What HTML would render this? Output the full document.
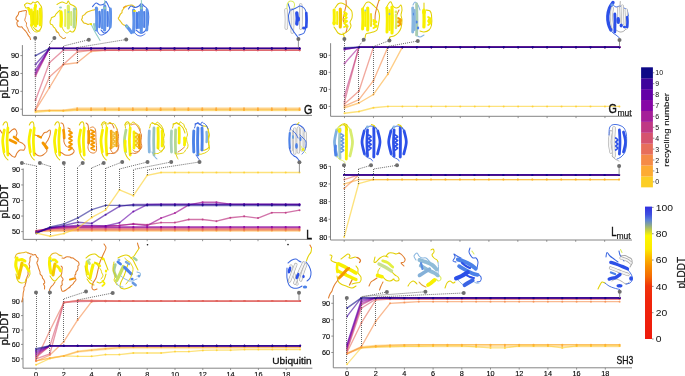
<!DOCTYPE html><html><head><meta charset="utf-8"><style>html,body{margin:0;padding:0;background:#fff;overflow:hidden}svg{display:block;will-change:transform}text{font-family:"Liberation Sans",sans-serif}</style></head><body><svg width="685" height="376" viewBox="0 0 685 376" font-family="Liberation Sans, sans-serif">
<rect width="685" height="376" fill="#fff"/>
<path d="M22.4,45.1V115.4H312" fill="none" stroke="#777" stroke-width="0.9"/>
<path d="M20.4,109.2H22.4" stroke="#777" stroke-width="0.8"/>
<text x="19.2" y="109.5" font-size="7.3" text-anchor="end" dominant-baseline="central" fill="#000" stroke="#000" stroke-width="0.12" transform="translate(0,0) scale(1.0,1)">60</text>
<path d="M20.4,91.33H22.4" stroke="#777" stroke-width="0.8"/>
<text x="19.2" y="91.63" font-size="7.3" text-anchor="end" dominant-baseline="central" fill="#000" stroke="#000" stroke-width="0.12" transform="translate(0,0) scale(1.0,1)">70</text>
<path d="M20.4,73.46H22.4" stroke="#777" stroke-width="0.8"/>
<text x="19.2" y="73.76" font-size="7.3" text-anchor="end" dominant-baseline="central" fill="#000" stroke="#000" stroke-width="0.12" transform="translate(0,0) scale(1.0,1)">80</text>
<path d="M20.4,55.59H22.4" stroke="#777" stroke-width="0.8"/>
<text x="19.2" y="55.89" font-size="7.3" text-anchor="end" dominant-baseline="central" fill="#000" stroke="#000" stroke-width="0.12" transform="translate(0,0) scale(1.0,1)">90</text>
<path d="M35.5,115.4V117.2" stroke="#777" stroke-width="0.8"/>
<path d="M63.3,115.4V117.2" stroke="#777" stroke-width="0.8"/>
<path d="M91.1,115.4V117.2" stroke="#777" stroke-width="0.8"/>
<path d="M118.9,115.4V117.2" stroke="#777" stroke-width="0.8"/>
<path d="M146.7,115.4V117.2" stroke="#777" stroke-width="0.8"/>
<path d="M174.5,115.4V117.2" stroke="#777" stroke-width="0.8"/>
<path d="M202.3,115.4V117.2" stroke="#777" stroke-width="0.8"/>
<path d="M230.1,115.4V117.2" stroke="#777" stroke-width="0.8"/>
<path d="M257.9,115.4V117.2" stroke="#777" stroke-width="0.8"/>
<path d="M285.7,115.4V117.2" stroke="#777" stroke-width="0.8"/>
<path d="M35.5,109.91 L49.4,109.56 L63.3,109.38 L77.2,107.14 L91.1,107.14 L105,107.14 L118.9,107.14 L132.8,107.14 L146.7,107.14 L160.6,107.14 L174.5,107.14 L188.4,107.14 L202.3,107.14 L216.2,107.14 L230.1,107.14 L244,107.14 L257.9,107.14 L271.8,107.14 L285.7,107.14 L299.6,107.14 L299.6,111.26 L285.7,111.26 L271.8,111.26 L257.9,111.26 L244,111.26 L230.1,111.26 L216.2,111.26 L202.3,111.26 L188.4,111.26 L174.5,111.26 L160.6,111.26 L146.7,111.26 L132.8,111.26 L118.9,111.26 L105,111.26 L91.1,111.26 L77.2,111.26 L63.3,111.52 L49.4,111.34 L35.5,111.7Z" fill="#fdc860" fill-opacity="0.5"/>
<path d="M35.5,112.24 L49.4,110.99 L63.3,110.99 L77.2,110.09 L91.1,110.09 L105,110.09 L118.9,110.09 L132.8,110.09 L146.7,110.09 L160.6,110.09 L174.5,110.09 L188.4,110.09 L202.3,110.09 L216.2,110.09 L230.1,110.09 L244,110.09 L257.9,110.09 L271.8,110.09 L285.7,110.09 L299.6,110.09" fill="none" stroke="#fcce25" stroke-width="1.3" stroke-opacity="0.5" stroke-linejoin="round"/>
<circle cx="35.5" cy="112.24" r="1.0" fill="#fcce25" fill-opacity="0.65"/>
<circle cx="49.4" cy="110.99" r="1.0" fill="#fcce25" fill-opacity="0.65"/>
<circle cx="63.3" cy="110.99" r="1.0" fill="#fcce25" fill-opacity="0.65"/>
<circle cx="77.2" cy="110.09" r="1.0" fill="#fcce25" fill-opacity="0.65"/>
<circle cx="91.1" cy="110.09" r="1.0" fill="#fcce25" fill-opacity="0.65"/>
<circle cx="105" cy="110.09" r="1.0" fill="#fcce25" fill-opacity="0.65"/>
<circle cx="118.9" cy="110.09" r="1.0" fill="#fcce25" fill-opacity="0.65"/>
<circle cx="132.8" cy="110.09" r="1.0" fill="#fcce25" fill-opacity="0.65"/>
<circle cx="146.7" cy="110.09" r="1.0" fill="#fcce25" fill-opacity="0.65"/>
<circle cx="160.6" cy="110.09" r="1.0" fill="#fcce25" fill-opacity="0.65"/>
<circle cx="174.5" cy="110.09" r="1.0" fill="#fcce25" fill-opacity="0.65"/>
<circle cx="188.4" cy="110.09" r="1.0" fill="#fcce25" fill-opacity="0.65"/>
<circle cx="202.3" cy="110.09" r="1.0" fill="#fcce25" fill-opacity="0.65"/>
<circle cx="216.2" cy="110.09" r="1.0" fill="#fcce25" fill-opacity="0.65"/>
<circle cx="230.1" cy="110.09" r="1.0" fill="#fcce25" fill-opacity="0.65"/>
<circle cx="244" cy="110.09" r="1.0" fill="#fcce25" fill-opacity="0.65"/>
<circle cx="257.9" cy="110.09" r="1.0" fill="#fcce25" fill-opacity="0.65"/>
<circle cx="271.8" cy="110.09" r="1.0" fill="#fcce25" fill-opacity="0.65"/>
<circle cx="285.7" cy="110.09" r="1.0" fill="#fcce25" fill-opacity="0.65"/>
<circle cx="299.6" cy="110.09" r="1.0" fill="#fcce25" fill-opacity="0.65"/>
<path d="M35.5,110.99 L49.4,110.45 L63.3,110.45 L77.2,109.2 L91.1,109.2 L105,109.2 L118.9,109.2 L132.8,109.2 L146.7,109.2 L160.6,109.2 L174.5,109.2 L188.4,109.2 L202.3,109.2 L216.2,109.2 L230.1,109.2 L244,109.2 L257.9,109.2 L271.8,109.2 L285.7,109.2 L299.6,109.2" fill="none" stroke="#fdab33" stroke-width="1.2" stroke-opacity="0.6" stroke-linejoin="round"/>
<circle cx="35.5" cy="110.99" r="1.0" fill="#fdab33" fill-opacity="0.75"/>
<circle cx="49.4" cy="110.45" r="1.0" fill="#fdab33" fill-opacity="0.75"/>
<circle cx="63.3" cy="110.45" r="1.0" fill="#fdab33" fill-opacity="0.75"/>
<circle cx="77.2" cy="109.2" r="1.0" fill="#fdab33" fill-opacity="0.75"/>
<circle cx="91.1" cy="109.2" r="1.0" fill="#fdab33" fill-opacity="0.75"/>
<circle cx="105" cy="109.2" r="1.0" fill="#fdab33" fill-opacity="0.75"/>
<circle cx="118.9" cy="109.2" r="1.0" fill="#fdab33" fill-opacity="0.75"/>
<circle cx="132.8" cy="109.2" r="1.0" fill="#fdab33" fill-opacity="0.75"/>
<circle cx="146.7" cy="109.2" r="1.0" fill="#fdab33" fill-opacity="0.75"/>
<circle cx="160.6" cy="109.2" r="1.0" fill="#fdab33" fill-opacity="0.75"/>
<circle cx="174.5" cy="109.2" r="1.0" fill="#fdab33" fill-opacity="0.75"/>
<circle cx="188.4" cy="109.2" r="1.0" fill="#fdab33" fill-opacity="0.75"/>
<circle cx="202.3" cy="109.2" r="1.0" fill="#fdab33" fill-opacity="0.75"/>
<circle cx="216.2" cy="109.2" r="1.0" fill="#fdab33" fill-opacity="0.75"/>
<circle cx="230.1" cy="109.2" r="1.0" fill="#fdab33" fill-opacity="0.75"/>
<circle cx="244" cy="109.2" r="1.0" fill="#fdab33" fill-opacity="0.75"/>
<circle cx="257.9" cy="109.2" r="1.0" fill="#fdab33" fill-opacity="0.75"/>
<circle cx="271.8" cy="109.2" r="1.0" fill="#fdab33" fill-opacity="0.75"/>
<circle cx="285.7" cy="109.2" r="1.0" fill="#fdab33" fill-opacity="0.75"/>
<circle cx="299.6" cy="109.2" r="1.0" fill="#fdab33" fill-opacity="0.75"/>
<rect x="76.4" y="107.41" width="1.6" height="3.57" fill="#fca636" fill-opacity="0.8"/>
<rect x="90.3" y="107.41" width="1.6" height="3.57" fill="#fca636" fill-opacity="0.8"/>
<rect x="104.2" y="107.41" width="1.6" height="3.57" fill="#fca636" fill-opacity="0.8"/>
<rect x="118.1" y="107.41" width="1.6" height="3.57" fill="#fca636" fill-opacity="0.8"/>
<rect x="132" y="107.41" width="1.6" height="3.57" fill="#fca636" fill-opacity="0.8"/>
<rect x="145.9" y="107.41" width="1.6" height="3.57" fill="#fca636" fill-opacity="0.8"/>
<rect x="159.8" y="107.41" width="1.6" height="3.57" fill="#fca636" fill-opacity="0.8"/>
<rect x="173.7" y="107.41" width="1.6" height="3.57" fill="#fca636" fill-opacity="0.8"/>
<rect x="187.6" y="107.41" width="1.6" height="3.57" fill="#fca636" fill-opacity="0.8"/>
<rect x="201.5" y="107.41" width="1.6" height="3.57" fill="#fca636" fill-opacity="0.8"/>
<rect x="215.4" y="107.41" width="1.6" height="3.57" fill="#fca636" fill-opacity="0.8"/>
<rect x="229.3" y="107.41" width="1.6" height="3.57" fill="#fca636" fill-opacity="0.8"/>
<rect x="243.2" y="107.41" width="1.6" height="3.57" fill="#fca636" fill-opacity="0.8"/>
<rect x="257.1" y="107.41" width="1.6" height="3.57" fill="#fca636" fill-opacity="0.8"/>
<rect x="271" y="107.41" width="1.6" height="3.57" fill="#fca636" fill-opacity="0.8"/>
<rect x="284.9" y="107.41" width="1.6" height="3.57" fill="#fca636" fill-opacity="0.8"/>
<rect x="298.8" y="107.41" width="1.6" height="3.57" fill="#fca636" fill-opacity="0.8"/>
<path d="M35.5,110.09 L49.4,87.76 L63.3,64.53 L77.2,62.74 L91.1,51.48 L105,50.23 L118.9,50.23 L132.8,50.23 L146.7,50.23 L160.6,50.23 L174.5,50.23 L188.4,50.23 L202.3,50.23 L216.2,50.23 L230.1,50.23 L244,50.23 L257.9,50.23 L271.8,50.23 L285.7,50.23 L299.6,50.23" fill="none" stroke="#f58b47" stroke-width="1.35" stroke-opacity="0.6" stroke-linejoin="round"/>
<circle cx="35.5" cy="110.09" r="1.0" fill="#f58b47" fill-opacity="0.75"/>
<circle cx="49.4" cy="87.76" r="1.0" fill="#f58b47" fill-opacity="0.75"/>
<circle cx="63.3" cy="64.53" r="1.0" fill="#f58b47" fill-opacity="0.75"/>
<circle cx="77.2" cy="62.74" r="1.0" fill="#f58b47" fill-opacity="0.75"/>
<circle cx="91.1" cy="51.48" r="1.0" fill="#f58b47" fill-opacity="0.75"/>
<circle cx="105" cy="50.23" r="1.0" fill="#f58b47" fill-opacity="0.75"/>
<circle cx="118.9" cy="50.23" r="1.0" fill="#f58b47" fill-opacity="0.75"/>
<circle cx="132.8" cy="50.23" r="1.0" fill="#f58b47" fill-opacity="0.75"/>
<circle cx="146.7" cy="50.23" r="1.0" fill="#f58b47" fill-opacity="0.75"/>
<circle cx="160.6" cy="50.23" r="1.0" fill="#f58b47" fill-opacity="0.75"/>
<circle cx="174.5" cy="50.23" r="1.0" fill="#f58b47" fill-opacity="0.75"/>
<circle cx="188.4" cy="50.23" r="1.0" fill="#f58b47" fill-opacity="0.75"/>
<circle cx="202.3" cy="50.23" r="1.0" fill="#f58b47" fill-opacity="0.75"/>
<circle cx="216.2" cy="50.23" r="1.0" fill="#f58b47" fill-opacity="0.75"/>
<circle cx="230.1" cy="50.23" r="1.0" fill="#f58b47" fill-opacity="0.75"/>
<circle cx="244" cy="50.23" r="1.0" fill="#f58b47" fill-opacity="0.75"/>
<circle cx="257.9" cy="50.23" r="1.0" fill="#f58b47" fill-opacity="0.75"/>
<circle cx="271.8" cy="50.23" r="1.0" fill="#f58b47" fill-opacity="0.75"/>
<circle cx="285.7" cy="50.23" r="1.0" fill="#f58b47" fill-opacity="0.75"/>
<circle cx="299.6" cy="50.23" r="1.0" fill="#f58b47" fill-opacity="0.75"/>
<path d="M35.5,109.2 L49.4,77.03 L63.3,64.53 L77.2,52.02 L91.1,50.23 L105,50.23 L118.9,50.23 L132.8,50.23 L146.7,50.23 L160.6,50.23 L174.5,50.23 L188.4,50.23 L202.3,50.23 L216.2,50.23 L230.1,50.23 L244,50.23 L257.9,50.23 L271.8,50.23 L285.7,50.23 L299.6,50.23" fill="none" stroke="#e76e5b" stroke-width="1.35" stroke-opacity="0.6" stroke-linejoin="round"/>
<circle cx="35.5" cy="109.2" r="1.0" fill="#e76e5b" fill-opacity="0.75"/>
<circle cx="49.4" cy="77.03" r="1.0" fill="#e76e5b" fill-opacity="0.75"/>
<circle cx="63.3" cy="64.53" r="1.0" fill="#e76e5b" fill-opacity="0.75"/>
<circle cx="77.2" cy="52.02" r="1.0" fill="#e76e5b" fill-opacity="0.75"/>
<circle cx="91.1" cy="50.23" r="1.0" fill="#e76e5b" fill-opacity="0.75"/>
<circle cx="105" cy="50.23" r="1.0" fill="#e76e5b" fill-opacity="0.75"/>
<circle cx="118.9" cy="50.23" r="1.0" fill="#e76e5b" fill-opacity="0.75"/>
<circle cx="132.8" cy="50.23" r="1.0" fill="#e76e5b" fill-opacity="0.75"/>
<circle cx="146.7" cy="50.23" r="1.0" fill="#e76e5b" fill-opacity="0.75"/>
<circle cx="160.6" cy="50.23" r="1.0" fill="#e76e5b" fill-opacity="0.75"/>
<circle cx="174.5" cy="50.23" r="1.0" fill="#e76e5b" fill-opacity="0.75"/>
<circle cx="188.4" cy="50.23" r="1.0" fill="#e76e5b" fill-opacity="0.75"/>
<circle cx="202.3" cy="50.23" r="1.0" fill="#e76e5b" fill-opacity="0.75"/>
<circle cx="216.2" cy="50.23" r="1.0" fill="#e76e5b" fill-opacity="0.75"/>
<circle cx="230.1" cy="50.23" r="1.0" fill="#e76e5b" fill-opacity="0.75"/>
<circle cx="244" cy="50.23" r="1.0" fill="#e76e5b" fill-opacity="0.75"/>
<circle cx="257.9" cy="50.23" r="1.0" fill="#e76e5b" fill-opacity="0.75"/>
<circle cx="271.8" cy="50.23" r="1.0" fill="#e76e5b" fill-opacity="0.75"/>
<circle cx="285.7" cy="50.23" r="1.0" fill="#e76e5b" fill-opacity="0.75"/>
<circle cx="299.6" cy="50.23" r="1.0" fill="#e76e5b" fill-opacity="0.75"/>
<path d="M35.5,100.27 L49.4,62.74 L63.3,50.23 L77.2,50.23 L91.1,50.23 L105,50.23 L118.9,50.23 L132.8,50.23 L146.7,50.23 L160.6,50.23 L174.5,50.23 L188.4,50.23 L202.3,50.23 L216.2,50.23 L230.1,50.23 L244,50.23 L257.9,50.23 L271.8,50.23 L285.7,50.23 L299.6,50.23" fill="none" stroke="#d5536f" stroke-width="1.35" stroke-opacity="0.6" stroke-linejoin="round"/>
<circle cx="35.5" cy="100.27" r="1.0" fill="#d5536f" fill-opacity="0.75"/>
<circle cx="49.4" cy="62.74" r="1.0" fill="#d5536f" fill-opacity="0.75"/>
<circle cx="63.3" cy="50.23" r="1.0" fill="#d5536f" fill-opacity="0.75"/>
<circle cx="77.2" cy="50.23" r="1.0" fill="#d5536f" fill-opacity="0.75"/>
<circle cx="91.1" cy="50.23" r="1.0" fill="#d5536f" fill-opacity="0.75"/>
<circle cx="105" cy="50.23" r="1.0" fill="#d5536f" fill-opacity="0.75"/>
<circle cx="118.9" cy="50.23" r="1.0" fill="#d5536f" fill-opacity="0.75"/>
<circle cx="132.8" cy="50.23" r="1.0" fill="#d5536f" fill-opacity="0.75"/>
<circle cx="146.7" cy="50.23" r="1.0" fill="#d5536f" fill-opacity="0.75"/>
<circle cx="160.6" cy="50.23" r="1.0" fill="#d5536f" fill-opacity="0.75"/>
<circle cx="174.5" cy="50.23" r="1.0" fill="#d5536f" fill-opacity="0.75"/>
<circle cx="188.4" cy="50.23" r="1.0" fill="#d5536f" fill-opacity="0.75"/>
<circle cx="202.3" cy="50.23" r="1.0" fill="#d5536f" fill-opacity="0.75"/>
<circle cx="216.2" cy="50.23" r="1.0" fill="#d5536f" fill-opacity="0.75"/>
<circle cx="230.1" cy="50.23" r="1.0" fill="#d5536f" fill-opacity="0.75"/>
<circle cx="244" cy="50.23" r="1.0" fill="#d5536f" fill-opacity="0.75"/>
<circle cx="257.9" cy="50.23" r="1.0" fill="#d5536f" fill-opacity="0.75"/>
<circle cx="271.8" cy="50.23" r="1.0" fill="#d5536f" fill-opacity="0.75"/>
<circle cx="285.7" cy="50.23" r="1.0" fill="#d5536f" fill-opacity="0.75"/>
<circle cx="299.6" cy="50.23" r="1.0" fill="#d5536f" fill-opacity="0.75"/>
<path d="M35.5,76.14 L49.4,48.44 L63.3,48.44 L77.2,48.44 L91.1,48.44 L105,48.44 L118.9,48.44 L132.8,48.44 L146.7,48.44 L160.6,48.44 L174.5,48.44 L188.4,48.44 L202.3,48.44 L216.2,48.44 L230.1,48.44 L244,48.44 L257.9,48.44 L271.8,48.44 L285.7,48.44 L299.6,48.44" fill="none" stroke="#bf3984" stroke-width="1.35" stroke-opacity="0.6" stroke-linejoin="round"/>
<circle cx="35.5" cy="76.14" r="1.0" fill="#bf3984" fill-opacity="0.75"/>
<circle cx="49.4" cy="48.44" r="1.0" fill="#bf3984" fill-opacity="0.75"/>
<circle cx="63.3" cy="48.44" r="1.0" fill="#bf3984" fill-opacity="0.75"/>
<circle cx="77.2" cy="48.44" r="1.0" fill="#bf3984" fill-opacity="0.75"/>
<circle cx="91.1" cy="48.44" r="1.0" fill="#bf3984" fill-opacity="0.75"/>
<circle cx="105" cy="48.44" r="1.0" fill="#bf3984" fill-opacity="0.75"/>
<circle cx="118.9" cy="48.44" r="1.0" fill="#bf3984" fill-opacity="0.75"/>
<circle cx="132.8" cy="48.44" r="1.0" fill="#bf3984" fill-opacity="0.75"/>
<circle cx="146.7" cy="48.44" r="1.0" fill="#bf3984" fill-opacity="0.75"/>
<circle cx="160.6" cy="48.44" r="1.0" fill="#bf3984" fill-opacity="0.75"/>
<circle cx="174.5" cy="48.44" r="1.0" fill="#bf3984" fill-opacity="0.75"/>
<circle cx="188.4" cy="48.44" r="1.0" fill="#bf3984" fill-opacity="0.75"/>
<circle cx="202.3" cy="48.44" r="1.0" fill="#bf3984" fill-opacity="0.75"/>
<circle cx="216.2" cy="48.44" r="1.0" fill="#bf3984" fill-opacity="0.75"/>
<circle cx="230.1" cy="48.44" r="1.0" fill="#bf3984" fill-opacity="0.75"/>
<circle cx="244" cy="48.44" r="1.0" fill="#bf3984" fill-opacity="0.75"/>
<circle cx="257.9" cy="48.44" r="1.0" fill="#bf3984" fill-opacity="0.75"/>
<circle cx="271.8" cy="48.44" r="1.0" fill="#bf3984" fill-opacity="0.75"/>
<circle cx="285.7" cy="48.44" r="1.0" fill="#bf3984" fill-opacity="0.75"/>
<circle cx="299.6" cy="48.44" r="1.0" fill="#bf3984" fill-opacity="0.75"/>
<path d="M35.5,74.35 L49.4,48.44 L63.3,48.44 L77.2,48.44 L91.1,48.44 L105,48.44 L118.9,48.44 L132.8,48.44 L146.7,48.44 L160.6,48.44 L174.5,48.44 L188.4,48.44 L202.3,48.44 L216.2,48.44 L230.1,48.44 L244,48.44 L257.9,48.44 L271.8,48.44 L285.7,48.44 L299.6,48.44" fill="none" stroke="#a51f99" stroke-width="1.35" stroke-opacity="0.6" stroke-linejoin="round"/>
<circle cx="35.5" cy="74.35" r="1.0" fill="#a51f99" fill-opacity="0.75"/>
<circle cx="49.4" cy="48.44" r="1.0" fill="#a51f99" fill-opacity="0.75"/>
<circle cx="63.3" cy="48.44" r="1.0" fill="#a51f99" fill-opacity="0.75"/>
<circle cx="77.2" cy="48.44" r="1.0" fill="#a51f99" fill-opacity="0.75"/>
<circle cx="91.1" cy="48.44" r="1.0" fill="#a51f99" fill-opacity="0.75"/>
<circle cx="105" cy="48.44" r="1.0" fill="#a51f99" fill-opacity="0.75"/>
<circle cx="118.9" cy="48.44" r="1.0" fill="#a51f99" fill-opacity="0.75"/>
<circle cx="132.8" cy="48.44" r="1.0" fill="#a51f99" fill-opacity="0.75"/>
<circle cx="146.7" cy="48.44" r="1.0" fill="#a51f99" fill-opacity="0.75"/>
<circle cx="160.6" cy="48.44" r="1.0" fill="#a51f99" fill-opacity="0.75"/>
<circle cx="174.5" cy="48.44" r="1.0" fill="#a51f99" fill-opacity="0.75"/>
<circle cx="188.4" cy="48.44" r="1.0" fill="#a51f99" fill-opacity="0.75"/>
<circle cx="202.3" cy="48.44" r="1.0" fill="#a51f99" fill-opacity="0.75"/>
<circle cx="216.2" cy="48.44" r="1.0" fill="#a51f99" fill-opacity="0.75"/>
<circle cx="230.1" cy="48.44" r="1.0" fill="#a51f99" fill-opacity="0.75"/>
<circle cx="244" cy="48.44" r="1.0" fill="#a51f99" fill-opacity="0.75"/>
<circle cx="257.9" cy="48.44" r="1.0" fill="#a51f99" fill-opacity="0.75"/>
<circle cx="271.8" cy="48.44" r="1.0" fill="#a51f99" fill-opacity="0.75"/>
<circle cx="285.7" cy="48.44" r="1.0" fill="#a51f99" fill-opacity="0.75"/>
<circle cx="299.6" cy="48.44" r="1.0" fill="#a51f99" fill-opacity="0.75"/>
<path d="M35.5,72.57 L49.4,48.44 L63.3,48.44 L77.2,48.44 L91.1,48.44 L105,48.44 L118.9,48.44 L132.8,48.44 L146.7,48.44 L160.6,48.44 L174.5,48.44 L188.4,48.44 L202.3,48.44 L216.2,48.44 L230.1,48.44 L244,48.44 L257.9,48.44 L271.8,48.44 L285.7,48.44 L299.6,48.44" fill="none" stroke="#8606a6" stroke-width="1.35" stroke-opacity="0.6" stroke-linejoin="round"/>
<circle cx="35.5" cy="72.57" r="1.0" fill="#8606a6" fill-opacity="0.75"/>
<circle cx="49.4" cy="48.44" r="1.0" fill="#8606a6" fill-opacity="0.75"/>
<circle cx="63.3" cy="48.44" r="1.0" fill="#8606a6" fill-opacity="0.75"/>
<circle cx="77.2" cy="48.44" r="1.0" fill="#8606a6" fill-opacity="0.75"/>
<circle cx="91.1" cy="48.44" r="1.0" fill="#8606a6" fill-opacity="0.75"/>
<circle cx="105" cy="48.44" r="1.0" fill="#8606a6" fill-opacity="0.75"/>
<circle cx="118.9" cy="48.44" r="1.0" fill="#8606a6" fill-opacity="0.75"/>
<circle cx="132.8" cy="48.44" r="1.0" fill="#8606a6" fill-opacity="0.75"/>
<circle cx="146.7" cy="48.44" r="1.0" fill="#8606a6" fill-opacity="0.75"/>
<circle cx="160.6" cy="48.44" r="1.0" fill="#8606a6" fill-opacity="0.75"/>
<circle cx="174.5" cy="48.44" r="1.0" fill="#8606a6" fill-opacity="0.75"/>
<circle cx="188.4" cy="48.44" r="1.0" fill="#8606a6" fill-opacity="0.75"/>
<circle cx="202.3" cy="48.44" r="1.0" fill="#8606a6" fill-opacity="0.75"/>
<circle cx="216.2" cy="48.44" r="1.0" fill="#8606a6" fill-opacity="0.75"/>
<circle cx="230.1" cy="48.44" r="1.0" fill="#8606a6" fill-opacity="0.75"/>
<circle cx="244" cy="48.44" r="1.0" fill="#8606a6" fill-opacity="0.75"/>
<circle cx="257.9" cy="48.44" r="1.0" fill="#8606a6" fill-opacity="0.75"/>
<circle cx="271.8" cy="48.44" r="1.0" fill="#8606a6" fill-opacity="0.75"/>
<circle cx="285.7" cy="48.44" r="1.0" fill="#8606a6" fill-opacity="0.75"/>
<circle cx="299.6" cy="48.44" r="1.0" fill="#8606a6" fill-opacity="0.75"/>
<path d="M35.5,69.89 L49.4,48.44 L63.3,48.44 L77.2,48.44 L91.1,48.44 L105,48.44 L118.9,48.44 L132.8,48.44 L146.7,48.44 L160.6,48.44 L174.5,48.44 L188.4,48.44 L202.3,48.44 L216.2,48.44 L230.1,48.44 L244,48.44 L257.9,48.44 L271.8,48.44 L285.7,48.44 L299.6,48.44" fill="none" stroke="#6300a7" stroke-width="1.35" stroke-opacity="0.6" stroke-linejoin="round"/>
<circle cx="35.5" cy="69.89" r="1.0" fill="#6300a7" fill-opacity="0.75"/>
<circle cx="49.4" cy="48.44" r="1.0" fill="#6300a7" fill-opacity="0.75"/>
<circle cx="63.3" cy="48.44" r="1.0" fill="#6300a7" fill-opacity="0.75"/>
<circle cx="77.2" cy="48.44" r="1.0" fill="#6300a7" fill-opacity="0.75"/>
<circle cx="91.1" cy="48.44" r="1.0" fill="#6300a7" fill-opacity="0.75"/>
<circle cx="105" cy="48.44" r="1.0" fill="#6300a7" fill-opacity="0.75"/>
<circle cx="118.9" cy="48.44" r="1.0" fill="#6300a7" fill-opacity="0.75"/>
<circle cx="132.8" cy="48.44" r="1.0" fill="#6300a7" fill-opacity="0.75"/>
<circle cx="146.7" cy="48.44" r="1.0" fill="#6300a7" fill-opacity="0.75"/>
<circle cx="160.6" cy="48.44" r="1.0" fill="#6300a7" fill-opacity="0.75"/>
<circle cx="174.5" cy="48.44" r="1.0" fill="#6300a7" fill-opacity="0.75"/>
<circle cx="188.4" cy="48.44" r="1.0" fill="#6300a7" fill-opacity="0.75"/>
<circle cx="202.3" cy="48.44" r="1.0" fill="#6300a7" fill-opacity="0.75"/>
<circle cx="216.2" cy="48.44" r="1.0" fill="#6300a7" fill-opacity="0.75"/>
<circle cx="230.1" cy="48.44" r="1.0" fill="#6300a7" fill-opacity="0.75"/>
<circle cx="244" cy="48.44" r="1.0" fill="#6300a7" fill-opacity="0.75"/>
<circle cx="257.9" cy="48.44" r="1.0" fill="#6300a7" fill-opacity="0.75"/>
<circle cx="271.8" cy="48.44" r="1.0" fill="#6300a7" fill-opacity="0.75"/>
<circle cx="285.7" cy="48.44" r="1.0" fill="#6300a7" fill-opacity="0.75"/>
<circle cx="299.6" cy="48.44" r="1.0" fill="#6300a7" fill-opacity="0.75"/>
<path d="M35.5,64.53 L49.4,48.44 L63.3,48.44 L77.2,48.44 L91.1,48.44 L105,48.44 L118.9,48.44 L132.8,48.44 L146.7,48.44 L160.6,48.44 L174.5,48.44 L188.4,48.44 L202.3,48.44 L216.2,48.44 L230.1,48.44 L244,48.44 L257.9,48.44 L271.8,48.44 L285.7,48.44 L299.6,48.44" fill="none" stroke="#3e049c" stroke-width="1.35" stroke-opacity="0.6" stroke-linejoin="round"/>
<circle cx="35.5" cy="64.53" r="1.0" fill="#3e049c" fill-opacity="0.75"/>
<circle cx="49.4" cy="48.44" r="1.0" fill="#3e049c" fill-opacity="0.75"/>
<circle cx="63.3" cy="48.44" r="1.0" fill="#3e049c" fill-opacity="0.75"/>
<circle cx="77.2" cy="48.44" r="1.0" fill="#3e049c" fill-opacity="0.75"/>
<circle cx="91.1" cy="48.44" r="1.0" fill="#3e049c" fill-opacity="0.75"/>
<circle cx="105" cy="48.44" r="1.0" fill="#3e049c" fill-opacity="0.75"/>
<circle cx="118.9" cy="48.44" r="1.0" fill="#3e049c" fill-opacity="0.75"/>
<circle cx="132.8" cy="48.44" r="1.0" fill="#3e049c" fill-opacity="0.75"/>
<circle cx="146.7" cy="48.44" r="1.0" fill="#3e049c" fill-opacity="0.75"/>
<circle cx="160.6" cy="48.44" r="1.0" fill="#3e049c" fill-opacity="0.75"/>
<circle cx="174.5" cy="48.44" r="1.0" fill="#3e049c" fill-opacity="0.75"/>
<circle cx="188.4" cy="48.44" r="1.0" fill="#3e049c" fill-opacity="0.75"/>
<circle cx="202.3" cy="48.44" r="1.0" fill="#3e049c" fill-opacity="0.75"/>
<circle cx="216.2" cy="48.44" r="1.0" fill="#3e049c" fill-opacity="0.75"/>
<circle cx="230.1" cy="48.44" r="1.0" fill="#3e049c" fill-opacity="0.75"/>
<circle cx="244" cy="48.44" r="1.0" fill="#3e049c" fill-opacity="0.75"/>
<circle cx="257.9" cy="48.44" r="1.0" fill="#3e049c" fill-opacity="0.75"/>
<circle cx="271.8" cy="48.44" r="1.0" fill="#3e049c" fill-opacity="0.75"/>
<circle cx="285.7" cy="48.44" r="1.0" fill="#3e049c" fill-opacity="0.75"/>
<circle cx="299.6" cy="48.44" r="1.0" fill="#3e049c" fill-opacity="0.75"/>
<path d="M35.5,55.59 L49.4,48.44 L63.3,48.44 L77.2,48.44 L91.1,48.44 L105,48.44 L118.9,48.44 L132.8,48.44 L146.7,48.44 L160.6,48.44 L174.5,48.44 L188.4,48.44 L202.3,48.44 L216.2,48.44 L230.1,48.44 L244,48.44 L257.9,48.44 L271.8,48.44 L285.7,48.44 L299.6,48.44" fill="none" stroke="#0d0887" stroke-width="1.5" stroke-opacity="0.6" stroke-linejoin="round"/>
<circle cx="35.5" cy="55.59" r="1.0" fill="#0d0887" fill-opacity="0.75"/>
<circle cx="49.4" cy="48.44" r="1.0" fill="#0d0887" fill-opacity="0.75"/>
<circle cx="63.3" cy="48.44" r="1.0" fill="#0d0887" fill-opacity="0.75"/>
<circle cx="77.2" cy="48.44" r="1.0" fill="#0d0887" fill-opacity="0.75"/>
<circle cx="91.1" cy="48.44" r="1.0" fill="#0d0887" fill-opacity="0.75"/>
<circle cx="105" cy="48.44" r="1.0" fill="#0d0887" fill-opacity="0.75"/>
<circle cx="118.9" cy="48.44" r="1.0" fill="#0d0887" fill-opacity="0.75"/>
<circle cx="132.8" cy="48.44" r="1.0" fill="#0d0887" fill-opacity="0.75"/>
<circle cx="146.7" cy="48.44" r="1.0" fill="#0d0887" fill-opacity="0.75"/>
<circle cx="160.6" cy="48.44" r="1.0" fill="#0d0887" fill-opacity="0.75"/>
<circle cx="174.5" cy="48.44" r="1.0" fill="#0d0887" fill-opacity="0.75"/>
<circle cx="188.4" cy="48.44" r="1.0" fill="#0d0887" fill-opacity="0.75"/>
<circle cx="202.3" cy="48.44" r="1.0" fill="#0d0887" fill-opacity="0.75"/>
<circle cx="216.2" cy="48.44" r="1.0" fill="#0d0887" fill-opacity="0.75"/>
<circle cx="230.1" cy="48.44" r="1.0" fill="#0d0887" fill-opacity="0.75"/>
<circle cx="244" cy="48.44" r="1.0" fill="#0d0887" fill-opacity="0.75"/>
<circle cx="257.9" cy="48.44" r="1.0" fill="#0d0887" fill-opacity="0.75"/>
<circle cx="271.8" cy="48.44" r="1.0" fill="#0d0887" fill-opacity="0.75"/>
<circle cx="285.7" cy="48.44" r="1.0" fill="#0d0887" fill-opacity="0.75"/>
<circle cx="299.6" cy="48.44" r="1.0" fill="#0d0887" fill-opacity="0.75"/>
<path d="M330.6,43.2V116.3H632" fill="none" stroke="#777" stroke-width="0.9"/>
<path d="M328.6,106.4H330.6" stroke="#777" stroke-width="0.8"/>
<text x="327.4" y="106.7" font-size="7.3" text-anchor="end" dominant-baseline="central" fill="#000" stroke="#000" stroke-width="0.12" transform="translate(0,0) scale(1.0,1)">60</text>
<path d="M328.6,89.37H330.6" stroke="#777" stroke-width="0.8"/>
<text x="327.4" y="89.67" font-size="7.3" text-anchor="end" dominant-baseline="central" fill="#000" stroke="#000" stroke-width="0.12" transform="translate(0,0) scale(1.0,1)">70</text>
<path d="M328.6,72.34H330.6" stroke="#777" stroke-width="0.8"/>
<text x="327.4" y="72.64" font-size="7.3" text-anchor="end" dominant-baseline="central" fill="#000" stroke="#000" stroke-width="0.12" transform="translate(0,0) scale(1.0,1)">80</text>
<path d="M328.6,55.31H330.6" stroke="#777" stroke-width="0.8"/>
<text x="327.4" y="55.61" font-size="7.3" text-anchor="end" dominant-baseline="central" fill="#000" stroke="#000" stroke-width="0.12" transform="translate(0,0) scale(1.0,1)">90</text>
<path d="M344.5,116.3V118.1" stroke="#777" stroke-width="0.8"/>
<path d="M373.44,116.3V118.1" stroke="#777" stroke-width="0.8"/>
<path d="M402.38,116.3V118.1" stroke="#777" stroke-width="0.8"/>
<path d="M431.32,116.3V118.1" stroke="#777" stroke-width="0.8"/>
<path d="M460.26,116.3V118.1" stroke="#777" stroke-width="0.8"/>
<path d="M489.2,116.3V118.1" stroke="#777" stroke-width="0.8"/>
<path d="M518.14,116.3V118.1" stroke="#777" stroke-width="0.8"/>
<path d="M547.08,116.3V118.1" stroke="#777" stroke-width="0.8"/>
<path d="M576.02,116.3V118.1" stroke="#777" stroke-width="0.8"/>
<path d="M604.96,116.3V118.1" stroke="#777" stroke-width="0.8"/>
<path d="M344.5,113.21 L358.97,111.51 L373.44,107.76 L387.91,106.4 L402.38,106.4 L416.85,106.4 L431.32,106.4 L445.79,106.4 L460.26,106.4 L474.73,106.4 L489.2,106.4 L503.67,106.4 L518.14,106.4 L532.61,106.4 L547.08,106.4 L561.55,106.4 L576.02,106.4 L590.49,106.4 L604.96,106.4 L619.43,106.4" fill="none" stroke="#fcce25" stroke-width="1.35" stroke-opacity="0.6" stroke-linejoin="round"/>
<circle cx="344.5" cy="113.21" r="1.0" fill="#fcce25" fill-opacity="0.75"/>
<circle cx="358.97" cy="111.51" r="1.0" fill="#fcce25" fill-opacity="0.75"/>
<circle cx="373.44" cy="107.76" r="1.0" fill="#fcce25" fill-opacity="0.75"/>
<circle cx="387.91" cy="106.4" r="1.0" fill="#fcce25" fill-opacity="0.75"/>
<circle cx="402.38" cy="106.4" r="1.0" fill="#fcce25" fill-opacity="0.75"/>
<circle cx="416.85" cy="106.4" r="1.0" fill="#fcce25" fill-opacity="0.75"/>
<circle cx="431.32" cy="106.4" r="1.0" fill="#fcce25" fill-opacity="0.75"/>
<circle cx="445.79" cy="106.4" r="1.0" fill="#fcce25" fill-opacity="0.75"/>
<circle cx="460.26" cy="106.4" r="1.0" fill="#fcce25" fill-opacity="0.75"/>
<circle cx="474.73" cy="106.4" r="1.0" fill="#fcce25" fill-opacity="0.75"/>
<circle cx="489.2" cy="106.4" r="1.0" fill="#fcce25" fill-opacity="0.75"/>
<circle cx="503.67" cy="106.4" r="1.0" fill="#fcce25" fill-opacity="0.75"/>
<circle cx="518.14" cy="106.4" r="1.0" fill="#fcce25" fill-opacity="0.75"/>
<circle cx="532.61" cy="106.4" r="1.0" fill="#fcce25" fill-opacity="0.75"/>
<circle cx="547.08" cy="106.4" r="1.0" fill="#fcce25" fill-opacity="0.75"/>
<circle cx="561.55" cy="106.4" r="1.0" fill="#fcce25" fill-opacity="0.75"/>
<circle cx="576.02" cy="106.4" r="1.0" fill="#fcce25" fill-opacity="0.75"/>
<circle cx="590.49" cy="106.4" r="1.0" fill="#fcce25" fill-opacity="0.75"/>
<circle cx="604.96" cy="106.4" r="1.0" fill="#fcce25" fill-opacity="0.75"/>
<circle cx="619.43" cy="106.4" r="1.0" fill="#fcce25" fill-opacity="0.75"/>
<path d="M344.5,107.76 L358.97,102.99 L373.44,94.48 L387.91,74.21 L402.38,47.14 L416.85,47.14 L431.32,47.14 L445.79,47.14 L460.26,47.14 L474.73,47.14 L489.2,47.14 L503.67,47.14 L518.14,47.14 L532.61,47.14 L547.08,47.14 L561.55,47.14 L576.02,47.14 L590.49,47.14 L604.96,47.14 L619.43,47.14" fill="none" stroke="#fdab33" stroke-width="1.35" stroke-opacity="0.6" stroke-linejoin="round"/>
<circle cx="344.5" cy="107.76" r="1.0" fill="#fdab33" fill-opacity="0.75"/>
<circle cx="358.97" cy="102.99" r="1.0" fill="#fdab33" fill-opacity="0.75"/>
<circle cx="373.44" cy="94.48" r="1.0" fill="#fdab33" fill-opacity="0.75"/>
<circle cx="387.91" cy="74.21" r="1.0" fill="#fdab33" fill-opacity="0.75"/>
<circle cx="402.38" cy="47.14" r="1.0" fill="#fdab33" fill-opacity="0.75"/>
<circle cx="416.85" cy="47.14" r="1.0" fill="#fdab33" fill-opacity="0.75"/>
<circle cx="431.32" cy="47.14" r="1.0" fill="#fdab33" fill-opacity="0.75"/>
<circle cx="445.79" cy="47.14" r="1.0" fill="#fdab33" fill-opacity="0.75"/>
<circle cx="460.26" cy="47.14" r="1.0" fill="#fdab33" fill-opacity="0.75"/>
<circle cx="474.73" cy="47.14" r="1.0" fill="#fdab33" fill-opacity="0.75"/>
<circle cx="489.2" cy="47.14" r="1.0" fill="#fdab33" fill-opacity="0.75"/>
<circle cx="503.67" cy="47.14" r="1.0" fill="#fdab33" fill-opacity="0.75"/>
<circle cx="518.14" cy="47.14" r="1.0" fill="#fdab33" fill-opacity="0.75"/>
<circle cx="532.61" cy="47.14" r="1.0" fill="#fdab33" fill-opacity="0.75"/>
<circle cx="547.08" cy="47.14" r="1.0" fill="#fdab33" fill-opacity="0.75"/>
<circle cx="561.55" cy="47.14" r="1.0" fill="#fdab33" fill-opacity="0.75"/>
<circle cx="576.02" cy="47.14" r="1.0" fill="#fdab33" fill-opacity="0.75"/>
<circle cx="590.49" cy="47.14" r="1.0" fill="#fdab33" fill-opacity="0.75"/>
<circle cx="604.96" cy="47.14" r="1.0" fill="#fdab33" fill-opacity="0.75"/>
<circle cx="619.43" cy="47.14" r="1.0" fill="#fdab33" fill-opacity="0.75"/>
<path d="M344.5,106.06 L358.97,99.59 L373.44,80.68 L387.91,47.14 L402.38,47.14 L416.85,47.14 L431.32,47.14 L445.79,47.14 L460.26,47.14 L474.73,47.14 L489.2,47.14 L503.67,47.14 L518.14,47.14 L532.61,47.14 L547.08,47.14 L561.55,47.14 L576.02,47.14 L590.49,47.14 L604.96,47.14 L619.43,47.14" fill="none" stroke="#f58b47" stroke-width="1.35" stroke-opacity="0.6" stroke-linejoin="round"/>
<circle cx="344.5" cy="106.06" r="1.0" fill="#f58b47" fill-opacity="0.75"/>
<circle cx="358.97" cy="99.59" r="1.0" fill="#f58b47" fill-opacity="0.75"/>
<circle cx="373.44" cy="80.68" r="1.0" fill="#f58b47" fill-opacity="0.75"/>
<circle cx="387.91" cy="47.14" r="1.0" fill="#f58b47" fill-opacity="0.75"/>
<circle cx="402.38" cy="47.14" r="1.0" fill="#f58b47" fill-opacity="0.75"/>
<circle cx="416.85" cy="47.14" r="1.0" fill="#f58b47" fill-opacity="0.75"/>
<circle cx="431.32" cy="47.14" r="1.0" fill="#f58b47" fill-opacity="0.75"/>
<circle cx="445.79" cy="47.14" r="1.0" fill="#f58b47" fill-opacity="0.75"/>
<circle cx="460.26" cy="47.14" r="1.0" fill="#f58b47" fill-opacity="0.75"/>
<circle cx="474.73" cy="47.14" r="1.0" fill="#f58b47" fill-opacity="0.75"/>
<circle cx="489.2" cy="47.14" r="1.0" fill="#f58b47" fill-opacity="0.75"/>
<circle cx="503.67" cy="47.14" r="1.0" fill="#f58b47" fill-opacity="0.75"/>
<circle cx="518.14" cy="47.14" r="1.0" fill="#f58b47" fill-opacity="0.75"/>
<circle cx="532.61" cy="47.14" r="1.0" fill="#f58b47" fill-opacity="0.75"/>
<circle cx="547.08" cy="47.14" r="1.0" fill="#f58b47" fill-opacity="0.75"/>
<circle cx="561.55" cy="47.14" r="1.0" fill="#f58b47" fill-opacity="0.75"/>
<circle cx="576.02" cy="47.14" r="1.0" fill="#f58b47" fill-opacity="0.75"/>
<circle cx="590.49" cy="47.14" r="1.0" fill="#f58b47" fill-opacity="0.75"/>
<circle cx="604.96" cy="47.14" r="1.0" fill="#f58b47" fill-opacity="0.75"/>
<circle cx="619.43" cy="47.14" r="1.0" fill="#f58b47" fill-opacity="0.75"/>
<path d="M344.5,104.02 L358.97,91.07 L373.44,47.14 L387.91,47.14 L402.38,47.14 L416.85,47.14 L431.32,47.14 L445.79,47.14 L460.26,47.14 L474.73,47.14 L489.2,47.14 L503.67,47.14 L518.14,47.14 L532.61,47.14 L547.08,47.14 L561.55,47.14 L576.02,47.14 L590.49,47.14 L604.96,47.14 L619.43,47.14" fill="none" stroke="#e76e5b" stroke-width="1.35" stroke-opacity="0.6" stroke-linejoin="round"/>
<circle cx="344.5" cy="104.02" r="1.0" fill="#e76e5b" fill-opacity="0.75"/>
<circle cx="358.97" cy="91.07" r="1.0" fill="#e76e5b" fill-opacity="0.75"/>
<circle cx="373.44" cy="47.14" r="1.0" fill="#e76e5b" fill-opacity="0.75"/>
<circle cx="387.91" cy="47.14" r="1.0" fill="#e76e5b" fill-opacity="0.75"/>
<circle cx="402.38" cy="47.14" r="1.0" fill="#e76e5b" fill-opacity="0.75"/>
<circle cx="416.85" cy="47.14" r="1.0" fill="#e76e5b" fill-opacity="0.75"/>
<circle cx="431.32" cy="47.14" r="1.0" fill="#e76e5b" fill-opacity="0.75"/>
<circle cx="445.79" cy="47.14" r="1.0" fill="#e76e5b" fill-opacity="0.75"/>
<circle cx="460.26" cy="47.14" r="1.0" fill="#e76e5b" fill-opacity="0.75"/>
<circle cx="474.73" cy="47.14" r="1.0" fill="#e76e5b" fill-opacity="0.75"/>
<circle cx="489.2" cy="47.14" r="1.0" fill="#e76e5b" fill-opacity="0.75"/>
<circle cx="503.67" cy="47.14" r="1.0" fill="#e76e5b" fill-opacity="0.75"/>
<circle cx="518.14" cy="47.14" r="1.0" fill="#e76e5b" fill-opacity="0.75"/>
<circle cx="532.61" cy="47.14" r="1.0" fill="#e76e5b" fill-opacity="0.75"/>
<circle cx="547.08" cy="47.14" r="1.0" fill="#e76e5b" fill-opacity="0.75"/>
<circle cx="561.55" cy="47.14" r="1.0" fill="#e76e5b" fill-opacity="0.75"/>
<circle cx="576.02" cy="47.14" r="1.0" fill="#e76e5b" fill-opacity="0.75"/>
<circle cx="590.49" cy="47.14" r="1.0" fill="#e76e5b" fill-opacity="0.75"/>
<circle cx="604.96" cy="47.14" r="1.0" fill="#e76e5b" fill-opacity="0.75"/>
<circle cx="619.43" cy="47.14" r="1.0" fill="#e76e5b" fill-opacity="0.75"/>
<path d="M344.5,101.8 L358.97,47.14 L373.44,47.14 L387.91,47.14 L402.38,47.14 L416.85,47.14 L431.32,47.14 L445.79,47.14 L460.26,47.14 L474.73,47.14 L489.2,47.14 L503.67,47.14 L518.14,47.14 L532.61,47.14 L547.08,47.14 L561.55,47.14 L576.02,47.14 L590.49,47.14 L604.96,47.14 L619.43,47.14" fill="none" stroke="#d5536f" stroke-width="1.35" stroke-opacity="0.6" stroke-linejoin="round"/>
<circle cx="344.5" cy="101.8" r="1.0" fill="#d5536f" fill-opacity="0.75"/>
<circle cx="358.97" cy="47.14" r="1.0" fill="#d5536f" fill-opacity="0.75"/>
<circle cx="373.44" cy="47.14" r="1.0" fill="#d5536f" fill-opacity="0.75"/>
<circle cx="387.91" cy="47.14" r="1.0" fill="#d5536f" fill-opacity="0.75"/>
<circle cx="402.38" cy="47.14" r="1.0" fill="#d5536f" fill-opacity="0.75"/>
<circle cx="416.85" cy="47.14" r="1.0" fill="#d5536f" fill-opacity="0.75"/>
<circle cx="431.32" cy="47.14" r="1.0" fill="#d5536f" fill-opacity="0.75"/>
<circle cx="445.79" cy="47.14" r="1.0" fill="#d5536f" fill-opacity="0.75"/>
<circle cx="460.26" cy="47.14" r="1.0" fill="#d5536f" fill-opacity="0.75"/>
<circle cx="474.73" cy="47.14" r="1.0" fill="#d5536f" fill-opacity="0.75"/>
<circle cx="489.2" cy="47.14" r="1.0" fill="#d5536f" fill-opacity="0.75"/>
<circle cx="503.67" cy="47.14" r="1.0" fill="#d5536f" fill-opacity="0.75"/>
<circle cx="518.14" cy="47.14" r="1.0" fill="#d5536f" fill-opacity="0.75"/>
<circle cx="532.61" cy="47.14" r="1.0" fill="#d5536f" fill-opacity="0.75"/>
<circle cx="547.08" cy="47.14" r="1.0" fill="#d5536f" fill-opacity="0.75"/>
<circle cx="561.55" cy="47.14" r="1.0" fill="#d5536f" fill-opacity="0.75"/>
<circle cx="576.02" cy="47.14" r="1.0" fill="#d5536f" fill-opacity="0.75"/>
<circle cx="590.49" cy="47.14" r="1.0" fill="#d5536f" fill-opacity="0.75"/>
<circle cx="604.96" cy="47.14" r="1.0" fill="#d5536f" fill-opacity="0.75"/>
<circle cx="619.43" cy="47.14" r="1.0" fill="#d5536f" fill-opacity="0.75"/>
<path d="M344.5,95.84 L358.97,47.14 L373.44,47.14 L387.91,47.14 L402.38,47.14 L416.85,47.14 L431.32,47.14 L445.79,47.14 L460.26,47.14 L474.73,47.14 L489.2,47.14 L503.67,47.14 L518.14,47.14 L532.61,47.14 L547.08,47.14 L561.55,47.14 L576.02,47.14 L590.49,47.14 L604.96,47.14 L619.43,47.14" fill="none" stroke="#bf3984" stroke-width="1.35" stroke-opacity="0.6" stroke-linejoin="round"/>
<circle cx="344.5" cy="95.84" r="1.0" fill="#bf3984" fill-opacity="0.75"/>
<circle cx="358.97" cy="47.14" r="1.0" fill="#bf3984" fill-opacity="0.75"/>
<circle cx="373.44" cy="47.14" r="1.0" fill="#bf3984" fill-opacity="0.75"/>
<circle cx="387.91" cy="47.14" r="1.0" fill="#bf3984" fill-opacity="0.75"/>
<circle cx="402.38" cy="47.14" r="1.0" fill="#bf3984" fill-opacity="0.75"/>
<circle cx="416.85" cy="47.14" r="1.0" fill="#bf3984" fill-opacity="0.75"/>
<circle cx="431.32" cy="47.14" r="1.0" fill="#bf3984" fill-opacity="0.75"/>
<circle cx="445.79" cy="47.14" r="1.0" fill="#bf3984" fill-opacity="0.75"/>
<circle cx="460.26" cy="47.14" r="1.0" fill="#bf3984" fill-opacity="0.75"/>
<circle cx="474.73" cy="47.14" r="1.0" fill="#bf3984" fill-opacity="0.75"/>
<circle cx="489.2" cy="47.14" r="1.0" fill="#bf3984" fill-opacity="0.75"/>
<circle cx="503.67" cy="47.14" r="1.0" fill="#bf3984" fill-opacity="0.75"/>
<circle cx="518.14" cy="47.14" r="1.0" fill="#bf3984" fill-opacity="0.75"/>
<circle cx="532.61" cy="47.14" r="1.0" fill="#bf3984" fill-opacity="0.75"/>
<circle cx="547.08" cy="47.14" r="1.0" fill="#bf3984" fill-opacity="0.75"/>
<circle cx="561.55" cy="47.14" r="1.0" fill="#bf3984" fill-opacity="0.75"/>
<circle cx="576.02" cy="47.14" r="1.0" fill="#bf3984" fill-opacity="0.75"/>
<circle cx="590.49" cy="47.14" r="1.0" fill="#bf3984" fill-opacity="0.75"/>
<circle cx="604.96" cy="47.14" r="1.0" fill="#bf3984" fill-opacity="0.75"/>
<circle cx="619.43" cy="47.14" r="1.0" fill="#bf3984" fill-opacity="0.75"/>
<path d="M344.5,63.48 L358.97,47.14 L373.44,47.14 L387.91,47.14 L402.38,47.14 L416.85,47.14 L431.32,47.14 L445.79,47.14 L460.26,47.14 L474.73,47.14 L489.2,47.14 L503.67,47.14 L518.14,47.14 L532.61,47.14 L547.08,47.14 L561.55,47.14 L576.02,47.14 L590.49,47.14 L604.96,47.14 L619.43,47.14" fill="none" stroke="#a51f99" stroke-width="1.35" stroke-opacity="0.6" stroke-linejoin="round"/>
<circle cx="344.5" cy="63.48" r="1.0" fill="#a51f99" fill-opacity="0.75"/>
<circle cx="358.97" cy="47.14" r="1.0" fill="#a51f99" fill-opacity="0.75"/>
<circle cx="373.44" cy="47.14" r="1.0" fill="#a51f99" fill-opacity="0.75"/>
<circle cx="387.91" cy="47.14" r="1.0" fill="#a51f99" fill-opacity="0.75"/>
<circle cx="402.38" cy="47.14" r="1.0" fill="#a51f99" fill-opacity="0.75"/>
<circle cx="416.85" cy="47.14" r="1.0" fill="#a51f99" fill-opacity="0.75"/>
<circle cx="431.32" cy="47.14" r="1.0" fill="#a51f99" fill-opacity="0.75"/>
<circle cx="445.79" cy="47.14" r="1.0" fill="#a51f99" fill-opacity="0.75"/>
<circle cx="460.26" cy="47.14" r="1.0" fill="#a51f99" fill-opacity="0.75"/>
<circle cx="474.73" cy="47.14" r="1.0" fill="#a51f99" fill-opacity="0.75"/>
<circle cx="489.2" cy="47.14" r="1.0" fill="#a51f99" fill-opacity="0.75"/>
<circle cx="503.67" cy="47.14" r="1.0" fill="#a51f99" fill-opacity="0.75"/>
<circle cx="518.14" cy="47.14" r="1.0" fill="#a51f99" fill-opacity="0.75"/>
<circle cx="532.61" cy="47.14" r="1.0" fill="#a51f99" fill-opacity="0.75"/>
<circle cx="547.08" cy="47.14" r="1.0" fill="#a51f99" fill-opacity="0.75"/>
<circle cx="561.55" cy="47.14" r="1.0" fill="#a51f99" fill-opacity="0.75"/>
<circle cx="576.02" cy="47.14" r="1.0" fill="#a51f99" fill-opacity="0.75"/>
<circle cx="590.49" cy="47.14" r="1.0" fill="#a51f99" fill-opacity="0.75"/>
<circle cx="604.96" cy="47.14" r="1.0" fill="#a51f99" fill-opacity="0.75"/>
<circle cx="619.43" cy="47.14" r="1.0" fill="#a51f99" fill-opacity="0.75"/>
<path d="M344.5,49.69 L358.97,47.14 L373.44,47.14 L387.91,47.14 L402.38,47.14 L416.85,47.14 L431.32,47.14 L445.79,47.14 L460.26,47.14 L474.73,47.14 L489.2,47.14 L503.67,47.14 L518.14,47.14 L532.61,47.14 L547.08,47.14 L561.55,47.14 L576.02,47.14 L590.49,47.14 L604.96,47.14 L619.43,47.14" fill="none" stroke="#8606a6" stroke-width="1.35" stroke-opacity="0.6" stroke-linejoin="round"/>
<circle cx="344.5" cy="49.69" r="1.0" fill="#8606a6" fill-opacity="0.75"/>
<circle cx="358.97" cy="47.14" r="1.0" fill="#8606a6" fill-opacity="0.75"/>
<circle cx="373.44" cy="47.14" r="1.0" fill="#8606a6" fill-opacity="0.75"/>
<circle cx="387.91" cy="47.14" r="1.0" fill="#8606a6" fill-opacity="0.75"/>
<circle cx="402.38" cy="47.14" r="1.0" fill="#8606a6" fill-opacity="0.75"/>
<circle cx="416.85" cy="47.14" r="1.0" fill="#8606a6" fill-opacity="0.75"/>
<circle cx="431.32" cy="47.14" r="1.0" fill="#8606a6" fill-opacity="0.75"/>
<circle cx="445.79" cy="47.14" r="1.0" fill="#8606a6" fill-opacity="0.75"/>
<circle cx="460.26" cy="47.14" r="1.0" fill="#8606a6" fill-opacity="0.75"/>
<circle cx="474.73" cy="47.14" r="1.0" fill="#8606a6" fill-opacity="0.75"/>
<circle cx="489.2" cy="47.14" r="1.0" fill="#8606a6" fill-opacity="0.75"/>
<circle cx="503.67" cy="47.14" r="1.0" fill="#8606a6" fill-opacity="0.75"/>
<circle cx="518.14" cy="47.14" r="1.0" fill="#8606a6" fill-opacity="0.75"/>
<circle cx="532.61" cy="47.14" r="1.0" fill="#8606a6" fill-opacity="0.75"/>
<circle cx="547.08" cy="47.14" r="1.0" fill="#8606a6" fill-opacity="0.75"/>
<circle cx="561.55" cy="47.14" r="1.0" fill="#8606a6" fill-opacity="0.75"/>
<circle cx="576.02" cy="47.14" r="1.0" fill="#8606a6" fill-opacity="0.75"/>
<circle cx="590.49" cy="47.14" r="1.0" fill="#8606a6" fill-opacity="0.75"/>
<circle cx="604.96" cy="47.14" r="1.0" fill="#8606a6" fill-opacity="0.75"/>
<circle cx="619.43" cy="47.14" r="1.0" fill="#8606a6" fill-opacity="0.75"/>
<path d="M344.5,49.35 L358.97,47.14 L373.44,47.14 L387.91,47.14 L402.38,47.14 L416.85,47.14 L431.32,47.14 L445.79,47.14 L460.26,47.14 L474.73,47.14 L489.2,47.14 L503.67,47.14 L518.14,47.14 L532.61,47.14 L547.08,47.14 L561.55,47.14 L576.02,47.14 L590.49,47.14 L604.96,47.14 L619.43,47.14" fill="none" stroke="#6300a7" stroke-width="1.35" stroke-opacity="0.6" stroke-linejoin="round"/>
<circle cx="344.5" cy="49.35" r="1.0" fill="#6300a7" fill-opacity="0.75"/>
<circle cx="358.97" cy="47.14" r="1.0" fill="#6300a7" fill-opacity="0.75"/>
<circle cx="373.44" cy="47.14" r="1.0" fill="#6300a7" fill-opacity="0.75"/>
<circle cx="387.91" cy="47.14" r="1.0" fill="#6300a7" fill-opacity="0.75"/>
<circle cx="402.38" cy="47.14" r="1.0" fill="#6300a7" fill-opacity="0.75"/>
<circle cx="416.85" cy="47.14" r="1.0" fill="#6300a7" fill-opacity="0.75"/>
<circle cx="431.32" cy="47.14" r="1.0" fill="#6300a7" fill-opacity="0.75"/>
<circle cx="445.79" cy="47.14" r="1.0" fill="#6300a7" fill-opacity="0.75"/>
<circle cx="460.26" cy="47.14" r="1.0" fill="#6300a7" fill-opacity="0.75"/>
<circle cx="474.73" cy="47.14" r="1.0" fill="#6300a7" fill-opacity="0.75"/>
<circle cx="489.2" cy="47.14" r="1.0" fill="#6300a7" fill-opacity="0.75"/>
<circle cx="503.67" cy="47.14" r="1.0" fill="#6300a7" fill-opacity="0.75"/>
<circle cx="518.14" cy="47.14" r="1.0" fill="#6300a7" fill-opacity="0.75"/>
<circle cx="532.61" cy="47.14" r="1.0" fill="#6300a7" fill-opacity="0.75"/>
<circle cx="547.08" cy="47.14" r="1.0" fill="#6300a7" fill-opacity="0.75"/>
<circle cx="561.55" cy="47.14" r="1.0" fill="#6300a7" fill-opacity="0.75"/>
<circle cx="576.02" cy="47.14" r="1.0" fill="#6300a7" fill-opacity="0.75"/>
<circle cx="590.49" cy="47.14" r="1.0" fill="#6300a7" fill-opacity="0.75"/>
<circle cx="604.96" cy="47.14" r="1.0" fill="#6300a7" fill-opacity="0.75"/>
<circle cx="619.43" cy="47.14" r="1.0" fill="#6300a7" fill-opacity="0.75"/>
<path d="M344.5,48.5 L358.97,47.14 L373.44,47.14 L387.91,47.14 L402.38,47.14 L416.85,47.14 L431.32,47.14 L445.79,47.14 L460.26,47.14 L474.73,47.14 L489.2,47.14 L503.67,47.14 L518.14,47.14 L532.61,47.14 L547.08,47.14 L561.55,47.14 L576.02,47.14 L590.49,47.14 L604.96,47.14 L619.43,47.14" fill="none" stroke="#3e049c" stroke-width="1.35" stroke-opacity="0.6" stroke-linejoin="round"/>
<circle cx="344.5" cy="48.5" r="1.0" fill="#3e049c" fill-opacity="0.75"/>
<circle cx="358.97" cy="47.14" r="1.0" fill="#3e049c" fill-opacity="0.75"/>
<circle cx="373.44" cy="47.14" r="1.0" fill="#3e049c" fill-opacity="0.75"/>
<circle cx="387.91" cy="47.14" r="1.0" fill="#3e049c" fill-opacity="0.75"/>
<circle cx="402.38" cy="47.14" r="1.0" fill="#3e049c" fill-opacity="0.75"/>
<circle cx="416.85" cy="47.14" r="1.0" fill="#3e049c" fill-opacity="0.75"/>
<circle cx="431.32" cy="47.14" r="1.0" fill="#3e049c" fill-opacity="0.75"/>
<circle cx="445.79" cy="47.14" r="1.0" fill="#3e049c" fill-opacity="0.75"/>
<circle cx="460.26" cy="47.14" r="1.0" fill="#3e049c" fill-opacity="0.75"/>
<circle cx="474.73" cy="47.14" r="1.0" fill="#3e049c" fill-opacity="0.75"/>
<circle cx="489.2" cy="47.14" r="1.0" fill="#3e049c" fill-opacity="0.75"/>
<circle cx="503.67" cy="47.14" r="1.0" fill="#3e049c" fill-opacity="0.75"/>
<circle cx="518.14" cy="47.14" r="1.0" fill="#3e049c" fill-opacity="0.75"/>
<circle cx="532.61" cy="47.14" r="1.0" fill="#3e049c" fill-opacity="0.75"/>
<circle cx="547.08" cy="47.14" r="1.0" fill="#3e049c" fill-opacity="0.75"/>
<circle cx="561.55" cy="47.14" r="1.0" fill="#3e049c" fill-opacity="0.75"/>
<circle cx="576.02" cy="47.14" r="1.0" fill="#3e049c" fill-opacity="0.75"/>
<circle cx="590.49" cy="47.14" r="1.0" fill="#3e049c" fill-opacity="0.75"/>
<circle cx="604.96" cy="47.14" r="1.0" fill="#3e049c" fill-opacity="0.75"/>
<circle cx="619.43" cy="47.14" r="1.0" fill="#3e049c" fill-opacity="0.75"/>
<path d="M344.5,47.65 L358.97,47.14 L373.44,47.14 L387.91,47.14 L402.38,47.14 L416.85,47.14 L431.32,47.14 L445.79,47.14 L460.26,47.14 L474.73,47.14 L489.2,47.14 L503.67,47.14 L518.14,47.14 L532.61,47.14 L547.08,47.14 L561.55,47.14 L576.02,47.14 L590.49,47.14 L604.96,47.14 L619.43,47.14" fill="none" stroke="#0d0887" stroke-width="1.5" stroke-opacity="0.6" stroke-linejoin="round"/>
<circle cx="344.5" cy="47.65" r="1.0" fill="#0d0887" fill-opacity="0.75"/>
<circle cx="358.97" cy="47.14" r="1.0" fill="#0d0887" fill-opacity="0.75"/>
<circle cx="373.44" cy="47.14" r="1.0" fill="#0d0887" fill-opacity="0.75"/>
<circle cx="387.91" cy="47.14" r="1.0" fill="#0d0887" fill-opacity="0.75"/>
<circle cx="402.38" cy="47.14" r="1.0" fill="#0d0887" fill-opacity="0.75"/>
<circle cx="416.85" cy="47.14" r="1.0" fill="#0d0887" fill-opacity="0.75"/>
<circle cx="431.32" cy="47.14" r="1.0" fill="#0d0887" fill-opacity="0.75"/>
<circle cx="445.79" cy="47.14" r="1.0" fill="#0d0887" fill-opacity="0.75"/>
<circle cx="460.26" cy="47.14" r="1.0" fill="#0d0887" fill-opacity="0.75"/>
<circle cx="474.73" cy="47.14" r="1.0" fill="#0d0887" fill-opacity="0.75"/>
<circle cx="489.2" cy="47.14" r="1.0" fill="#0d0887" fill-opacity="0.75"/>
<circle cx="503.67" cy="47.14" r="1.0" fill="#0d0887" fill-opacity="0.75"/>
<circle cx="518.14" cy="47.14" r="1.0" fill="#0d0887" fill-opacity="0.75"/>
<circle cx="532.61" cy="47.14" r="1.0" fill="#0d0887" fill-opacity="0.75"/>
<circle cx="547.08" cy="47.14" r="1.0" fill="#0d0887" fill-opacity="0.75"/>
<circle cx="561.55" cy="47.14" r="1.0" fill="#0d0887" fill-opacity="0.75"/>
<circle cx="576.02" cy="47.14" r="1.0" fill="#0d0887" fill-opacity="0.75"/>
<circle cx="590.49" cy="47.14" r="1.0" fill="#0d0887" fill-opacity="0.75"/>
<circle cx="604.96" cy="47.14" r="1.0" fill="#0d0887" fill-opacity="0.75"/>
<circle cx="619.43" cy="47.14" r="1.0" fill="#0d0887" fill-opacity="0.75"/>
<path d="M23.2,168.5V239.4H312" fill="none" stroke="#777" stroke-width="0.9"/>
<path d="M21.2,231.6H23.2" stroke="#777" stroke-width="0.8"/>
<text x="20" y="231.9" font-size="7.3" text-anchor="end" dominant-baseline="central" fill="#000" stroke="#000" stroke-width="0.12" transform="translate(0,0) scale(1.0,1)">50</text>
<path d="M21.2,216.05H23.2" stroke="#777" stroke-width="0.8"/>
<text x="20" y="216.35" font-size="7.3" text-anchor="end" dominant-baseline="central" fill="#000" stroke="#000" stroke-width="0.12" transform="translate(0,0) scale(1.0,1)">60</text>
<path d="M21.2,200.5H23.2" stroke="#777" stroke-width="0.8"/>
<text x="20" y="200.8" font-size="7.3" text-anchor="end" dominant-baseline="central" fill="#000" stroke="#000" stroke-width="0.12" transform="translate(0,0) scale(1.0,1)">70</text>
<path d="M21.2,184.95H23.2" stroke="#777" stroke-width="0.8"/>
<text x="20" y="185.25" font-size="7.3" text-anchor="end" dominant-baseline="central" fill="#000" stroke="#000" stroke-width="0.12" transform="translate(0,0) scale(1.0,1)">80</text>
<path d="M21.2,169.4H23.2" stroke="#777" stroke-width="0.8"/>
<text x="20" y="169.7" font-size="7.3" text-anchor="end" dominant-baseline="central" fill="#000" stroke="#000" stroke-width="0.12" transform="translate(0,0) scale(1.0,1)">90</text>
<path d="M36.4,239.4V241.2" stroke="#777" stroke-width="0.8"/>
<path d="M64.1,239.4V241.2" stroke="#777" stroke-width="0.8"/>
<path d="M91.8,239.4V241.2" stroke="#777" stroke-width="0.8"/>
<path d="M119.5,239.4V241.2" stroke="#777" stroke-width="0.8"/>
<path d="M147.2,239.4V241.2" stroke="#777" stroke-width="0.8"/>
<path d="M174.9,239.4V241.2" stroke="#777" stroke-width="0.8"/>
<path d="M202.6,239.4V241.2" stroke="#777" stroke-width="0.8"/>
<path d="M230.3,239.4V241.2" stroke="#777" stroke-width="0.8"/>
<path d="M258,239.4V241.2" stroke="#777" stroke-width="0.8"/>
<path d="M285.7,239.4V241.2" stroke="#777" stroke-width="0.8"/>
<path d="M36.4,231.29 L50.25,230.98 L64.1,230.82 L77.95,230.67 L91.8,230.67 L105.65,230.67 L119.5,230.67 L133.35,230.67 L147.2,230.67 L161.05,230.67 L174.9,230.67 L188.75,230.67 L202.6,230.67 L216.45,230.67 L230.3,230.67 L244.15,230.67 L258,230.67 L271.85,230.67 L285.7,230.67 L299.55,230.67" fill="none" stroke="#fdab33" stroke-width="2.0" stroke-opacity="0.5" stroke-linejoin="round"/>
<circle cx="36.4" cy="231.29" r="1.0" fill="#fdab33" fill-opacity="0.65"/>
<circle cx="50.25" cy="230.98" r="1.0" fill="#fdab33" fill-opacity="0.65"/>
<circle cx="64.1" cy="230.82" r="1.0" fill="#fdab33" fill-opacity="0.65"/>
<circle cx="77.95" cy="230.67" r="1.0" fill="#fdab33" fill-opacity="0.65"/>
<circle cx="91.8" cy="230.67" r="1.0" fill="#fdab33" fill-opacity="0.65"/>
<circle cx="105.65" cy="230.67" r="1.0" fill="#fdab33" fill-opacity="0.65"/>
<circle cx="119.5" cy="230.67" r="1.0" fill="#fdab33" fill-opacity="0.65"/>
<circle cx="133.35" cy="230.67" r="1.0" fill="#fdab33" fill-opacity="0.65"/>
<circle cx="147.2" cy="230.67" r="1.0" fill="#fdab33" fill-opacity="0.65"/>
<circle cx="161.05" cy="230.67" r="1.0" fill="#fdab33" fill-opacity="0.65"/>
<circle cx="174.9" cy="230.67" r="1.0" fill="#fdab33" fill-opacity="0.65"/>
<circle cx="188.75" cy="230.67" r="1.0" fill="#fdab33" fill-opacity="0.65"/>
<circle cx="202.6" cy="230.67" r="1.0" fill="#fdab33" fill-opacity="0.65"/>
<circle cx="216.45" cy="230.67" r="1.0" fill="#fdab33" fill-opacity="0.65"/>
<circle cx="230.3" cy="230.67" r="1.0" fill="#fdab33" fill-opacity="0.65"/>
<circle cx="244.15" cy="230.67" r="1.0" fill="#fdab33" fill-opacity="0.65"/>
<circle cx="258" cy="230.67" r="1.0" fill="#fdab33" fill-opacity="0.65"/>
<circle cx="271.85" cy="230.67" r="1.0" fill="#fdab33" fill-opacity="0.65"/>
<circle cx="285.7" cy="230.67" r="1.0" fill="#fdab33" fill-opacity="0.65"/>
<circle cx="299.55" cy="230.67" r="1.0" fill="#fdab33" fill-opacity="0.65"/>
<path d="M36.4,230.98 L50.25,230.36 L64.1,230.2 L77.95,230.04 L91.8,230.04 L105.65,230.04 L119.5,230.04 L133.35,230.04 L147.2,230.04 L161.05,230.04 L174.9,230.04 L188.75,230.04 L202.6,230.04 L216.45,230.04 L230.3,230.04 L244.15,230.04 L258,230.04 L271.85,230.04 L285.7,230.04 L299.55,230.04" fill="none" stroke="#f58b47" stroke-width="2.0" stroke-opacity="0.5" stroke-linejoin="round"/>
<circle cx="36.4" cy="230.98" r="1.0" fill="#f58b47" fill-opacity="0.65"/>
<circle cx="50.25" cy="230.36" r="1.0" fill="#f58b47" fill-opacity="0.65"/>
<circle cx="64.1" cy="230.2" r="1.0" fill="#f58b47" fill-opacity="0.65"/>
<circle cx="77.95" cy="230.04" r="1.0" fill="#f58b47" fill-opacity="0.65"/>
<circle cx="91.8" cy="230.04" r="1.0" fill="#f58b47" fill-opacity="0.65"/>
<circle cx="105.65" cy="230.04" r="1.0" fill="#f58b47" fill-opacity="0.65"/>
<circle cx="119.5" cy="230.04" r="1.0" fill="#f58b47" fill-opacity="0.65"/>
<circle cx="133.35" cy="230.04" r="1.0" fill="#f58b47" fill-opacity="0.65"/>
<circle cx="147.2" cy="230.04" r="1.0" fill="#f58b47" fill-opacity="0.65"/>
<circle cx="161.05" cy="230.04" r="1.0" fill="#f58b47" fill-opacity="0.65"/>
<circle cx="174.9" cy="230.04" r="1.0" fill="#f58b47" fill-opacity="0.65"/>
<circle cx="188.75" cy="230.04" r="1.0" fill="#f58b47" fill-opacity="0.65"/>
<circle cx="202.6" cy="230.04" r="1.0" fill="#f58b47" fill-opacity="0.65"/>
<circle cx="216.45" cy="230.04" r="1.0" fill="#f58b47" fill-opacity="0.65"/>
<circle cx="230.3" cy="230.04" r="1.0" fill="#f58b47" fill-opacity="0.65"/>
<circle cx="244.15" cy="230.04" r="1.0" fill="#f58b47" fill-opacity="0.65"/>
<circle cx="258" cy="230.04" r="1.0" fill="#f58b47" fill-opacity="0.65"/>
<circle cx="271.85" cy="230.04" r="1.0" fill="#f58b47" fill-opacity="0.65"/>
<circle cx="285.7" cy="230.04" r="1.0" fill="#f58b47" fill-opacity="0.65"/>
<circle cx="299.55" cy="230.04" r="1.0" fill="#f58b47" fill-opacity="0.65"/>
<path d="M36.4,230.82 L50.25,229.73 L64.1,229.42 L77.95,229.42 L91.8,229.42 L105.65,229.42 L119.5,229.42 L133.35,229.42 L147.2,229.42 L161.05,229.42 L174.9,229.42 L188.75,229.42 L202.6,229.42 L216.45,229.42 L230.3,229.42 L244.15,229.42 L258,229.42 L271.85,229.42 L285.7,229.42 L299.55,229.42" fill="none" stroke="#e76e5b" stroke-width="1.8" stroke-opacity="0.5" stroke-linejoin="round"/>
<circle cx="36.4" cy="230.82" r="1.0" fill="#e76e5b" fill-opacity="0.65"/>
<circle cx="50.25" cy="229.73" r="1.0" fill="#e76e5b" fill-opacity="0.65"/>
<circle cx="64.1" cy="229.42" r="1.0" fill="#e76e5b" fill-opacity="0.65"/>
<circle cx="77.95" cy="229.42" r="1.0" fill="#e76e5b" fill-opacity="0.65"/>
<circle cx="91.8" cy="229.42" r="1.0" fill="#e76e5b" fill-opacity="0.65"/>
<circle cx="105.65" cy="229.42" r="1.0" fill="#e76e5b" fill-opacity="0.65"/>
<circle cx="119.5" cy="229.42" r="1.0" fill="#e76e5b" fill-opacity="0.65"/>
<circle cx="133.35" cy="229.42" r="1.0" fill="#e76e5b" fill-opacity="0.65"/>
<circle cx="147.2" cy="229.42" r="1.0" fill="#e76e5b" fill-opacity="0.65"/>
<circle cx="161.05" cy="229.42" r="1.0" fill="#e76e5b" fill-opacity="0.65"/>
<circle cx="174.9" cy="229.42" r="1.0" fill="#e76e5b" fill-opacity="0.65"/>
<circle cx="188.75" cy="229.42" r="1.0" fill="#e76e5b" fill-opacity="0.65"/>
<circle cx="202.6" cy="229.42" r="1.0" fill="#e76e5b" fill-opacity="0.65"/>
<circle cx="216.45" cy="229.42" r="1.0" fill="#e76e5b" fill-opacity="0.65"/>
<circle cx="230.3" cy="229.42" r="1.0" fill="#e76e5b" fill-opacity="0.65"/>
<circle cx="244.15" cy="229.42" r="1.0" fill="#e76e5b" fill-opacity="0.65"/>
<circle cx="258" cy="229.42" r="1.0" fill="#e76e5b" fill-opacity="0.65"/>
<circle cx="271.85" cy="229.42" r="1.0" fill="#e76e5b" fill-opacity="0.65"/>
<circle cx="285.7" cy="229.42" r="1.0" fill="#e76e5b" fill-opacity="0.65"/>
<circle cx="299.55" cy="229.42" r="1.0" fill="#e76e5b" fill-opacity="0.65"/>
<path d="M36.4,230.67 L50.25,228.8 L64.1,228.49 L77.95,228.49 L91.8,228.49 L105.65,228.49 L119.5,228.49 L133.35,228.49 L147.2,228.49 L161.05,228.49 L174.9,228.49 L188.75,228.49 L202.6,228.49 L216.45,228.49 L230.3,228.49 L244.15,228.49 L258,228.49 L271.85,228.49 L285.7,228.49 L299.55,228.49" fill="none" stroke="#d5536f" stroke-width="1.5" stroke-opacity="0.6" stroke-linejoin="round"/>
<circle cx="36.4" cy="230.67" r="1.0" fill="#d5536f" fill-opacity="0.75"/>
<circle cx="50.25" cy="228.8" r="1.0" fill="#d5536f" fill-opacity="0.75"/>
<circle cx="64.1" cy="228.49" r="1.0" fill="#d5536f" fill-opacity="0.75"/>
<circle cx="77.95" cy="228.49" r="1.0" fill="#d5536f" fill-opacity="0.75"/>
<circle cx="91.8" cy="228.49" r="1.0" fill="#d5536f" fill-opacity="0.75"/>
<circle cx="105.65" cy="228.49" r="1.0" fill="#d5536f" fill-opacity="0.75"/>
<circle cx="119.5" cy="228.49" r="1.0" fill="#d5536f" fill-opacity="0.75"/>
<circle cx="133.35" cy="228.49" r="1.0" fill="#d5536f" fill-opacity="0.75"/>
<circle cx="147.2" cy="228.49" r="1.0" fill="#d5536f" fill-opacity="0.75"/>
<circle cx="161.05" cy="228.49" r="1.0" fill="#d5536f" fill-opacity="0.75"/>
<circle cx="174.9" cy="228.49" r="1.0" fill="#d5536f" fill-opacity="0.75"/>
<circle cx="188.75" cy="228.49" r="1.0" fill="#d5536f" fill-opacity="0.75"/>
<circle cx="202.6" cy="228.49" r="1.0" fill="#d5536f" fill-opacity="0.75"/>
<circle cx="216.45" cy="228.49" r="1.0" fill="#d5536f" fill-opacity="0.75"/>
<circle cx="230.3" cy="228.49" r="1.0" fill="#d5536f" fill-opacity="0.75"/>
<circle cx="244.15" cy="228.49" r="1.0" fill="#d5536f" fill-opacity="0.75"/>
<circle cx="258" cy="228.49" r="1.0" fill="#d5536f" fill-opacity="0.75"/>
<circle cx="271.85" cy="228.49" r="1.0" fill="#d5536f" fill-opacity="0.75"/>
<circle cx="285.7" cy="228.49" r="1.0" fill="#d5536f" fill-opacity="0.75"/>
<circle cx="299.55" cy="228.49" r="1.0" fill="#d5536f" fill-opacity="0.75"/>
<path d="M36.4,230.98 L50.25,228.18 L64.1,227.71 L77.95,227.56 L91.8,227.56 L105.65,227.56 L119.5,227.56 L133.35,227.56 L147.2,227.56 L161.05,227.56 L174.9,227.56 L188.75,227.56 L202.6,227.56 L216.45,227.56 L230.3,227.56 L244.15,227.56 L258,227.56 L271.85,227.56 L285.7,227.56 L299.55,227.56" fill="none" stroke="#bf3984" stroke-width="1.5" stroke-opacity="0.6" stroke-linejoin="round"/>
<circle cx="36.4" cy="230.98" r="1.0" fill="#bf3984" fill-opacity="0.75"/>
<circle cx="50.25" cy="228.18" r="1.0" fill="#bf3984" fill-opacity="0.75"/>
<circle cx="64.1" cy="227.71" r="1.0" fill="#bf3984" fill-opacity="0.75"/>
<circle cx="77.95" cy="227.56" r="1.0" fill="#bf3984" fill-opacity="0.75"/>
<circle cx="91.8" cy="227.56" r="1.0" fill="#bf3984" fill-opacity="0.75"/>
<circle cx="105.65" cy="227.56" r="1.0" fill="#bf3984" fill-opacity="0.75"/>
<circle cx="119.5" cy="227.56" r="1.0" fill="#bf3984" fill-opacity="0.75"/>
<circle cx="133.35" cy="227.56" r="1.0" fill="#bf3984" fill-opacity="0.75"/>
<circle cx="147.2" cy="227.56" r="1.0" fill="#bf3984" fill-opacity="0.75"/>
<circle cx="161.05" cy="227.56" r="1.0" fill="#bf3984" fill-opacity="0.75"/>
<circle cx="174.9" cy="227.56" r="1.0" fill="#bf3984" fill-opacity="0.75"/>
<circle cx="188.75" cy="227.56" r="1.0" fill="#bf3984" fill-opacity="0.75"/>
<circle cx="202.6" cy="227.56" r="1.0" fill="#bf3984" fill-opacity="0.75"/>
<circle cx="216.45" cy="227.56" r="1.0" fill="#bf3984" fill-opacity="0.75"/>
<circle cx="230.3" cy="227.56" r="1.0" fill="#bf3984" fill-opacity="0.75"/>
<circle cx="244.15" cy="227.56" r="1.0" fill="#bf3984" fill-opacity="0.75"/>
<circle cx="258" cy="227.56" r="1.0" fill="#bf3984" fill-opacity="0.75"/>
<circle cx="271.85" cy="227.56" r="1.0" fill="#bf3984" fill-opacity="0.75"/>
<circle cx="285.7" cy="227.56" r="1.0" fill="#bf3984" fill-opacity="0.75"/>
<circle cx="299.55" cy="227.56" r="1.0" fill="#bf3984" fill-opacity="0.75"/>
<path d="M36.4,231.91 L50.25,227.71 L64.1,226.94 L77.95,226.94 L91.8,226.94 L105.65,226.94 L119.5,226.94 L133.35,226.94 L147.2,226.94 L161.05,226.94 L174.9,226.94 L188.75,226.94 L202.6,226.94 L216.45,226.94 L230.3,226.94 L244.15,226.94 L258,226.94 L271.85,226.94 L285.7,226.94 L299.55,226.94" fill="none" stroke="#8606a6" stroke-width="1.6" stroke-opacity="0.7" stroke-linejoin="round"/>
<circle cx="36.4" cy="231.91" r="1.0" fill="#8606a6" fill-opacity="0.85"/>
<circle cx="50.25" cy="227.71" r="1.0" fill="#8606a6" fill-opacity="0.85"/>
<circle cx="64.1" cy="226.94" r="1.0" fill="#8606a6" fill-opacity="0.85"/>
<circle cx="77.95" cy="226.94" r="1.0" fill="#8606a6" fill-opacity="0.85"/>
<circle cx="91.8" cy="226.94" r="1.0" fill="#8606a6" fill-opacity="0.85"/>
<circle cx="105.65" cy="226.94" r="1.0" fill="#8606a6" fill-opacity="0.85"/>
<circle cx="119.5" cy="226.94" r="1.0" fill="#8606a6" fill-opacity="0.85"/>
<circle cx="133.35" cy="226.94" r="1.0" fill="#8606a6" fill-opacity="0.85"/>
<circle cx="147.2" cy="226.94" r="1.0" fill="#8606a6" fill-opacity="0.85"/>
<circle cx="161.05" cy="226.94" r="1.0" fill="#8606a6" fill-opacity="0.85"/>
<circle cx="174.9" cy="226.94" r="1.0" fill="#8606a6" fill-opacity="0.85"/>
<circle cx="188.75" cy="226.94" r="1.0" fill="#8606a6" fill-opacity="0.85"/>
<circle cx="202.6" cy="226.94" r="1.0" fill="#8606a6" fill-opacity="0.85"/>
<circle cx="216.45" cy="226.94" r="1.0" fill="#8606a6" fill-opacity="0.85"/>
<circle cx="230.3" cy="226.94" r="1.0" fill="#8606a6" fill-opacity="0.85"/>
<circle cx="244.15" cy="226.94" r="1.0" fill="#8606a6" fill-opacity="0.85"/>
<circle cx="258" cy="226.94" r="1.0" fill="#8606a6" fill-opacity="0.85"/>
<circle cx="271.85" cy="226.94" r="1.0" fill="#8606a6" fill-opacity="0.85"/>
<circle cx="285.7" cy="226.94" r="1.0" fill="#8606a6" fill-opacity="0.85"/>
<circle cx="299.55" cy="226.94" r="1.0" fill="#8606a6" fill-opacity="0.85"/>
<path d="M36.4,231.6 L50.25,228.49 L64.1,227.71 L77.95,226.94 L91.8,226.94 L105.65,226.16 L119.5,225.38 L133.35,223.82 L147.2,224.76 L161.05,222.58 L174.9,222.58 L188.75,219.47 L202.6,219.47 L216.45,221.18 L230.3,217.76 L244.15,216.36 L258,218.07 L271.85,212.63 L285.7,212.63 L299.55,210.14" fill="none" stroke="#bf3984" stroke-width="1.35" stroke-opacity="0.7" stroke-linejoin="round"/>
<circle cx="36.4" cy="231.6" r="1.0" fill="#bf3984" fill-opacity="0.85"/>
<circle cx="50.25" cy="228.49" r="1.0" fill="#bf3984" fill-opacity="0.85"/>
<circle cx="64.1" cy="227.71" r="1.0" fill="#bf3984" fill-opacity="0.85"/>
<circle cx="77.95" cy="226.94" r="1.0" fill="#bf3984" fill-opacity="0.85"/>
<circle cx="91.8" cy="226.94" r="1.0" fill="#bf3984" fill-opacity="0.85"/>
<circle cx="105.65" cy="226.16" r="1.0" fill="#bf3984" fill-opacity="0.85"/>
<circle cx="119.5" cy="225.38" r="1.0" fill="#bf3984" fill-opacity="0.85"/>
<circle cx="133.35" cy="223.82" r="1.0" fill="#bf3984" fill-opacity="0.85"/>
<circle cx="147.2" cy="224.76" r="1.0" fill="#bf3984" fill-opacity="0.85"/>
<circle cx="161.05" cy="222.58" r="1.0" fill="#bf3984" fill-opacity="0.85"/>
<circle cx="174.9" cy="222.58" r="1.0" fill="#bf3984" fill-opacity="0.85"/>
<circle cx="188.75" cy="219.47" r="1.0" fill="#bf3984" fill-opacity="0.85"/>
<circle cx="202.6" cy="219.47" r="1.0" fill="#bf3984" fill-opacity="0.85"/>
<circle cx="216.45" cy="221.18" r="1.0" fill="#bf3984" fill-opacity="0.85"/>
<circle cx="230.3" cy="217.76" r="1.0" fill="#bf3984" fill-opacity="0.85"/>
<circle cx="244.15" cy="216.36" r="1.0" fill="#bf3984" fill-opacity="0.85"/>
<circle cx="258" cy="218.07" r="1.0" fill="#bf3984" fill-opacity="0.85"/>
<circle cx="271.85" cy="212.63" r="1.0" fill="#bf3984" fill-opacity="0.85"/>
<circle cx="285.7" cy="212.63" r="1.0" fill="#bf3984" fill-opacity="0.85"/>
<circle cx="299.55" cy="210.14" r="1.0" fill="#bf3984" fill-opacity="0.85"/>
<path d="M36.4,232.38 L50.25,228.49 L64.1,226.94 L77.95,226.16 L91.8,226.16 L105.65,226.16 L119.5,225.38 L133.35,224.14 L147.2,225.54 L161.05,218.07 L174.9,213.1 L188.75,204.85 L202.6,202.21 L216.45,202.21 L230.3,204.08 L244.15,204.39 L258,204.39 L271.85,204.54 L285.7,204.7 L299.55,204.7" fill="none" stroke="#a51f99" stroke-width="1.35" stroke-opacity="0.7" stroke-linejoin="round"/>
<circle cx="36.4" cy="232.38" r="1.0" fill="#a51f99" fill-opacity="0.85"/>
<circle cx="50.25" cy="228.49" r="1.0" fill="#a51f99" fill-opacity="0.85"/>
<circle cx="64.1" cy="226.94" r="1.0" fill="#a51f99" fill-opacity="0.85"/>
<circle cx="77.95" cy="226.16" r="1.0" fill="#a51f99" fill-opacity="0.85"/>
<circle cx="91.8" cy="226.16" r="1.0" fill="#a51f99" fill-opacity="0.85"/>
<circle cx="105.65" cy="226.16" r="1.0" fill="#a51f99" fill-opacity="0.85"/>
<circle cx="119.5" cy="225.38" r="1.0" fill="#a51f99" fill-opacity="0.85"/>
<circle cx="133.35" cy="224.14" r="1.0" fill="#a51f99" fill-opacity="0.85"/>
<circle cx="147.2" cy="225.54" r="1.0" fill="#a51f99" fill-opacity="0.85"/>
<circle cx="161.05" cy="218.07" r="1.0" fill="#a51f99" fill-opacity="0.85"/>
<circle cx="174.9" cy="213.1" r="1.0" fill="#a51f99" fill-opacity="0.85"/>
<circle cx="188.75" cy="204.85" r="1.0" fill="#a51f99" fill-opacity="0.85"/>
<circle cx="202.6" cy="202.21" r="1.0" fill="#a51f99" fill-opacity="0.85"/>
<circle cx="216.45" cy="202.21" r="1.0" fill="#a51f99" fill-opacity="0.85"/>
<circle cx="230.3" cy="204.08" r="1.0" fill="#a51f99" fill-opacity="0.85"/>
<circle cx="244.15" cy="204.39" r="1.0" fill="#a51f99" fill-opacity="0.85"/>
<circle cx="258" cy="204.39" r="1.0" fill="#a51f99" fill-opacity="0.85"/>
<circle cx="271.85" cy="204.54" r="1.0" fill="#a51f99" fill-opacity="0.85"/>
<circle cx="285.7" cy="204.7" r="1.0" fill="#a51f99" fill-opacity="0.85"/>
<circle cx="299.55" cy="204.7" r="1.0" fill="#a51f99" fill-opacity="0.85"/>
<path d="M36.4,232.38 L50.25,228.02 L64.1,226.16 L77.95,225.38 L91.8,225.38 L105.65,226 L119.5,222.74 L133.35,211.54 L147.2,204.54 L161.05,204.23 L174.9,204.23 L188.75,204.23 L202.6,204.23 L216.45,204.23 L230.3,204.23 L244.15,204.23 L258,204.23 L271.85,204.23 L285.7,204.23 L299.55,204.23" fill="none" stroke="#6300a7" stroke-width="1.35" stroke-opacity="0.6" stroke-linejoin="round"/>
<circle cx="36.4" cy="232.38" r="1.0" fill="#6300a7" fill-opacity="0.75"/>
<circle cx="50.25" cy="228.02" r="1.0" fill="#6300a7" fill-opacity="0.75"/>
<circle cx="64.1" cy="226.16" r="1.0" fill="#6300a7" fill-opacity="0.75"/>
<circle cx="77.95" cy="225.38" r="1.0" fill="#6300a7" fill-opacity="0.75"/>
<circle cx="91.8" cy="225.38" r="1.0" fill="#6300a7" fill-opacity="0.75"/>
<circle cx="105.65" cy="226" r="1.0" fill="#6300a7" fill-opacity="0.75"/>
<circle cx="119.5" cy="222.74" r="1.0" fill="#6300a7" fill-opacity="0.75"/>
<circle cx="133.35" cy="211.54" r="1.0" fill="#6300a7" fill-opacity="0.75"/>
<circle cx="147.2" cy="204.54" r="1.0" fill="#6300a7" fill-opacity="0.75"/>
<circle cx="161.05" cy="204.23" r="1.0" fill="#6300a7" fill-opacity="0.75"/>
<circle cx="174.9" cy="204.23" r="1.0" fill="#6300a7" fill-opacity="0.75"/>
<circle cx="188.75" cy="204.23" r="1.0" fill="#6300a7" fill-opacity="0.75"/>
<circle cx="202.6" cy="204.23" r="1.0" fill="#6300a7" fill-opacity="0.75"/>
<circle cx="216.45" cy="204.23" r="1.0" fill="#6300a7" fill-opacity="0.75"/>
<circle cx="230.3" cy="204.23" r="1.0" fill="#6300a7" fill-opacity="0.75"/>
<circle cx="244.15" cy="204.23" r="1.0" fill="#6300a7" fill-opacity="0.75"/>
<circle cx="258" cy="204.23" r="1.0" fill="#6300a7" fill-opacity="0.75"/>
<circle cx="271.85" cy="204.23" r="1.0" fill="#6300a7" fill-opacity="0.75"/>
<circle cx="285.7" cy="204.23" r="1.0" fill="#6300a7" fill-opacity="0.75"/>
<circle cx="299.55" cy="204.23" r="1.0" fill="#6300a7" fill-opacity="0.75"/>
<path d="M36.4,232.69 L50.25,227.71 L64.1,225.38 L77.95,222.27 L91.8,223.36 L105.65,214.65 L119.5,206.41 L133.35,204.39 L147.2,204.54 L161.05,204.54 L174.9,204.54 L188.75,204.54 L202.6,204.54 L216.45,204.54 L230.3,204.54 L244.15,204.54 L258,204.54 L271.85,204.54 L285.7,204.54 L299.55,204.54" fill="none" stroke="#3e049c" stroke-width="1.35" stroke-opacity="0.6" stroke-linejoin="round"/>
<circle cx="36.4" cy="232.69" r="1.0" fill="#3e049c" fill-opacity="0.75"/>
<circle cx="50.25" cy="227.71" r="1.0" fill="#3e049c" fill-opacity="0.75"/>
<circle cx="64.1" cy="225.38" r="1.0" fill="#3e049c" fill-opacity="0.75"/>
<circle cx="77.95" cy="222.27" r="1.0" fill="#3e049c" fill-opacity="0.75"/>
<circle cx="91.8" cy="223.36" r="1.0" fill="#3e049c" fill-opacity="0.75"/>
<circle cx="105.65" cy="214.65" r="1.0" fill="#3e049c" fill-opacity="0.75"/>
<circle cx="119.5" cy="206.41" r="1.0" fill="#3e049c" fill-opacity="0.75"/>
<circle cx="133.35" cy="204.39" r="1.0" fill="#3e049c" fill-opacity="0.75"/>
<circle cx="147.2" cy="204.54" r="1.0" fill="#3e049c" fill-opacity="0.75"/>
<circle cx="161.05" cy="204.54" r="1.0" fill="#3e049c" fill-opacity="0.75"/>
<circle cx="174.9" cy="204.54" r="1.0" fill="#3e049c" fill-opacity="0.75"/>
<circle cx="188.75" cy="204.54" r="1.0" fill="#3e049c" fill-opacity="0.75"/>
<circle cx="202.6" cy="204.54" r="1.0" fill="#3e049c" fill-opacity="0.75"/>
<circle cx="216.45" cy="204.54" r="1.0" fill="#3e049c" fill-opacity="0.75"/>
<circle cx="230.3" cy="204.54" r="1.0" fill="#3e049c" fill-opacity="0.75"/>
<circle cx="244.15" cy="204.54" r="1.0" fill="#3e049c" fill-opacity="0.75"/>
<circle cx="258" cy="204.54" r="1.0" fill="#3e049c" fill-opacity="0.75"/>
<circle cx="271.85" cy="204.54" r="1.0" fill="#3e049c" fill-opacity="0.75"/>
<circle cx="285.7" cy="204.54" r="1.0" fill="#3e049c" fill-opacity="0.75"/>
<circle cx="299.55" cy="204.54" r="1.0" fill="#3e049c" fill-opacity="0.75"/>
<path d="M36.4,233.47 L50.25,226.94 L64.1,223.82 L77.95,217.92 L91.8,209.67 L105.65,205.32 L119.5,205.32 L133.35,205.48 L147.2,205.48 L161.05,205.48 L174.9,205.48 L188.75,205.48 L202.6,205.48 L216.45,205.48 L230.3,205.48 L244.15,205.48 L258,205.48 L271.85,205.48 L285.7,205.48 L299.55,205.48" fill="none" stroke="#0d0887" stroke-width="1.35" stroke-opacity="0.55" stroke-linejoin="round"/>
<circle cx="36.4" cy="233.47" r="1.0" fill="#0d0887" fill-opacity="0.7000000000000001"/>
<circle cx="50.25" cy="226.94" r="1.0" fill="#0d0887" fill-opacity="0.7000000000000001"/>
<circle cx="64.1" cy="223.82" r="1.0" fill="#0d0887" fill-opacity="0.7000000000000001"/>
<circle cx="77.95" cy="217.92" r="1.0" fill="#0d0887" fill-opacity="0.7000000000000001"/>
<circle cx="91.8" cy="209.67" r="1.0" fill="#0d0887" fill-opacity="0.7000000000000001"/>
<circle cx="105.65" cy="205.32" r="1.0" fill="#0d0887" fill-opacity="0.7000000000000001"/>
<circle cx="119.5" cy="205.32" r="1.0" fill="#0d0887" fill-opacity="0.7000000000000001"/>
<circle cx="133.35" cy="205.48" r="1.0" fill="#0d0887" fill-opacity="0.7000000000000001"/>
<circle cx="147.2" cy="205.48" r="1.0" fill="#0d0887" fill-opacity="0.7000000000000001"/>
<circle cx="161.05" cy="205.48" r="1.0" fill="#0d0887" fill-opacity="0.7000000000000001"/>
<circle cx="174.9" cy="205.48" r="1.0" fill="#0d0887" fill-opacity="0.7000000000000001"/>
<circle cx="188.75" cy="205.48" r="1.0" fill="#0d0887" fill-opacity="0.7000000000000001"/>
<circle cx="202.6" cy="205.48" r="1.0" fill="#0d0887" fill-opacity="0.7000000000000001"/>
<circle cx="216.45" cy="205.48" r="1.0" fill="#0d0887" fill-opacity="0.7000000000000001"/>
<circle cx="230.3" cy="205.48" r="1.0" fill="#0d0887" fill-opacity="0.7000000000000001"/>
<circle cx="244.15" cy="205.48" r="1.0" fill="#0d0887" fill-opacity="0.7000000000000001"/>
<circle cx="258" cy="205.48" r="1.0" fill="#0d0887" fill-opacity="0.7000000000000001"/>
<circle cx="271.85" cy="205.48" r="1.0" fill="#0d0887" fill-opacity="0.7000000000000001"/>
<circle cx="285.7" cy="205.48" r="1.0" fill="#0d0887" fill-opacity="0.7000000000000001"/>
<circle cx="299.55" cy="205.48" r="1.0" fill="#0d0887" fill-opacity="0.7000000000000001"/>
<path d="M36.4,233.16 L50.25,236.26 L64.1,233.47 L77.95,228.02 L91.8,217.45 L105.65,209.99 L119.5,189.77 L133.35,195.68 L147.2,175.31 L161.05,172.51 L174.9,172.51 L188.75,172.51 L202.6,172.51 L216.45,172.51 L230.3,172.51 L244.15,172.51 L258,172.51 L271.85,172.51 L285.7,172.51 L299.55,172.51" fill="none" stroke="#fcce25" stroke-width="1.35" stroke-opacity="0.6" stroke-linejoin="round"/>
<circle cx="36.4" cy="233.16" r="1.0" fill="#fcce25" fill-opacity="0.75"/>
<circle cx="50.25" cy="236.26" r="1.0" fill="#fcce25" fill-opacity="0.75"/>
<circle cx="64.1" cy="233.47" r="1.0" fill="#fcce25" fill-opacity="0.75"/>
<circle cx="77.95" cy="228.02" r="1.0" fill="#fcce25" fill-opacity="0.75"/>
<circle cx="91.8" cy="217.45" r="1.0" fill="#fcce25" fill-opacity="0.75"/>
<circle cx="105.65" cy="209.99" r="1.0" fill="#fcce25" fill-opacity="0.75"/>
<circle cx="119.5" cy="189.77" r="1.0" fill="#fcce25" fill-opacity="0.75"/>
<circle cx="133.35" cy="195.68" r="1.0" fill="#fcce25" fill-opacity="0.75"/>
<circle cx="147.2" cy="175.31" r="1.0" fill="#fcce25" fill-opacity="0.75"/>
<circle cx="161.05" cy="172.51" r="1.0" fill="#fcce25" fill-opacity="0.75"/>
<circle cx="174.9" cy="172.51" r="1.0" fill="#fcce25" fill-opacity="0.75"/>
<circle cx="188.75" cy="172.51" r="1.0" fill="#fcce25" fill-opacity="0.75"/>
<circle cx="202.6" cy="172.51" r="1.0" fill="#fcce25" fill-opacity="0.75"/>
<circle cx="216.45" cy="172.51" r="1.0" fill="#fcce25" fill-opacity="0.75"/>
<circle cx="230.3" cy="172.51" r="1.0" fill="#fcce25" fill-opacity="0.75"/>
<circle cx="244.15" cy="172.51" r="1.0" fill="#fcce25" fill-opacity="0.75"/>
<circle cx="258" cy="172.51" r="1.0" fill="#fcce25" fill-opacity="0.75"/>
<circle cx="271.85" cy="172.51" r="1.0" fill="#fcce25" fill-opacity="0.75"/>
<circle cx="285.7" cy="172.51" r="1.0" fill="#fcce25" fill-opacity="0.75"/>
<circle cx="299.55" cy="172.51" r="1.0" fill="#fcce25" fill-opacity="0.75"/>
<path d="M330.5,166V240H632" fill="none" stroke="#777" stroke-width="0.9"/>
<path d="M328.5,236.9H330.5" stroke="#777" stroke-width="0.8"/>
<text x="327.3" y="237.2" font-size="7.3" text-anchor="end" dominant-baseline="central" fill="#000" stroke="#000" stroke-width="0.12" transform="translate(0,0) scale(1.0,1)">80</text>
<path d="M328.5,219.26H330.5" stroke="#777" stroke-width="0.8"/>
<text x="327.3" y="219.56" font-size="7.3" text-anchor="end" dominant-baseline="central" fill="#000" stroke="#000" stroke-width="0.12" transform="translate(0,0) scale(1.0,1)">84</text>
<path d="M328.5,201.62H330.5" stroke="#777" stroke-width="0.8"/>
<text x="327.3" y="201.92" font-size="7.3" text-anchor="end" dominant-baseline="central" fill="#000" stroke="#000" stroke-width="0.12" transform="translate(0,0) scale(1.0,1)">88</text>
<path d="M328.5,183.98H330.5" stroke="#777" stroke-width="0.8"/>
<text x="327.3" y="184.28" font-size="7.3" text-anchor="end" dominant-baseline="central" fill="#000" stroke="#000" stroke-width="0.12" transform="translate(0,0) scale(1.0,1)">92</text>
<path d="M328.5,166.34H330.5" stroke="#777" stroke-width="0.8"/>
<text x="327.3" y="166.64" font-size="7.3" text-anchor="end" dominant-baseline="central" fill="#000" stroke="#000" stroke-width="0.12" transform="translate(0,0) scale(1.0,1)">96</text>
<path d="M344.2,240V241.8" stroke="#777" stroke-width="0.8"/>
<path d="M373.14,240V241.8" stroke="#777" stroke-width="0.8"/>
<path d="M402.08,240V241.8" stroke="#777" stroke-width="0.8"/>
<path d="M431.02,240V241.8" stroke="#777" stroke-width="0.8"/>
<path d="M459.96,240V241.8" stroke="#777" stroke-width="0.8"/>
<path d="M488.9,240V241.8" stroke="#777" stroke-width="0.8"/>
<path d="M517.84,240V241.8" stroke="#777" stroke-width="0.8"/>
<path d="M546.78,240V241.8" stroke="#777" stroke-width="0.8"/>
<path d="M575.72,240V241.8" stroke="#777" stroke-width="0.8"/>
<path d="M604.66,240V241.8" stroke="#777" stroke-width="0.8"/>
<path d="M344.2,236.9 L358.67,183.54 L373.14,179.57 L387.61,179.57 L402.08,179.57 L416.55,179.57 L431.02,179.57 L445.49,179.57 L459.96,179.57 L474.43,179.57 L488.9,179.57 L503.37,179.57 L517.84,179.57 L532.31,179.57 L546.78,179.57 L561.25,179.57 L575.72,179.57 L590.19,179.57 L604.66,179.57 L619.13,179.57" fill="none" stroke="#fcce25" stroke-width="1.35" stroke-opacity="0.6" stroke-linejoin="round"/>
<circle cx="344.2" cy="236.9" r="1.0" fill="#fcce25" fill-opacity="0.75"/>
<circle cx="358.67" cy="183.54" r="1.0" fill="#fcce25" fill-opacity="0.75"/>
<circle cx="373.14" cy="179.57" r="1.0" fill="#fcce25" fill-opacity="0.75"/>
<circle cx="387.61" cy="179.57" r="1.0" fill="#fcce25" fill-opacity="0.75"/>
<circle cx="402.08" cy="179.57" r="1.0" fill="#fcce25" fill-opacity="0.75"/>
<circle cx="416.55" cy="179.57" r="1.0" fill="#fcce25" fill-opacity="0.75"/>
<circle cx="431.02" cy="179.57" r="1.0" fill="#fcce25" fill-opacity="0.75"/>
<circle cx="445.49" cy="179.57" r="1.0" fill="#fcce25" fill-opacity="0.75"/>
<circle cx="459.96" cy="179.57" r="1.0" fill="#fcce25" fill-opacity="0.75"/>
<circle cx="474.43" cy="179.57" r="1.0" fill="#fcce25" fill-opacity="0.75"/>
<circle cx="488.9" cy="179.57" r="1.0" fill="#fcce25" fill-opacity="0.75"/>
<circle cx="503.37" cy="179.57" r="1.0" fill="#fcce25" fill-opacity="0.75"/>
<circle cx="517.84" cy="179.57" r="1.0" fill="#fcce25" fill-opacity="0.75"/>
<circle cx="532.31" cy="179.57" r="1.0" fill="#fcce25" fill-opacity="0.75"/>
<circle cx="546.78" cy="179.57" r="1.0" fill="#fcce25" fill-opacity="0.75"/>
<circle cx="561.25" cy="179.57" r="1.0" fill="#fcce25" fill-opacity="0.75"/>
<circle cx="575.72" cy="179.57" r="1.0" fill="#fcce25" fill-opacity="0.75"/>
<circle cx="590.19" cy="179.57" r="1.0" fill="#fcce25" fill-opacity="0.75"/>
<circle cx="604.66" cy="179.57" r="1.0" fill="#fcce25" fill-opacity="0.75"/>
<circle cx="619.13" cy="179.57" r="1.0" fill="#fcce25" fill-opacity="0.75"/>
<path d="M344.2,183.98 L358.67,179.57 L373.14,179.57 L387.61,179.57 L402.08,179.57 L416.55,179.57 L431.02,179.57 L445.49,179.57 L459.96,179.57 L474.43,179.57 L488.9,179.57 L503.37,179.57 L517.84,179.57 L532.31,179.57 L546.78,179.57 L561.25,179.57 L575.72,179.57 L590.19,179.57 L604.66,179.57 L619.13,179.57" fill="none" stroke="#fdab33" stroke-width="1.35" stroke-opacity="0.6" stroke-linejoin="round"/>
<circle cx="344.2" cy="183.98" r="1.0" fill="#fdab33" fill-opacity="0.75"/>
<circle cx="358.67" cy="179.57" r="1.0" fill="#fdab33" fill-opacity="0.75"/>
<circle cx="373.14" cy="179.57" r="1.0" fill="#fdab33" fill-opacity="0.75"/>
<circle cx="387.61" cy="179.57" r="1.0" fill="#fdab33" fill-opacity="0.75"/>
<circle cx="402.08" cy="179.57" r="1.0" fill="#fdab33" fill-opacity="0.75"/>
<circle cx="416.55" cy="179.57" r="1.0" fill="#fdab33" fill-opacity="0.75"/>
<circle cx="431.02" cy="179.57" r="1.0" fill="#fdab33" fill-opacity="0.75"/>
<circle cx="445.49" cy="179.57" r="1.0" fill="#fdab33" fill-opacity="0.75"/>
<circle cx="459.96" cy="179.57" r="1.0" fill="#fdab33" fill-opacity="0.75"/>
<circle cx="474.43" cy="179.57" r="1.0" fill="#fdab33" fill-opacity="0.75"/>
<circle cx="488.9" cy="179.57" r="1.0" fill="#fdab33" fill-opacity="0.75"/>
<circle cx="503.37" cy="179.57" r="1.0" fill="#fdab33" fill-opacity="0.75"/>
<circle cx="517.84" cy="179.57" r="1.0" fill="#fdab33" fill-opacity="0.75"/>
<circle cx="532.31" cy="179.57" r="1.0" fill="#fdab33" fill-opacity="0.75"/>
<circle cx="546.78" cy="179.57" r="1.0" fill="#fdab33" fill-opacity="0.75"/>
<circle cx="561.25" cy="179.57" r="1.0" fill="#fdab33" fill-opacity="0.75"/>
<circle cx="575.72" cy="179.57" r="1.0" fill="#fdab33" fill-opacity="0.75"/>
<circle cx="590.19" cy="179.57" r="1.0" fill="#fdab33" fill-opacity="0.75"/>
<circle cx="604.66" cy="179.57" r="1.0" fill="#fdab33" fill-opacity="0.75"/>
<circle cx="619.13" cy="179.57" r="1.0" fill="#fdab33" fill-opacity="0.75"/>
<path d="M344.2,188.39 L358.67,174.94 L373.14,174.94 L387.61,174.94 L402.08,174.94 L416.55,174.94 L431.02,174.94 L445.49,174.94 L459.96,174.94 L474.43,174.94 L488.9,174.94 L503.37,174.94 L517.84,174.94 L532.31,174.94 L546.78,174.94 L561.25,174.94 L575.72,174.94 L590.19,174.94 L604.66,174.94 L619.13,174.94" fill="none" stroke="#f58b47" stroke-width="1.35" stroke-opacity="0.6" stroke-linejoin="round"/>
<circle cx="344.2" cy="188.39" r="1.0" fill="#f58b47" fill-opacity="0.75"/>
<circle cx="358.67" cy="174.94" r="1.0" fill="#f58b47" fill-opacity="0.75"/>
<circle cx="373.14" cy="174.94" r="1.0" fill="#f58b47" fill-opacity="0.75"/>
<circle cx="387.61" cy="174.94" r="1.0" fill="#f58b47" fill-opacity="0.75"/>
<circle cx="402.08" cy="174.94" r="1.0" fill="#f58b47" fill-opacity="0.75"/>
<circle cx="416.55" cy="174.94" r="1.0" fill="#f58b47" fill-opacity="0.75"/>
<circle cx="431.02" cy="174.94" r="1.0" fill="#f58b47" fill-opacity="0.75"/>
<circle cx="445.49" cy="174.94" r="1.0" fill="#f58b47" fill-opacity="0.75"/>
<circle cx="459.96" cy="174.94" r="1.0" fill="#f58b47" fill-opacity="0.75"/>
<circle cx="474.43" cy="174.94" r="1.0" fill="#f58b47" fill-opacity="0.75"/>
<circle cx="488.9" cy="174.94" r="1.0" fill="#f58b47" fill-opacity="0.75"/>
<circle cx="503.37" cy="174.94" r="1.0" fill="#f58b47" fill-opacity="0.75"/>
<circle cx="517.84" cy="174.94" r="1.0" fill="#f58b47" fill-opacity="0.75"/>
<circle cx="532.31" cy="174.94" r="1.0" fill="#f58b47" fill-opacity="0.75"/>
<circle cx="546.78" cy="174.94" r="1.0" fill="#f58b47" fill-opacity="0.75"/>
<circle cx="561.25" cy="174.94" r="1.0" fill="#f58b47" fill-opacity="0.75"/>
<circle cx="575.72" cy="174.94" r="1.0" fill="#f58b47" fill-opacity="0.75"/>
<circle cx="590.19" cy="174.94" r="1.0" fill="#f58b47" fill-opacity="0.75"/>
<circle cx="604.66" cy="174.94" r="1.0" fill="#f58b47" fill-opacity="0.75"/>
<circle cx="619.13" cy="174.94" r="1.0" fill="#f58b47" fill-opacity="0.75"/>
<path d="M344.2,179.57 L358.67,174.94 L373.14,174.94 L387.61,174.94 L402.08,174.94 L416.55,174.94 L431.02,174.94 L445.49,174.94 L459.96,174.94 L474.43,174.94 L488.9,174.94 L503.37,174.94 L517.84,174.94 L532.31,174.94 L546.78,174.94 L561.25,174.94 L575.72,174.94 L590.19,174.94 L604.66,174.94 L619.13,174.94" fill="none" stroke="#e76e5b" stroke-width="1.35" stroke-opacity="0.6" stroke-linejoin="round"/>
<circle cx="344.2" cy="179.57" r="1.0" fill="#e76e5b" fill-opacity="0.75"/>
<circle cx="358.67" cy="174.94" r="1.0" fill="#e76e5b" fill-opacity="0.75"/>
<circle cx="373.14" cy="174.94" r="1.0" fill="#e76e5b" fill-opacity="0.75"/>
<circle cx="387.61" cy="174.94" r="1.0" fill="#e76e5b" fill-opacity="0.75"/>
<circle cx="402.08" cy="174.94" r="1.0" fill="#e76e5b" fill-opacity="0.75"/>
<circle cx="416.55" cy="174.94" r="1.0" fill="#e76e5b" fill-opacity="0.75"/>
<circle cx="431.02" cy="174.94" r="1.0" fill="#e76e5b" fill-opacity="0.75"/>
<circle cx="445.49" cy="174.94" r="1.0" fill="#e76e5b" fill-opacity="0.75"/>
<circle cx="459.96" cy="174.94" r="1.0" fill="#e76e5b" fill-opacity="0.75"/>
<circle cx="474.43" cy="174.94" r="1.0" fill="#e76e5b" fill-opacity="0.75"/>
<circle cx="488.9" cy="174.94" r="1.0" fill="#e76e5b" fill-opacity="0.75"/>
<circle cx="503.37" cy="174.94" r="1.0" fill="#e76e5b" fill-opacity="0.75"/>
<circle cx="517.84" cy="174.94" r="1.0" fill="#e76e5b" fill-opacity="0.75"/>
<circle cx="532.31" cy="174.94" r="1.0" fill="#e76e5b" fill-opacity="0.75"/>
<circle cx="546.78" cy="174.94" r="1.0" fill="#e76e5b" fill-opacity="0.75"/>
<circle cx="561.25" cy="174.94" r="1.0" fill="#e76e5b" fill-opacity="0.75"/>
<circle cx="575.72" cy="174.94" r="1.0" fill="#e76e5b" fill-opacity="0.75"/>
<circle cx="590.19" cy="174.94" r="1.0" fill="#e76e5b" fill-opacity="0.75"/>
<circle cx="604.66" cy="174.94" r="1.0" fill="#e76e5b" fill-opacity="0.75"/>
<circle cx="619.13" cy="174.94" r="1.0" fill="#e76e5b" fill-opacity="0.75"/>
<path d="M344.2,174.94 L358.67,174.94 L373.14,174.94 L387.61,174.94 L402.08,174.94 L416.55,174.94 L431.02,174.94 L445.49,174.94 L459.96,174.94 L474.43,174.94 L488.9,174.94 L503.37,174.94 L517.84,174.94 L532.31,174.94 L546.78,174.94 L561.25,174.94 L575.72,174.94 L590.19,174.94 L604.66,174.94 L619.13,174.94" fill="none" stroke="#d5536f" stroke-width="1.35" stroke-opacity="0.6" stroke-linejoin="round"/>
<circle cx="344.2" cy="174.94" r="1.0" fill="#d5536f" fill-opacity="0.75"/>
<circle cx="358.67" cy="174.94" r="1.0" fill="#d5536f" fill-opacity="0.75"/>
<circle cx="373.14" cy="174.94" r="1.0" fill="#d5536f" fill-opacity="0.75"/>
<circle cx="387.61" cy="174.94" r="1.0" fill="#d5536f" fill-opacity="0.75"/>
<circle cx="402.08" cy="174.94" r="1.0" fill="#d5536f" fill-opacity="0.75"/>
<circle cx="416.55" cy="174.94" r="1.0" fill="#d5536f" fill-opacity="0.75"/>
<circle cx="431.02" cy="174.94" r="1.0" fill="#d5536f" fill-opacity="0.75"/>
<circle cx="445.49" cy="174.94" r="1.0" fill="#d5536f" fill-opacity="0.75"/>
<circle cx="459.96" cy="174.94" r="1.0" fill="#d5536f" fill-opacity="0.75"/>
<circle cx="474.43" cy="174.94" r="1.0" fill="#d5536f" fill-opacity="0.75"/>
<circle cx="488.9" cy="174.94" r="1.0" fill="#d5536f" fill-opacity="0.75"/>
<circle cx="503.37" cy="174.94" r="1.0" fill="#d5536f" fill-opacity="0.75"/>
<circle cx="517.84" cy="174.94" r="1.0" fill="#d5536f" fill-opacity="0.75"/>
<circle cx="532.31" cy="174.94" r="1.0" fill="#d5536f" fill-opacity="0.75"/>
<circle cx="546.78" cy="174.94" r="1.0" fill="#d5536f" fill-opacity="0.75"/>
<circle cx="561.25" cy="174.94" r="1.0" fill="#d5536f" fill-opacity="0.75"/>
<circle cx="575.72" cy="174.94" r="1.0" fill="#d5536f" fill-opacity="0.75"/>
<circle cx="590.19" cy="174.94" r="1.0" fill="#d5536f" fill-opacity="0.75"/>
<circle cx="604.66" cy="174.94" r="1.0" fill="#d5536f" fill-opacity="0.75"/>
<circle cx="619.13" cy="174.94" r="1.0" fill="#d5536f" fill-opacity="0.75"/>
<path d="M344.2,174.94 L358.67,174.94 L373.14,174.94 L387.61,174.94 L402.08,174.94 L416.55,174.94 L431.02,174.94 L445.49,174.94 L459.96,174.94 L474.43,174.94 L488.9,174.94 L503.37,174.94 L517.84,174.94 L532.31,174.94 L546.78,174.94 L561.25,174.94 L575.72,174.94 L590.19,174.94 L604.66,174.94 L619.13,174.94" fill="none" stroke="#bf3984" stroke-width="1.35" stroke-opacity="0.6" stroke-linejoin="round"/>
<circle cx="344.2" cy="174.94" r="1.0" fill="#bf3984" fill-opacity="0.75"/>
<circle cx="358.67" cy="174.94" r="1.0" fill="#bf3984" fill-opacity="0.75"/>
<circle cx="373.14" cy="174.94" r="1.0" fill="#bf3984" fill-opacity="0.75"/>
<circle cx="387.61" cy="174.94" r="1.0" fill="#bf3984" fill-opacity="0.75"/>
<circle cx="402.08" cy="174.94" r="1.0" fill="#bf3984" fill-opacity="0.75"/>
<circle cx="416.55" cy="174.94" r="1.0" fill="#bf3984" fill-opacity="0.75"/>
<circle cx="431.02" cy="174.94" r="1.0" fill="#bf3984" fill-opacity="0.75"/>
<circle cx="445.49" cy="174.94" r="1.0" fill="#bf3984" fill-opacity="0.75"/>
<circle cx="459.96" cy="174.94" r="1.0" fill="#bf3984" fill-opacity="0.75"/>
<circle cx="474.43" cy="174.94" r="1.0" fill="#bf3984" fill-opacity="0.75"/>
<circle cx="488.9" cy="174.94" r="1.0" fill="#bf3984" fill-opacity="0.75"/>
<circle cx="503.37" cy="174.94" r="1.0" fill="#bf3984" fill-opacity="0.75"/>
<circle cx="517.84" cy="174.94" r="1.0" fill="#bf3984" fill-opacity="0.75"/>
<circle cx="532.31" cy="174.94" r="1.0" fill="#bf3984" fill-opacity="0.75"/>
<circle cx="546.78" cy="174.94" r="1.0" fill="#bf3984" fill-opacity="0.75"/>
<circle cx="561.25" cy="174.94" r="1.0" fill="#bf3984" fill-opacity="0.75"/>
<circle cx="575.72" cy="174.94" r="1.0" fill="#bf3984" fill-opacity="0.75"/>
<circle cx="590.19" cy="174.94" r="1.0" fill="#bf3984" fill-opacity="0.75"/>
<circle cx="604.66" cy="174.94" r="1.0" fill="#bf3984" fill-opacity="0.75"/>
<circle cx="619.13" cy="174.94" r="1.0" fill="#bf3984" fill-opacity="0.75"/>
<path d="M344.2,174.94 L358.67,174.94 L373.14,174.94 L387.61,174.94 L402.08,174.94 L416.55,174.94 L431.02,174.94 L445.49,174.94 L459.96,174.94 L474.43,174.94 L488.9,174.94 L503.37,174.94 L517.84,174.94 L532.31,174.94 L546.78,174.94 L561.25,174.94 L575.72,174.94 L590.19,174.94 L604.66,174.94 L619.13,174.94" fill="none" stroke="#a51f99" stroke-width="1.35" stroke-opacity="0.6" stroke-linejoin="round"/>
<circle cx="344.2" cy="174.94" r="1.0" fill="#a51f99" fill-opacity="0.75"/>
<circle cx="358.67" cy="174.94" r="1.0" fill="#a51f99" fill-opacity="0.75"/>
<circle cx="373.14" cy="174.94" r="1.0" fill="#a51f99" fill-opacity="0.75"/>
<circle cx="387.61" cy="174.94" r="1.0" fill="#a51f99" fill-opacity="0.75"/>
<circle cx="402.08" cy="174.94" r="1.0" fill="#a51f99" fill-opacity="0.75"/>
<circle cx="416.55" cy="174.94" r="1.0" fill="#a51f99" fill-opacity="0.75"/>
<circle cx="431.02" cy="174.94" r="1.0" fill="#a51f99" fill-opacity="0.75"/>
<circle cx="445.49" cy="174.94" r="1.0" fill="#a51f99" fill-opacity="0.75"/>
<circle cx="459.96" cy="174.94" r="1.0" fill="#a51f99" fill-opacity="0.75"/>
<circle cx="474.43" cy="174.94" r="1.0" fill="#a51f99" fill-opacity="0.75"/>
<circle cx="488.9" cy="174.94" r="1.0" fill="#a51f99" fill-opacity="0.75"/>
<circle cx="503.37" cy="174.94" r="1.0" fill="#a51f99" fill-opacity="0.75"/>
<circle cx="517.84" cy="174.94" r="1.0" fill="#a51f99" fill-opacity="0.75"/>
<circle cx="532.31" cy="174.94" r="1.0" fill="#a51f99" fill-opacity="0.75"/>
<circle cx="546.78" cy="174.94" r="1.0" fill="#a51f99" fill-opacity="0.75"/>
<circle cx="561.25" cy="174.94" r="1.0" fill="#a51f99" fill-opacity="0.75"/>
<circle cx="575.72" cy="174.94" r="1.0" fill="#a51f99" fill-opacity="0.75"/>
<circle cx="590.19" cy="174.94" r="1.0" fill="#a51f99" fill-opacity="0.75"/>
<circle cx="604.66" cy="174.94" r="1.0" fill="#a51f99" fill-opacity="0.75"/>
<circle cx="619.13" cy="174.94" r="1.0" fill="#a51f99" fill-opacity="0.75"/>
<path d="M344.2,174.94 L358.67,174.94 L373.14,174.94 L387.61,174.94 L402.08,174.94 L416.55,174.94 L431.02,174.94 L445.49,174.94 L459.96,174.94 L474.43,174.94 L488.9,174.94 L503.37,174.94 L517.84,174.94 L532.31,174.94 L546.78,174.94 L561.25,174.94 L575.72,174.94 L590.19,174.94 L604.66,174.94 L619.13,174.94" fill="none" stroke="#8606a6" stroke-width="1.35" stroke-opacity="0.6" stroke-linejoin="round"/>
<circle cx="344.2" cy="174.94" r="1.0" fill="#8606a6" fill-opacity="0.75"/>
<circle cx="358.67" cy="174.94" r="1.0" fill="#8606a6" fill-opacity="0.75"/>
<circle cx="373.14" cy="174.94" r="1.0" fill="#8606a6" fill-opacity="0.75"/>
<circle cx="387.61" cy="174.94" r="1.0" fill="#8606a6" fill-opacity="0.75"/>
<circle cx="402.08" cy="174.94" r="1.0" fill="#8606a6" fill-opacity="0.75"/>
<circle cx="416.55" cy="174.94" r="1.0" fill="#8606a6" fill-opacity="0.75"/>
<circle cx="431.02" cy="174.94" r="1.0" fill="#8606a6" fill-opacity="0.75"/>
<circle cx="445.49" cy="174.94" r="1.0" fill="#8606a6" fill-opacity="0.75"/>
<circle cx="459.96" cy="174.94" r="1.0" fill="#8606a6" fill-opacity="0.75"/>
<circle cx="474.43" cy="174.94" r="1.0" fill="#8606a6" fill-opacity="0.75"/>
<circle cx="488.9" cy="174.94" r="1.0" fill="#8606a6" fill-opacity="0.75"/>
<circle cx="503.37" cy="174.94" r="1.0" fill="#8606a6" fill-opacity="0.75"/>
<circle cx="517.84" cy="174.94" r="1.0" fill="#8606a6" fill-opacity="0.75"/>
<circle cx="532.31" cy="174.94" r="1.0" fill="#8606a6" fill-opacity="0.75"/>
<circle cx="546.78" cy="174.94" r="1.0" fill="#8606a6" fill-opacity="0.75"/>
<circle cx="561.25" cy="174.94" r="1.0" fill="#8606a6" fill-opacity="0.75"/>
<circle cx="575.72" cy="174.94" r="1.0" fill="#8606a6" fill-opacity="0.75"/>
<circle cx="590.19" cy="174.94" r="1.0" fill="#8606a6" fill-opacity="0.75"/>
<circle cx="604.66" cy="174.94" r="1.0" fill="#8606a6" fill-opacity="0.75"/>
<circle cx="619.13" cy="174.94" r="1.0" fill="#8606a6" fill-opacity="0.75"/>
<path d="M344.2,174.94 L358.67,174.94 L373.14,174.94 L387.61,174.94 L402.08,174.94 L416.55,174.94 L431.02,174.94 L445.49,174.94 L459.96,174.94 L474.43,174.94 L488.9,174.94 L503.37,174.94 L517.84,174.94 L532.31,174.94 L546.78,174.94 L561.25,174.94 L575.72,174.94 L590.19,174.94 L604.66,174.94 L619.13,174.94" fill="none" stroke="#6300a7" stroke-width="1.35" stroke-opacity="0.6" stroke-linejoin="round"/>
<circle cx="344.2" cy="174.94" r="1.0" fill="#6300a7" fill-opacity="0.75"/>
<circle cx="358.67" cy="174.94" r="1.0" fill="#6300a7" fill-opacity="0.75"/>
<circle cx="373.14" cy="174.94" r="1.0" fill="#6300a7" fill-opacity="0.75"/>
<circle cx="387.61" cy="174.94" r="1.0" fill="#6300a7" fill-opacity="0.75"/>
<circle cx="402.08" cy="174.94" r="1.0" fill="#6300a7" fill-opacity="0.75"/>
<circle cx="416.55" cy="174.94" r="1.0" fill="#6300a7" fill-opacity="0.75"/>
<circle cx="431.02" cy="174.94" r="1.0" fill="#6300a7" fill-opacity="0.75"/>
<circle cx="445.49" cy="174.94" r="1.0" fill="#6300a7" fill-opacity="0.75"/>
<circle cx="459.96" cy="174.94" r="1.0" fill="#6300a7" fill-opacity="0.75"/>
<circle cx="474.43" cy="174.94" r="1.0" fill="#6300a7" fill-opacity="0.75"/>
<circle cx="488.9" cy="174.94" r="1.0" fill="#6300a7" fill-opacity="0.75"/>
<circle cx="503.37" cy="174.94" r="1.0" fill="#6300a7" fill-opacity="0.75"/>
<circle cx="517.84" cy="174.94" r="1.0" fill="#6300a7" fill-opacity="0.75"/>
<circle cx="532.31" cy="174.94" r="1.0" fill="#6300a7" fill-opacity="0.75"/>
<circle cx="546.78" cy="174.94" r="1.0" fill="#6300a7" fill-opacity="0.75"/>
<circle cx="561.25" cy="174.94" r="1.0" fill="#6300a7" fill-opacity="0.75"/>
<circle cx="575.72" cy="174.94" r="1.0" fill="#6300a7" fill-opacity="0.75"/>
<circle cx="590.19" cy="174.94" r="1.0" fill="#6300a7" fill-opacity="0.75"/>
<circle cx="604.66" cy="174.94" r="1.0" fill="#6300a7" fill-opacity="0.75"/>
<circle cx="619.13" cy="174.94" r="1.0" fill="#6300a7" fill-opacity="0.75"/>
<path d="M344.2,174.94 L358.67,174.94 L373.14,174.94 L387.61,174.94 L402.08,174.94 L416.55,174.94 L431.02,174.94 L445.49,174.94 L459.96,174.94 L474.43,174.94 L488.9,174.94 L503.37,174.94 L517.84,174.94 L532.31,174.94 L546.78,174.94 L561.25,174.94 L575.72,174.94 L590.19,174.94 L604.66,174.94 L619.13,174.94" fill="none" stroke="#3e049c" stroke-width="1.35" stroke-opacity="0.6" stroke-linejoin="round"/>
<circle cx="344.2" cy="174.94" r="1.0" fill="#3e049c" fill-opacity="0.75"/>
<circle cx="358.67" cy="174.94" r="1.0" fill="#3e049c" fill-opacity="0.75"/>
<circle cx="373.14" cy="174.94" r="1.0" fill="#3e049c" fill-opacity="0.75"/>
<circle cx="387.61" cy="174.94" r="1.0" fill="#3e049c" fill-opacity="0.75"/>
<circle cx="402.08" cy="174.94" r="1.0" fill="#3e049c" fill-opacity="0.75"/>
<circle cx="416.55" cy="174.94" r="1.0" fill="#3e049c" fill-opacity="0.75"/>
<circle cx="431.02" cy="174.94" r="1.0" fill="#3e049c" fill-opacity="0.75"/>
<circle cx="445.49" cy="174.94" r="1.0" fill="#3e049c" fill-opacity="0.75"/>
<circle cx="459.96" cy="174.94" r="1.0" fill="#3e049c" fill-opacity="0.75"/>
<circle cx="474.43" cy="174.94" r="1.0" fill="#3e049c" fill-opacity="0.75"/>
<circle cx="488.9" cy="174.94" r="1.0" fill="#3e049c" fill-opacity="0.75"/>
<circle cx="503.37" cy="174.94" r="1.0" fill="#3e049c" fill-opacity="0.75"/>
<circle cx="517.84" cy="174.94" r="1.0" fill="#3e049c" fill-opacity="0.75"/>
<circle cx="532.31" cy="174.94" r="1.0" fill="#3e049c" fill-opacity="0.75"/>
<circle cx="546.78" cy="174.94" r="1.0" fill="#3e049c" fill-opacity="0.75"/>
<circle cx="561.25" cy="174.94" r="1.0" fill="#3e049c" fill-opacity="0.75"/>
<circle cx="575.72" cy="174.94" r="1.0" fill="#3e049c" fill-opacity="0.75"/>
<circle cx="590.19" cy="174.94" r="1.0" fill="#3e049c" fill-opacity="0.75"/>
<circle cx="604.66" cy="174.94" r="1.0" fill="#3e049c" fill-opacity="0.75"/>
<circle cx="619.13" cy="174.94" r="1.0" fill="#3e049c" fill-opacity="0.75"/>
<path d="M344.2,174.94 L358.67,174.94 L373.14,174.94 L387.61,174.94 L402.08,174.94 L416.55,174.94 L431.02,174.94 L445.49,174.94 L459.96,174.94 L474.43,174.94 L488.9,174.94 L503.37,174.94 L517.84,174.94 L532.31,174.94 L546.78,174.94 L561.25,174.94 L575.72,174.94 L590.19,174.94 L604.66,174.94 L619.13,174.94" fill="none" stroke="#0d0887" stroke-width="1.5" stroke-opacity="0.6" stroke-linejoin="round"/>
<circle cx="344.2" cy="174.94" r="1.0" fill="#0d0887" fill-opacity="0.75"/>
<circle cx="358.67" cy="174.94" r="1.0" fill="#0d0887" fill-opacity="0.75"/>
<circle cx="373.14" cy="174.94" r="1.0" fill="#0d0887" fill-opacity="0.75"/>
<circle cx="387.61" cy="174.94" r="1.0" fill="#0d0887" fill-opacity="0.75"/>
<circle cx="402.08" cy="174.94" r="1.0" fill="#0d0887" fill-opacity="0.75"/>
<circle cx="416.55" cy="174.94" r="1.0" fill="#0d0887" fill-opacity="0.75"/>
<circle cx="431.02" cy="174.94" r="1.0" fill="#0d0887" fill-opacity="0.75"/>
<circle cx="445.49" cy="174.94" r="1.0" fill="#0d0887" fill-opacity="0.75"/>
<circle cx="459.96" cy="174.94" r="1.0" fill="#0d0887" fill-opacity="0.75"/>
<circle cx="474.43" cy="174.94" r="1.0" fill="#0d0887" fill-opacity="0.75"/>
<circle cx="488.9" cy="174.94" r="1.0" fill="#0d0887" fill-opacity="0.75"/>
<circle cx="503.37" cy="174.94" r="1.0" fill="#0d0887" fill-opacity="0.75"/>
<circle cx="517.84" cy="174.94" r="1.0" fill="#0d0887" fill-opacity="0.75"/>
<circle cx="532.31" cy="174.94" r="1.0" fill="#0d0887" fill-opacity="0.75"/>
<circle cx="546.78" cy="174.94" r="1.0" fill="#0d0887" fill-opacity="0.75"/>
<circle cx="561.25" cy="174.94" r="1.0" fill="#0d0887" fill-opacity="0.75"/>
<circle cx="575.72" cy="174.94" r="1.0" fill="#0d0887" fill-opacity="0.75"/>
<circle cx="590.19" cy="174.94" r="1.0" fill="#0d0887" fill-opacity="0.75"/>
<circle cx="604.66" cy="174.94" r="1.0" fill="#0d0887" fill-opacity="0.75"/>
<circle cx="619.13" cy="174.94" r="1.0" fill="#0d0887" fill-opacity="0.75"/>
<path d="M23,298.3V368.2H312.4" fill="none" stroke="#777" stroke-width="0.9"/>
<path d="M21,358.8H23" stroke="#777" stroke-width="0.8"/>
<text x="19.8" y="359.1" font-size="7.3" text-anchor="end" dominant-baseline="central" fill="#000" stroke="#000" stroke-width="0.12" transform="translate(0,0) scale(1.0,1)">50</text>
<path d="M21,344.4H23" stroke="#777" stroke-width="0.8"/>
<text x="19.8" y="344.7" font-size="7.3" text-anchor="end" dominant-baseline="central" fill="#000" stroke="#000" stroke-width="0.12" transform="translate(0,0) scale(1.0,1)">60</text>
<path d="M21,330H23" stroke="#777" stroke-width="0.8"/>
<text x="19.8" y="330.3" font-size="7.3" text-anchor="end" dominant-baseline="central" fill="#000" stroke="#000" stroke-width="0.12" transform="translate(0,0) scale(1.0,1)">70</text>
<path d="M21,315.6H23" stroke="#777" stroke-width="0.8"/>
<text x="19.8" y="315.9" font-size="7.3" text-anchor="end" dominant-baseline="central" fill="#000" stroke="#000" stroke-width="0.12" transform="translate(0,0) scale(1.0,1)">80</text>
<path d="M21,301.2H23" stroke="#777" stroke-width="0.8"/>
<text x="19.8" y="301.5" font-size="7.3" text-anchor="end" dominant-baseline="central" fill="#000" stroke="#000" stroke-width="0.12" transform="translate(0,0) scale(1.0,1)">90</text>
<path d="M36,368.2V370" stroke="#777" stroke-width="0.8"/>
<text x="36" y="376.8" font-size="7.3" text-anchor="middle" fill="#000" stroke="#000" stroke-width="0.12">0</text>
<path d="M63.8,368.2V370" stroke="#777" stroke-width="0.8"/>
<text x="63.8" y="376.8" font-size="7.3" text-anchor="middle" fill="#000" stroke="#000" stroke-width="0.12">2</text>
<path d="M91.6,368.2V370" stroke="#777" stroke-width="0.8"/>
<text x="91.6" y="376.8" font-size="7.3" text-anchor="middle" fill="#000" stroke="#000" stroke-width="0.12">4</text>
<path d="M119.4,368.2V370" stroke="#777" stroke-width="0.8"/>
<text x="119.4" y="376.8" font-size="7.3" text-anchor="middle" fill="#000" stroke="#000" stroke-width="0.12">6</text>
<path d="M147.2,368.2V370" stroke="#777" stroke-width="0.8"/>
<text x="147.2" y="376.8" font-size="7.3" text-anchor="middle" fill="#000" stroke="#000" stroke-width="0.12">8</text>
<path d="M175,368.2V370" stroke="#777" stroke-width="0.8"/>
<text x="175" y="376.8" font-size="7.3" text-anchor="middle" fill="#000" stroke="#000" stroke-width="0.12">10</text>
<path d="M202.8,368.2V370" stroke="#777" stroke-width="0.8"/>
<text x="202.8" y="376.8" font-size="7.3" text-anchor="middle" fill="#000" stroke="#000" stroke-width="0.12">12</text>
<path d="M230.6,368.2V370" stroke="#777" stroke-width="0.8"/>
<text x="230.6" y="376.8" font-size="7.3" text-anchor="middle" fill="#000" stroke="#000" stroke-width="0.12">14</text>
<path d="M258.4,368.2V370" stroke="#777" stroke-width="0.8"/>
<text x="258.4" y="376.8" font-size="7.3" text-anchor="middle" fill="#000" stroke="#000" stroke-width="0.12">16</text>
<path d="M286.2,368.2V370" stroke="#777" stroke-width="0.8"/>
<text x="286.2" y="376.8" font-size="7.3" text-anchor="middle" fill="#000" stroke="#000" stroke-width="0.12">18</text>
<path d="M36,364.85 L49.9,358.51 L63.8,355.92 L77.7,356.35 L91.6,356.35 L105.5,354.62 L119.4,354.62 L133.3,353.04 L147.2,353.04 L161.1,353.04 L175,351.6 L188.9,351.6 L202.8,350.45 L216.7,350.16 L230.6,350.16 L244.5,349.58 L258.4,349.58 L272.3,349.58 L286.2,349.58 L300.1,349.58" fill="none" stroke="#fcce25" stroke-width="1.35" stroke-opacity="0.6" stroke-linejoin="round"/>
<circle cx="36" cy="364.85" r="1.0" fill="#fcce25" fill-opacity="0.75"/>
<circle cx="49.9" cy="358.51" r="1.0" fill="#fcce25" fill-opacity="0.75"/>
<circle cx="63.8" cy="355.92" r="1.0" fill="#fcce25" fill-opacity="0.75"/>
<circle cx="77.7" cy="356.35" r="1.0" fill="#fcce25" fill-opacity="0.75"/>
<circle cx="91.6" cy="356.35" r="1.0" fill="#fcce25" fill-opacity="0.75"/>
<circle cx="105.5" cy="354.62" r="1.0" fill="#fcce25" fill-opacity="0.75"/>
<circle cx="119.4" cy="354.62" r="1.0" fill="#fcce25" fill-opacity="0.75"/>
<circle cx="133.3" cy="353.04" r="1.0" fill="#fcce25" fill-opacity="0.75"/>
<circle cx="147.2" cy="353.04" r="1.0" fill="#fcce25" fill-opacity="0.75"/>
<circle cx="161.1" cy="353.04" r="1.0" fill="#fcce25" fill-opacity="0.75"/>
<circle cx="175" cy="351.6" r="1.0" fill="#fcce25" fill-opacity="0.75"/>
<circle cx="188.9" cy="351.6" r="1.0" fill="#fcce25" fill-opacity="0.75"/>
<circle cx="202.8" cy="350.45" r="1.0" fill="#fcce25" fill-opacity="0.75"/>
<circle cx="216.7" cy="350.16" r="1.0" fill="#fcce25" fill-opacity="0.75"/>
<circle cx="230.6" cy="350.16" r="1.0" fill="#fcce25" fill-opacity="0.75"/>
<circle cx="244.5" cy="349.58" r="1.0" fill="#fcce25" fill-opacity="0.75"/>
<circle cx="258.4" cy="349.58" r="1.0" fill="#fcce25" fill-opacity="0.75"/>
<circle cx="272.3" cy="349.58" r="1.0" fill="#fcce25" fill-opacity="0.75"/>
<circle cx="286.2" cy="349.58" r="1.0" fill="#fcce25" fill-opacity="0.75"/>
<circle cx="300.1" cy="349.58" r="1.0" fill="#fcce25" fill-opacity="0.75"/>
<path d="M36,360.38 L49.9,357.36 L63.8,355.06 L77.7,350.45 L91.6,348.72 L105.5,347.28 L119.4,346.42 L133.3,346.42 L147.2,346.42 L161.1,346.42 L175,346.42 L188.9,346.42 L202.8,346.42 L216.7,346.42 L230.6,346.42 L244.5,346.42 L258.4,346.42 L272.3,346.42 L286.2,346.42 L300.1,346.42 L300.1,349.3 L286.2,349.3 L272.3,349.3 L258.4,349.3 L244.5,349.3 L230.6,349.3 L216.7,349.3 L202.8,349.3 L188.9,349.3 L175,349.3 L161.1,349.3 L147.2,349.3 L133.3,349.3 L119.4,349.3 L105.5,350.16 L91.6,351.6 L77.7,352.75 L63.8,356.78 L49.9,358.8 L36,361.54Z" fill="#fdd27a" fill-opacity="0.5"/>
<path d="M36,360.96 L49.9,358.08 L63.8,355.92 L77.7,351.6 L91.6,350.16 L105.5,348.72 L119.4,347.57 L133.3,347.28 L147.2,347.28 L161.1,347.28 L175,347.28 L188.9,347.28 L202.8,347.28 L216.7,347.28 L230.6,347.28 L244.5,347.28 L258.4,347.28 L272.3,347.28 L286.2,347.28 L300.1,347.28" fill="none" stroke="#fdab33" stroke-width="1.35" stroke-opacity="0.6" stroke-linejoin="round"/>
<circle cx="36" cy="360.96" r="1.0" fill="#fdab33" fill-opacity="0.75"/>
<circle cx="49.9" cy="358.08" r="1.0" fill="#fdab33" fill-opacity="0.75"/>
<circle cx="63.8" cy="355.92" r="1.0" fill="#fdab33" fill-opacity="0.75"/>
<circle cx="77.7" cy="351.6" r="1.0" fill="#fdab33" fill-opacity="0.75"/>
<circle cx="91.6" cy="350.16" r="1.0" fill="#fdab33" fill-opacity="0.75"/>
<circle cx="105.5" cy="348.72" r="1.0" fill="#fdab33" fill-opacity="0.75"/>
<circle cx="119.4" cy="347.57" r="1.0" fill="#fdab33" fill-opacity="0.75"/>
<circle cx="133.3" cy="347.28" r="1.0" fill="#fdab33" fill-opacity="0.75"/>
<circle cx="147.2" cy="347.28" r="1.0" fill="#fdab33" fill-opacity="0.75"/>
<circle cx="161.1" cy="347.28" r="1.0" fill="#fdab33" fill-opacity="0.75"/>
<circle cx="175" cy="347.28" r="1.0" fill="#fdab33" fill-opacity="0.75"/>
<circle cx="188.9" cy="347.28" r="1.0" fill="#fdab33" fill-opacity="0.75"/>
<circle cx="202.8" cy="347.28" r="1.0" fill="#fdab33" fill-opacity="0.75"/>
<circle cx="216.7" cy="347.28" r="1.0" fill="#fdab33" fill-opacity="0.75"/>
<circle cx="230.6" cy="347.28" r="1.0" fill="#fdab33" fill-opacity="0.75"/>
<circle cx="244.5" cy="347.28" r="1.0" fill="#fdab33" fill-opacity="0.75"/>
<circle cx="258.4" cy="347.28" r="1.0" fill="#fdab33" fill-opacity="0.75"/>
<circle cx="272.3" cy="347.28" r="1.0" fill="#fdab33" fill-opacity="0.75"/>
<circle cx="286.2" cy="347.28" r="1.0" fill="#fdab33" fill-opacity="0.75"/>
<circle cx="300.1" cy="347.28" r="1.0" fill="#fdab33" fill-opacity="0.75"/>
<path d="M36,361.25 L49.9,355.06 L63.8,341.66 L77.7,319.92 L91.6,301.63 L105.5,301.2 L119.4,301.06 L133.3,301.06 L147.2,301.06 L161.1,301.06 L175,301.06 L188.9,301.06 L202.8,301.06 L216.7,301.06 L230.6,301.06 L244.5,301.06 L258.4,301.06 L272.3,301.06 L286.2,301.06 L300.1,301.06" fill="none" stroke="#f58b47" stroke-width="1.35" stroke-opacity="0.6" stroke-linejoin="round"/>
<circle cx="36" cy="361.25" r="1.0" fill="#f58b47" fill-opacity="0.75"/>
<circle cx="49.9" cy="355.06" r="1.0" fill="#f58b47" fill-opacity="0.75"/>
<circle cx="63.8" cy="341.66" r="1.0" fill="#f58b47" fill-opacity="0.75"/>
<circle cx="77.7" cy="319.92" r="1.0" fill="#f58b47" fill-opacity="0.75"/>
<circle cx="91.6" cy="301.63" r="1.0" fill="#f58b47" fill-opacity="0.75"/>
<circle cx="105.5" cy="301.2" r="1.0" fill="#f58b47" fill-opacity="0.75"/>
<circle cx="119.4" cy="301.06" r="1.0" fill="#f58b47" fill-opacity="0.75"/>
<circle cx="133.3" cy="301.06" r="1.0" fill="#f58b47" fill-opacity="0.75"/>
<circle cx="147.2" cy="301.06" r="1.0" fill="#f58b47" fill-opacity="0.75"/>
<circle cx="161.1" cy="301.06" r="1.0" fill="#f58b47" fill-opacity="0.75"/>
<circle cx="175" cy="301.06" r="1.0" fill="#f58b47" fill-opacity="0.75"/>
<circle cx="188.9" cy="301.06" r="1.0" fill="#f58b47" fill-opacity="0.75"/>
<circle cx="202.8" cy="301.06" r="1.0" fill="#f58b47" fill-opacity="0.75"/>
<circle cx="216.7" cy="301.06" r="1.0" fill="#f58b47" fill-opacity="0.75"/>
<circle cx="230.6" cy="301.06" r="1.0" fill="#f58b47" fill-opacity="0.75"/>
<circle cx="244.5" cy="301.06" r="1.0" fill="#f58b47" fill-opacity="0.75"/>
<circle cx="258.4" cy="301.06" r="1.0" fill="#f58b47" fill-opacity="0.75"/>
<circle cx="272.3" cy="301.06" r="1.0" fill="#f58b47" fill-opacity="0.75"/>
<circle cx="286.2" cy="301.06" r="1.0" fill="#f58b47" fill-opacity="0.75"/>
<circle cx="300.1" cy="301.06" r="1.0" fill="#f58b47" fill-opacity="0.75"/>
<path d="M36,358.8 L49.9,353.76 L63.8,302.64 L77.7,301.49 L91.6,301.34 L105.5,301.2 L119.4,301.06 L133.3,301.06 L147.2,301.06 L161.1,301.06 L175,301.06 L188.9,301.06 L202.8,301.06 L216.7,301.06 L230.6,301.06 L244.5,301.06 L258.4,301.06 L272.3,301.06 L286.2,301.06 L300.1,301.06" fill="none" stroke="#d5536f" stroke-width="1.35" stroke-opacity="0.6" stroke-linejoin="round"/>
<circle cx="36" cy="358.8" r="1.0" fill="#d5536f" fill-opacity="0.75"/>
<circle cx="49.9" cy="353.76" r="1.0" fill="#d5536f" fill-opacity="0.75"/>
<circle cx="63.8" cy="302.64" r="1.0" fill="#d5536f" fill-opacity="0.75"/>
<circle cx="77.7" cy="301.49" r="1.0" fill="#d5536f" fill-opacity="0.75"/>
<circle cx="91.6" cy="301.34" r="1.0" fill="#d5536f" fill-opacity="0.75"/>
<circle cx="105.5" cy="301.2" r="1.0" fill="#d5536f" fill-opacity="0.75"/>
<circle cx="119.4" cy="301.06" r="1.0" fill="#d5536f" fill-opacity="0.75"/>
<circle cx="133.3" cy="301.06" r="1.0" fill="#d5536f" fill-opacity="0.75"/>
<circle cx="147.2" cy="301.06" r="1.0" fill="#d5536f" fill-opacity="0.75"/>
<circle cx="161.1" cy="301.06" r="1.0" fill="#d5536f" fill-opacity="0.75"/>
<circle cx="175" cy="301.06" r="1.0" fill="#d5536f" fill-opacity="0.75"/>
<circle cx="188.9" cy="301.06" r="1.0" fill="#d5536f" fill-opacity="0.75"/>
<circle cx="202.8" cy="301.06" r="1.0" fill="#d5536f" fill-opacity="0.75"/>
<circle cx="216.7" cy="301.06" r="1.0" fill="#d5536f" fill-opacity="0.75"/>
<circle cx="230.6" cy="301.06" r="1.0" fill="#d5536f" fill-opacity="0.75"/>
<circle cx="244.5" cy="301.06" r="1.0" fill="#d5536f" fill-opacity="0.75"/>
<circle cx="258.4" cy="301.06" r="1.0" fill="#d5536f" fill-opacity="0.75"/>
<circle cx="272.3" cy="301.06" r="1.0" fill="#d5536f" fill-opacity="0.75"/>
<circle cx="286.2" cy="301.06" r="1.0" fill="#d5536f" fill-opacity="0.75"/>
<circle cx="300.1" cy="301.06" r="1.0" fill="#d5536f" fill-opacity="0.75"/>
<path d="M36,357.36 L49.9,345.84 L63.8,302.06 L77.7,300.62 L91.6,300.77 L105.5,300.91 L119.4,301.06 L133.3,301.06 L147.2,301.06 L161.1,301.06 L175,301.06 L188.9,301.06 L202.8,301.06 L216.7,301.06 L230.6,301.06 L244.5,301.06 L258.4,301.06 L272.3,301.06 L286.2,301.06 L300.1,301.06" fill="none" stroke="#d5536f" stroke-width="1.35" stroke-opacity="0.6" stroke-linejoin="round"/>
<circle cx="36" cy="357.36" r="1.0" fill="#d5536f" fill-opacity="0.75"/>
<circle cx="49.9" cy="345.84" r="1.0" fill="#d5536f" fill-opacity="0.75"/>
<circle cx="63.8" cy="302.06" r="1.0" fill="#d5536f" fill-opacity="0.75"/>
<circle cx="77.7" cy="300.62" r="1.0" fill="#d5536f" fill-opacity="0.75"/>
<circle cx="91.6" cy="300.77" r="1.0" fill="#d5536f" fill-opacity="0.75"/>
<circle cx="105.5" cy="300.91" r="1.0" fill="#d5536f" fill-opacity="0.75"/>
<circle cx="119.4" cy="301.06" r="1.0" fill="#d5536f" fill-opacity="0.75"/>
<circle cx="133.3" cy="301.06" r="1.0" fill="#d5536f" fill-opacity="0.75"/>
<circle cx="147.2" cy="301.06" r="1.0" fill="#d5536f" fill-opacity="0.75"/>
<circle cx="161.1" cy="301.06" r="1.0" fill="#d5536f" fill-opacity="0.75"/>
<circle cx="175" cy="301.06" r="1.0" fill="#d5536f" fill-opacity="0.75"/>
<circle cx="188.9" cy="301.06" r="1.0" fill="#d5536f" fill-opacity="0.75"/>
<circle cx="202.8" cy="301.06" r="1.0" fill="#d5536f" fill-opacity="0.75"/>
<circle cx="216.7" cy="301.06" r="1.0" fill="#d5536f" fill-opacity="0.75"/>
<circle cx="230.6" cy="301.06" r="1.0" fill="#d5536f" fill-opacity="0.75"/>
<circle cx="244.5" cy="301.06" r="1.0" fill="#d5536f" fill-opacity="0.75"/>
<circle cx="258.4" cy="301.06" r="1.0" fill="#d5536f" fill-opacity="0.75"/>
<circle cx="272.3" cy="301.06" r="1.0" fill="#d5536f" fill-opacity="0.75"/>
<circle cx="286.2" cy="301.06" r="1.0" fill="#d5536f" fill-opacity="0.75"/>
<circle cx="300.1" cy="301.06" r="1.0" fill="#d5536f" fill-opacity="0.75"/>
<path d="M36,360.24 L49.9,330.43 L63.8,302.78 L77.7,300.34 L91.6,300.48 L105.5,300.77 L119.4,301.06 L133.3,301.06 L147.2,301.06 L161.1,301.06 L175,301.06 L188.9,301.06 L202.8,301.06 L216.7,301.06 L230.6,301.06 L244.5,301.06 L258.4,301.06 L272.3,301.06 L286.2,301.06 L300.1,301.06" fill="none" stroke="#e76e5b" stroke-width="1.35" stroke-opacity="0.6" stroke-linejoin="round"/>
<circle cx="36" cy="360.24" r="1.0" fill="#e76e5b" fill-opacity="0.75"/>
<circle cx="49.9" cy="330.43" r="1.0" fill="#e76e5b" fill-opacity="0.75"/>
<circle cx="63.8" cy="302.78" r="1.0" fill="#e76e5b" fill-opacity="0.75"/>
<circle cx="77.7" cy="300.34" r="1.0" fill="#e76e5b" fill-opacity="0.75"/>
<circle cx="91.6" cy="300.48" r="1.0" fill="#e76e5b" fill-opacity="0.75"/>
<circle cx="105.5" cy="300.77" r="1.0" fill="#e76e5b" fill-opacity="0.75"/>
<circle cx="119.4" cy="301.06" r="1.0" fill="#e76e5b" fill-opacity="0.75"/>
<circle cx="133.3" cy="301.06" r="1.0" fill="#e76e5b" fill-opacity="0.75"/>
<circle cx="147.2" cy="301.06" r="1.0" fill="#e76e5b" fill-opacity="0.75"/>
<circle cx="161.1" cy="301.06" r="1.0" fill="#e76e5b" fill-opacity="0.75"/>
<circle cx="175" cy="301.06" r="1.0" fill="#e76e5b" fill-opacity="0.75"/>
<circle cx="188.9" cy="301.06" r="1.0" fill="#e76e5b" fill-opacity="0.75"/>
<circle cx="202.8" cy="301.06" r="1.0" fill="#e76e5b" fill-opacity="0.75"/>
<circle cx="216.7" cy="301.06" r="1.0" fill="#e76e5b" fill-opacity="0.75"/>
<circle cx="230.6" cy="301.06" r="1.0" fill="#e76e5b" fill-opacity="0.75"/>
<circle cx="244.5" cy="301.06" r="1.0" fill="#e76e5b" fill-opacity="0.75"/>
<circle cx="258.4" cy="301.06" r="1.0" fill="#e76e5b" fill-opacity="0.75"/>
<circle cx="272.3" cy="301.06" r="1.0" fill="#e76e5b" fill-opacity="0.75"/>
<circle cx="286.2" cy="301.06" r="1.0" fill="#e76e5b" fill-opacity="0.75"/>
<circle cx="300.1" cy="301.06" r="1.0" fill="#e76e5b" fill-opacity="0.75"/>
<path d="M36,355.92 L49.9,345.84 L63.8,345.84 L77.7,345.84 L91.6,345.84 L105.5,345.84 L119.4,345.84 L133.3,345.84 L147.2,345.84 L161.1,345.84 L175,345.84 L188.9,345.84 L202.8,345.84 L216.7,345.84 L230.6,345.84 L244.5,345.84 L258.4,345.84 L272.3,345.84 L286.2,345.84 L300.1,345.84" fill="none" stroke="#bf3984" stroke-width="1.35" stroke-opacity="0.6" stroke-linejoin="round"/>
<circle cx="36" cy="355.92" r="1.0" fill="#bf3984" fill-opacity="0.75"/>
<circle cx="49.9" cy="345.84" r="1.0" fill="#bf3984" fill-opacity="0.75"/>
<circle cx="63.8" cy="345.84" r="1.0" fill="#bf3984" fill-opacity="0.75"/>
<circle cx="77.7" cy="345.84" r="1.0" fill="#bf3984" fill-opacity="0.75"/>
<circle cx="91.6" cy="345.84" r="1.0" fill="#bf3984" fill-opacity="0.75"/>
<circle cx="105.5" cy="345.84" r="1.0" fill="#bf3984" fill-opacity="0.75"/>
<circle cx="119.4" cy="345.84" r="1.0" fill="#bf3984" fill-opacity="0.75"/>
<circle cx="133.3" cy="345.84" r="1.0" fill="#bf3984" fill-opacity="0.75"/>
<circle cx="147.2" cy="345.84" r="1.0" fill="#bf3984" fill-opacity="0.75"/>
<circle cx="161.1" cy="345.84" r="1.0" fill="#bf3984" fill-opacity="0.75"/>
<circle cx="175" cy="345.84" r="1.0" fill="#bf3984" fill-opacity="0.75"/>
<circle cx="188.9" cy="345.84" r="1.0" fill="#bf3984" fill-opacity="0.75"/>
<circle cx="202.8" cy="345.84" r="1.0" fill="#bf3984" fill-opacity="0.75"/>
<circle cx="216.7" cy="345.84" r="1.0" fill="#bf3984" fill-opacity="0.75"/>
<circle cx="230.6" cy="345.84" r="1.0" fill="#bf3984" fill-opacity="0.75"/>
<circle cx="244.5" cy="345.84" r="1.0" fill="#bf3984" fill-opacity="0.75"/>
<circle cx="258.4" cy="345.84" r="1.0" fill="#bf3984" fill-opacity="0.75"/>
<circle cx="272.3" cy="345.84" r="1.0" fill="#bf3984" fill-opacity="0.75"/>
<circle cx="286.2" cy="345.84" r="1.0" fill="#bf3984" fill-opacity="0.75"/>
<circle cx="300.1" cy="345.84" r="1.0" fill="#bf3984" fill-opacity="0.75"/>
<path d="M36,354.48 L49.9,345.84 L63.8,345.84 L77.7,345.84 L91.6,345.84 L105.5,345.84 L119.4,345.84 L133.3,345.84 L147.2,345.84 L161.1,345.84 L175,345.84 L188.9,345.84 L202.8,345.84 L216.7,345.84 L230.6,345.84 L244.5,345.84 L258.4,345.84 L272.3,345.84 L286.2,345.84 L300.1,345.84" fill="none" stroke="#a51f99" stroke-width="1.35" stroke-opacity="0.6" stroke-linejoin="round"/>
<circle cx="36" cy="354.48" r="1.0" fill="#a51f99" fill-opacity="0.75"/>
<circle cx="49.9" cy="345.84" r="1.0" fill="#a51f99" fill-opacity="0.75"/>
<circle cx="63.8" cy="345.84" r="1.0" fill="#a51f99" fill-opacity="0.75"/>
<circle cx="77.7" cy="345.84" r="1.0" fill="#a51f99" fill-opacity="0.75"/>
<circle cx="91.6" cy="345.84" r="1.0" fill="#a51f99" fill-opacity="0.75"/>
<circle cx="105.5" cy="345.84" r="1.0" fill="#a51f99" fill-opacity="0.75"/>
<circle cx="119.4" cy="345.84" r="1.0" fill="#a51f99" fill-opacity="0.75"/>
<circle cx="133.3" cy="345.84" r="1.0" fill="#a51f99" fill-opacity="0.75"/>
<circle cx="147.2" cy="345.84" r="1.0" fill="#a51f99" fill-opacity="0.75"/>
<circle cx="161.1" cy="345.84" r="1.0" fill="#a51f99" fill-opacity="0.75"/>
<circle cx="175" cy="345.84" r="1.0" fill="#a51f99" fill-opacity="0.75"/>
<circle cx="188.9" cy="345.84" r="1.0" fill="#a51f99" fill-opacity="0.75"/>
<circle cx="202.8" cy="345.84" r="1.0" fill="#a51f99" fill-opacity="0.75"/>
<circle cx="216.7" cy="345.84" r="1.0" fill="#a51f99" fill-opacity="0.75"/>
<circle cx="230.6" cy="345.84" r="1.0" fill="#a51f99" fill-opacity="0.75"/>
<circle cx="244.5" cy="345.84" r="1.0" fill="#a51f99" fill-opacity="0.75"/>
<circle cx="258.4" cy="345.84" r="1.0" fill="#a51f99" fill-opacity="0.75"/>
<circle cx="272.3" cy="345.84" r="1.0" fill="#a51f99" fill-opacity="0.75"/>
<circle cx="286.2" cy="345.84" r="1.0" fill="#a51f99" fill-opacity="0.75"/>
<circle cx="300.1" cy="345.84" r="1.0" fill="#a51f99" fill-opacity="0.75"/>
<path d="M36,353.04 L49.9,345.84 L63.8,345.84 L77.7,345.84 L91.6,345.84 L105.5,345.84 L119.4,345.84 L133.3,345.84 L147.2,345.84 L161.1,345.84 L175,345.84 L188.9,345.84 L202.8,345.84 L216.7,345.84 L230.6,345.84 L244.5,345.84 L258.4,345.84 L272.3,345.84 L286.2,345.84 L300.1,345.84" fill="none" stroke="#8606a6" stroke-width="1.35" stroke-opacity="0.6" stroke-linejoin="round"/>
<circle cx="36" cy="353.04" r="1.0" fill="#8606a6" fill-opacity="0.75"/>
<circle cx="49.9" cy="345.84" r="1.0" fill="#8606a6" fill-opacity="0.75"/>
<circle cx="63.8" cy="345.84" r="1.0" fill="#8606a6" fill-opacity="0.75"/>
<circle cx="77.7" cy="345.84" r="1.0" fill="#8606a6" fill-opacity="0.75"/>
<circle cx="91.6" cy="345.84" r="1.0" fill="#8606a6" fill-opacity="0.75"/>
<circle cx="105.5" cy="345.84" r="1.0" fill="#8606a6" fill-opacity="0.75"/>
<circle cx="119.4" cy="345.84" r="1.0" fill="#8606a6" fill-opacity="0.75"/>
<circle cx="133.3" cy="345.84" r="1.0" fill="#8606a6" fill-opacity="0.75"/>
<circle cx="147.2" cy="345.84" r="1.0" fill="#8606a6" fill-opacity="0.75"/>
<circle cx="161.1" cy="345.84" r="1.0" fill="#8606a6" fill-opacity="0.75"/>
<circle cx="175" cy="345.84" r="1.0" fill="#8606a6" fill-opacity="0.75"/>
<circle cx="188.9" cy="345.84" r="1.0" fill="#8606a6" fill-opacity="0.75"/>
<circle cx="202.8" cy="345.84" r="1.0" fill="#8606a6" fill-opacity="0.75"/>
<circle cx="216.7" cy="345.84" r="1.0" fill="#8606a6" fill-opacity="0.75"/>
<circle cx="230.6" cy="345.84" r="1.0" fill="#8606a6" fill-opacity="0.75"/>
<circle cx="244.5" cy="345.84" r="1.0" fill="#8606a6" fill-opacity="0.75"/>
<circle cx="258.4" cy="345.84" r="1.0" fill="#8606a6" fill-opacity="0.75"/>
<circle cx="272.3" cy="345.84" r="1.0" fill="#8606a6" fill-opacity="0.75"/>
<circle cx="286.2" cy="345.84" r="1.0" fill="#8606a6" fill-opacity="0.75"/>
<circle cx="300.1" cy="345.84" r="1.0" fill="#8606a6" fill-opacity="0.75"/>
<path d="M36,351.6 L49.9,345.84 L63.8,345.84 L77.7,345.84 L91.6,345.84 L105.5,345.84 L119.4,345.84 L133.3,345.84 L147.2,345.84 L161.1,345.84 L175,345.84 L188.9,345.84 L202.8,345.84 L216.7,345.84 L230.6,345.84 L244.5,345.84 L258.4,345.84 L272.3,345.84 L286.2,345.84 L300.1,345.84" fill="none" stroke="#6300a7" stroke-width="1.35" stroke-opacity="0.6" stroke-linejoin="round"/>
<circle cx="36" cy="351.6" r="1.0" fill="#6300a7" fill-opacity="0.75"/>
<circle cx="49.9" cy="345.84" r="1.0" fill="#6300a7" fill-opacity="0.75"/>
<circle cx="63.8" cy="345.84" r="1.0" fill="#6300a7" fill-opacity="0.75"/>
<circle cx="77.7" cy="345.84" r="1.0" fill="#6300a7" fill-opacity="0.75"/>
<circle cx="91.6" cy="345.84" r="1.0" fill="#6300a7" fill-opacity="0.75"/>
<circle cx="105.5" cy="345.84" r="1.0" fill="#6300a7" fill-opacity="0.75"/>
<circle cx="119.4" cy="345.84" r="1.0" fill="#6300a7" fill-opacity="0.75"/>
<circle cx="133.3" cy="345.84" r="1.0" fill="#6300a7" fill-opacity="0.75"/>
<circle cx="147.2" cy="345.84" r="1.0" fill="#6300a7" fill-opacity="0.75"/>
<circle cx="161.1" cy="345.84" r="1.0" fill="#6300a7" fill-opacity="0.75"/>
<circle cx="175" cy="345.84" r="1.0" fill="#6300a7" fill-opacity="0.75"/>
<circle cx="188.9" cy="345.84" r="1.0" fill="#6300a7" fill-opacity="0.75"/>
<circle cx="202.8" cy="345.84" r="1.0" fill="#6300a7" fill-opacity="0.75"/>
<circle cx="216.7" cy="345.84" r="1.0" fill="#6300a7" fill-opacity="0.75"/>
<circle cx="230.6" cy="345.84" r="1.0" fill="#6300a7" fill-opacity="0.75"/>
<circle cx="244.5" cy="345.84" r="1.0" fill="#6300a7" fill-opacity="0.75"/>
<circle cx="258.4" cy="345.84" r="1.0" fill="#6300a7" fill-opacity="0.75"/>
<circle cx="272.3" cy="345.84" r="1.0" fill="#6300a7" fill-opacity="0.75"/>
<circle cx="286.2" cy="345.84" r="1.0" fill="#6300a7" fill-opacity="0.75"/>
<circle cx="300.1" cy="345.84" r="1.0" fill="#6300a7" fill-opacity="0.75"/>
<path d="M36,350.16 L49.9,345.84 L63.8,345.84 L77.7,345.84 L91.6,345.84 L105.5,345.84 L119.4,345.84 L133.3,345.84 L147.2,345.84 L161.1,345.84 L175,345.84 L188.9,345.84 L202.8,345.84 L216.7,345.84 L230.6,345.84 L244.5,345.84 L258.4,345.84 L272.3,345.84 L286.2,345.84 L300.1,345.84" fill="none" stroke="#3e049c" stroke-width="1.35" stroke-opacity="0.6" stroke-linejoin="round"/>
<circle cx="36" cy="350.16" r="1.0" fill="#3e049c" fill-opacity="0.75"/>
<circle cx="49.9" cy="345.84" r="1.0" fill="#3e049c" fill-opacity="0.75"/>
<circle cx="63.8" cy="345.84" r="1.0" fill="#3e049c" fill-opacity="0.75"/>
<circle cx="77.7" cy="345.84" r="1.0" fill="#3e049c" fill-opacity="0.75"/>
<circle cx="91.6" cy="345.84" r="1.0" fill="#3e049c" fill-opacity="0.75"/>
<circle cx="105.5" cy="345.84" r="1.0" fill="#3e049c" fill-opacity="0.75"/>
<circle cx="119.4" cy="345.84" r="1.0" fill="#3e049c" fill-opacity="0.75"/>
<circle cx="133.3" cy="345.84" r="1.0" fill="#3e049c" fill-opacity="0.75"/>
<circle cx="147.2" cy="345.84" r="1.0" fill="#3e049c" fill-opacity="0.75"/>
<circle cx="161.1" cy="345.84" r="1.0" fill="#3e049c" fill-opacity="0.75"/>
<circle cx="175" cy="345.84" r="1.0" fill="#3e049c" fill-opacity="0.75"/>
<circle cx="188.9" cy="345.84" r="1.0" fill="#3e049c" fill-opacity="0.75"/>
<circle cx="202.8" cy="345.84" r="1.0" fill="#3e049c" fill-opacity="0.75"/>
<circle cx="216.7" cy="345.84" r="1.0" fill="#3e049c" fill-opacity="0.75"/>
<circle cx="230.6" cy="345.84" r="1.0" fill="#3e049c" fill-opacity="0.75"/>
<circle cx="244.5" cy="345.84" r="1.0" fill="#3e049c" fill-opacity="0.75"/>
<circle cx="258.4" cy="345.84" r="1.0" fill="#3e049c" fill-opacity="0.75"/>
<circle cx="272.3" cy="345.84" r="1.0" fill="#3e049c" fill-opacity="0.75"/>
<circle cx="286.2" cy="345.84" r="1.0" fill="#3e049c" fill-opacity="0.75"/>
<circle cx="300.1" cy="345.84" r="1.0" fill="#3e049c" fill-opacity="0.75"/>
<path d="M36,348.72 L49.9,345.84 L63.8,345.84 L77.7,345.84 L91.6,345.84 L105.5,345.84 L119.4,345.84 L133.3,345.84 L147.2,345.84 L161.1,345.84 L175,345.84 L188.9,345.84 L202.8,345.84 L216.7,345.84 L230.6,345.84 L244.5,345.84 L258.4,345.84 L272.3,345.84 L286.2,345.84 L300.1,345.84" fill="none" stroke="#0d0887" stroke-width="1.5" stroke-opacity="0.6" stroke-linejoin="round"/>
<circle cx="36" cy="348.72" r="1.0" fill="#0d0887" fill-opacity="0.75"/>
<circle cx="49.9" cy="345.84" r="1.0" fill="#0d0887" fill-opacity="0.75"/>
<circle cx="63.8" cy="345.84" r="1.0" fill="#0d0887" fill-opacity="0.75"/>
<circle cx="77.7" cy="345.84" r="1.0" fill="#0d0887" fill-opacity="0.75"/>
<circle cx="91.6" cy="345.84" r="1.0" fill="#0d0887" fill-opacity="0.75"/>
<circle cx="105.5" cy="345.84" r="1.0" fill="#0d0887" fill-opacity="0.75"/>
<circle cx="119.4" cy="345.84" r="1.0" fill="#0d0887" fill-opacity="0.75"/>
<circle cx="133.3" cy="345.84" r="1.0" fill="#0d0887" fill-opacity="0.75"/>
<circle cx="147.2" cy="345.84" r="1.0" fill="#0d0887" fill-opacity="0.75"/>
<circle cx="161.1" cy="345.84" r="1.0" fill="#0d0887" fill-opacity="0.75"/>
<circle cx="175" cy="345.84" r="1.0" fill="#0d0887" fill-opacity="0.75"/>
<circle cx="188.9" cy="345.84" r="1.0" fill="#0d0887" fill-opacity="0.75"/>
<circle cx="202.8" cy="345.84" r="1.0" fill="#0d0887" fill-opacity="0.75"/>
<circle cx="216.7" cy="345.84" r="1.0" fill="#0d0887" fill-opacity="0.75"/>
<circle cx="230.6" cy="345.84" r="1.0" fill="#0d0887" fill-opacity="0.75"/>
<circle cx="244.5" cy="345.84" r="1.0" fill="#0d0887" fill-opacity="0.75"/>
<circle cx="258.4" cy="345.84" r="1.0" fill="#0d0887" fill-opacity="0.75"/>
<circle cx="272.3" cy="345.84" r="1.0" fill="#0d0887" fill-opacity="0.75"/>
<circle cx="286.2" cy="345.84" r="1.0" fill="#0d0887" fill-opacity="0.75"/>
<circle cx="300.1" cy="345.84" r="1.0" fill="#0d0887" fill-opacity="0.75"/>
<path d="M333.3,295V367.8H632" fill="none" stroke="#777" stroke-width="0.9"/>
<path d="M331.3,352.5H333.3" stroke="#777" stroke-width="0.8"/>
<text x="330.1" y="352.8" font-size="7.3" text-anchor="end" dominant-baseline="central" fill="#000" stroke="#000" stroke-width="0.12" transform="translate(0,0) scale(1.0,1)">60</text>
<path d="M331.3,336.1H333.3" stroke="#777" stroke-width="0.8"/>
<text x="330.1" y="336.4" font-size="7.3" text-anchor="end" dominant-baseline="central" fill="#000" stroke="#000" stroke-width="0.12" transform="translate(0,0) scale(1.0,1)">70</text>
<path d="M331.3,319.7H333.3" stroke="#777" stroke-width="0.8"/>
<text x="330.1" y="320" font-size="7.3" text-anchor="end" dominant-baseline="central" fill="#000" stroke="#000" stroke-width="0.12" transform="translate(0,0) scale(1.0,1)">80</text>
<path d="M331.3,303.3H333.3" stroke="#777" stroke-width="0.8"/>
<text x="330.1" y="303.6" font-size="7.3" text-anchor="end" dominant-baseline="central" fill="#000" stroke="#000" stroke-width="0.12" transform="translate(0,0) scale(1.0,1)">90</text>
<path d="M347,367.8V369.6" stroke="#777" stroke-width="0.8"/>
<text x="347" y="376.4" font-size="7.3" text-anchor="middle" fill="#000" stroke="#000" stroke-width="0.12">0</text>
<path d="M375.7,367.8V369.6" stroke="#777" stroke-width="0.8"/>
<text x="375.7" y="376.4" font-size="7.3" text-anchor="middle" fill="#000" stroke="#000" stroke-width="0.12">2</text>
<path d="M404.4,367.8V369.6" stroke="#777" stroke-width="0.8"/>
<text x="404.4" y="376.4" font-size="7.3" text-anchor="middle" fill="#000" stroke="#000" stroke-width="0.12">4</text>
<path d="M433.1,367.8V369.6" stroke="#777" stroke-width="0.8"/>
<text x="433.1" y="376.4" font-size="7.3" text-anchor="middle" fill="#000" stroke="#000" stroke-width="0.12">6</text>
<path d="M461.8,367.8V369.6" stroke="#777" stroke-width="0.8"/>
<text x="461.8" y="376.4" font-size="7.3" text-anchor="middle" fill="#000" stroke="#000" stroke-width="0.12">8</text>
<path d="M490.5,367.8V369.6" stroke="#777" stroke-width="0.8"/>
<text x="490.5" y="376.4" font-size="7.3" text-anchor="middle" fill="#000" stroke="#000" stroke-width="0.12">10</text>
<path d="M519.2,367.8V369.6" stroke="#777" stroke-width="0.8"/>
<text x="519.2" y="376.4" font-size="7.3" text-anchor="middle" fill="#000" stroke="#000" stroke-width="0.12">12</text>
<path d="M547.9,367.8V369.6" stroke="#777" stroke-width="0.8"/>
<text x="547.9" y="376.4" font-size="7.3" text-anchor="middle" fill="#000" stroke="#000" stroke-width="0.12">14</text>
<path d="M576.6,367.8V369.6" stroke="#777" stroke-width="0.8"/>
<text x="576.6" y="376.4" font-size="7.3" text-anchor="middle" fill="#000" stroke="#000" stroke-width="0.12">16</text>
<path d="M605.3,367.8V369.6" stroke="#777" stroke-width="0.8"/>
<text x="605.3" y="376.4" font-size="7.3" text-anchor="middle" fill="#000" stroke="#000" stroke-width="0.12">18</text>
<path d="M347,352.34 L361.35,346.1 L375.7,344.63 L390.05,344.3 L404.4,343.97 L418.75,343.97 L433.1,343.97 L447.45,343.97 L461.8,343.97 L476.15,343.97 L490.5,343.97 L504.85,343.97 L519.2,343.97 L533.55,343.97 L547.9,343.97 L562.25,343.97 L576.6,343.97 L590.95,343.97 L605.3,343.97 L619.65,343.97 L619.65,347.25 L605.3,347.25 L590.95,347.25 L576.6,347.25 L562.25,347.25 L547.9,347.25 L533.55,347.25 L519.2,347.25 L504.85,347.25 L490.5,347.25 L476.15,347.25 L461.8,347.25 L447.45,347.25 L433.1,347.25 L418.75,347.25 L404.4,347.25 L390.05,347.58 L375.7,347.91 L361.35,349.06 L347,354.3Z" fill="#fdc860" fill-opacity="0.5"/>
<rect x="374.9" y="344.96" width="1.6" height="2.62" fill="#fca636" fill-opacity="0.8"/>
<rect x="389.25" y="344.63" width="1.6" height="2.62" fill="#fca636" fill-opacity="0.8"/>
<rect x="403.6" y="344.3" width="1.6" height="2.62" fill="#fca636" fill-opacity="0.8"/>
<rect x="417.95" y="344.3" width="1.6" height="2.62" fill="#fca636" fill-opacity="0.8"/>
<rect x="432.3" y="344.3" width="1.6" height="2.62" fill="#fca636" fill-opacity="0.8"/>
<rect x="446.65" y="344.3" width="1.6" height="2.62" fill="#fca636" fill-opacity="0.8"/>
<rect x="461" y="344.3" width="1.6" height="2.62" fill="#fca636" fill-opacity="0.8"/>
<rect x="475.35" y="344.3" width="1.6" height="2.62" fill="#fca636" fill-opacity="0.8"/>
<rect x="489.7" y="344.3" width="1.6" height="2.62" fill="#fca636" fill-opacity="0.8"/>
<rect x="504.05" y="344.3" width="1.6" height="2.62" fill="#fca636" fill-opacity="0.8"/>
<rect x="518.4" y="344.3" width="1.6" height="2.62" fill="#fca636" fill-opacity="0.8"/>
<rect x="532.75" y="344.3" width="1.6" height="2.62" fill="#fca636" fill-opacity="0.8"/>
<rect x="547.1" y="344.3" width="1.6" height="2.62" fill="#fca636" fill-opacity="0.8"/>
<rect x="561.45" y="344.3" width="1.6" height="2.62" fill="#fca636" fill-opacity="0.8"/>
<rect x="575.8" y="344.3" width="1.6" height="2.62" fill="#fca636" fill-opacity="0.8"/>
<rect x="590.15" y="344.3" width="1.6" height="2.62" fill="#fca636" fill-opacity="0.8"/>
<rect x="604.5" y="344.3" width="1.6" height="2.62" fill="#fca636" fill-opacity="0.8"/>
<rect x="618.85" y="344.3" width="1.6" height="2.62" fill="#fca636" fill-opacity="0.8"/>
<path d="M347,364.31 L361.35,347.58 L375.7,346.76 L390.05,346.6 L404.4,346.27 L418.75,346.27 L433.1,345.94 L447.45,345.94 L461.8,345.94 L476.15,346.92 L490.5,347.91 L504.85,347.91 L519.2,345.94 L533.55,345.94 L547.9,345.94 L562.25,347.91 L576.6,345.94 L590.95,345.94 L605.3,345.94 L619.65,345.94" fill="none" stroke="#fcce25" stroke-width="1.3" stroke-opacity="0.55" stroke-linejoin="round"/>
<circle cx="347" cy="364.31" r="1.0" fill="#fcce25" fill-opacity="0.7000000000000001"/>
<circle cx="361.35" cy="347.58" r="1.0" fill="#fcce25" fill-opacity="0.7000000000000001"/>
<circle cx="375.7" cy="346.76" r="1.0" fill="#fcce25" fill-opacity="0.7000000000000001"/>
<circle cx="390.05" cy="346.6" r="1.0" fill="#fcce25" fill-opacity="0.7000000000000001"/>
<circle cx="404.4" cy="346.27" r="1.0" fill="#fcce25" fill-opacity="0.7000000000000001"/>
<circle cx="418.75" cy="346.27" r="1.0" fill="#fcce25" fill-opacity="0.7000000000000001"/>
<circle cx="433.1" cy="345.94" r="1.0" fill="#fcce25" fill-opacity="0.7000000000000001"/>
<circle cx="447.45" cy="345.94" r="1.0" fill="#fcce25" fill-opacity="0.7000000000000001"/>
<circle cx="461.8" cy="345.94" r="1.0" fill="#fcce25" fill-opacity="0.7000000000000001"/>
<circle cx="476.15" cy="346.92" r="1.0" fill="#fcce25" fill-opacity="0.7000000000000001"/>
<circle cx="490.5" cy="347.91" r="1.0" fill="#fcce25" fill-opacity="0.7000000000000001"/>
<circle cx="504.85" cy="347.91" r="1.0" fill="#fcce25" fill-opacity="0.7000000000000001"/>
<circle cx="519.2" cy="345.94" r="1.0" fill="#fcce25" fill-opacity="0.7000000000000001"/>
<circle cx="533.55" cy="345.94" r="1.0" fill="#fcce25" fill-opacity="0.7000000000000001"/>
<circle cx="547.9" cy="345.94" r="1.0" fill="#fcce25" fill-opacity="0.7000000000000001"/>
<circle cx="562.25" cy="347.91" r="1.0" fill="#fcce25" fill-opacity="0.7000000000000001"/>
<circle cx="576.6" cy="345.94" r="1.0" fill="#fcce25" fill-opacity="0.7000000000000001"/>
<circle cx="590.95" cy="345.94" r="1.0" fill="#fcce25" fill-opacity="0.7000000000000001"/>
<circle cx="605.3" cy="345.94" r="1.0" fill="#fcce25" fill-opacity="0.7000000000000001"/>
<circle cx="619.65" cy="345.94" r="1.0" fill="#fcce25" fill-opacity="0.7000000000000001"/>
<path d="M347,353.32 L361.35,347.58 L375.7,346.27 L390.05,345.45 L404.4,344.96 L418.75,344.63 L433.1,344.63 L447.45,344.63 L461.8,344.63 L476.15,344.63 L490.5,344.63 L504.85,344.63 L519.2,344.63 L533.55,344.63 L547.9,344.63 L562.25,344.63 L576.6,344.63 L590.95,344.63 L605.3,344.63 L619.65,344.63" fill="none" stroke="#fdab33" stroke-width="1.3" stroke-opacity="0.6" stroke-linejoin="round"/>
<circle cx="347" cy="353.32" r="1.0" fill="#fdab33" fill-opacity="0.75"/>
<circle cx="361.35" cy="347.58" r="1.0" fill="#fdab33" fill-opacity="0.75"/>
<circle cx="375.7" cy="346.27" r="1.0" fill="#fdab33" fill-opacity="0.75"/>
<circle cx="390.05" cy="345.45" r="1.0" fill="#fdab33" fill-opacity="0.75"/>
<circle cx="404.4" cy="344.96" r="1.0" fill="#fdab33" fill-opacity="0.75"/>
<circle cx="418.75" cy="344.63" r="1.0" fill="#fdab33" fill-opacity="0.75"/>
<circle cx="433.1" cy="344.63" r="1.0" fill="#fdab33" fill-opacity="0.75"/>
<circle cx="447.45" cy="344.63" r="1.0" fill="#fdab33" fill-opacity="0.75"/>
<circle cx="461.8" cy="344.63" r="1.0" fill="#fdab33" fill-opacity="0.75"/>
<circle cx="476.15" cy="344.63" r="1.0" fill="#fdab33" fill-opacity="0.75"/>
<circle cx="490.5" cy="344.63" r="1.0" fill="#fdab33" fill-opacity="0.75"/>
<circle cx="504.85" cy="344.63" r="1.0" fill="#fdab33" fill-opacity="0.75"/>
<circle cx="519.2" cy="344.63" r="1.0" fill="#fdab33" fill-opacity="0.75"/>
<circle cx="533.55" cy="344.63" r="1.0" fill="#fdab33" fill-opacity="0.75"/>
<circle cx="547.9" cy="344.63" r="1.0" fill="#fdab33" fill-opacity="0.75"/>
<circle cx="562.25" cy="344.63" r="1.0" fill="#fdab33" fill-opacity="0.75"/>
<circle cx="576.6" cy="344.63" r="1.0" fill="#fdab33" fill-opacity="0.75"/>
<circle cx="590.95" cy="344.63" r="1.0" fill="#fdab33" fill-opacity="0.75"/>
<circle cx="605.3" cy="344.63" r="1.0" fill="#fdab33" fill-opacity="0.75"/>
<circle cx="619.65" cy="344.63" r="1.0" fill="#fdab33" fill-opacity="0.75"/>
<path d="M347,354.14 L361.35,346.76 L375.7,321.34 L390.05,303.3 L404.4,302.48 L418.75,301.66 L433.1,301.66 L447.45,301.66 L461.8,301.66 L476.15,301.66 L490.5,301.66 L504.85,301.66 L519.2,301.66 L533.55,301.66 L547.9,301.66 L562.25,301.66 L576.6,301.66 L590.95,301.66 L605.3,301.66 L619.65,301.66" fill="none" stroke="#f58b47" stroke-width="1.35" stroke-opacity="0.6" stroke-linejoin="round"/>
<circle cx="347" cy="354.14" r="1.0" fill="#f58b47" fill-opacity="0.75"/>
<circle cx="361.35" cy="346.76" r="1.0" fill="#f58b47" fill-opacity="0.75"/>
<circle cx="375.7" cy="321.34" r="1.0" fill="#f58b47" fill-opacity="0.75"/>
<circle cx="390.05" cy="303.3" r="1.0" fill="#f58b47" fill-opacity="0.75"/>
<circle cx="404.4" cy="302.48" r="1.0" fill="#f58b47" fill-opacity="0.75"/>
<circle cx="418.75" cy="301.66" r="1.0" fill="#f58b47" fill-opacity="0.75"/>
<circle cx="433.1" cy="301.66" r="1.0" fill="#f58b47" fill-opacity="0.75"/>
<circle cx="447.45" cy="301.66" r="1.0" fill="#f58b47" fill-opacity="0.75"/>
<circle cx="461.8" cy="301.66" r="1.0" fill="#f58b47" fill-opacity="0.75"/>
<circle cx="476.15" cy="301.66" r="1.0" fill="#f58b47" fill-opacity="0.75"/>
<circle cx="490.5" cy="301.66" r="1.0" fill="#f58b47" fill-opacity="0.75"/>
<circle cx="504.85" cy="301.66" r="1.0" fill="#f58b47" fill-opacity="0.75"/>
<circle cx="519.2" cy="301.66" r="1.0" fill="#f58b47" fill-opacity="0.75"/>
<circle cx="533.55" cy="301.66" r="1.0" fill="#f58b47" fill-opacity="0.75"/>
<circle cx="547.9" cy="301.66" r="1.0" fill="#f58b47" fill-opacity="0.75"/>
<circle cx="562.25" cy="301.66" r="1.0" fill="#f58b47" fill-opacity="0.75"/>
<circle cx="576.6" cy="301.66" r="1.0" fill="#f58b47" fill-opacity="0.75"/>
<circle cx="590.95" cy="301.66" r="1.0" fill="#f58b47" fill-opacity="0.75"/>
<circle cx="605.3" cy="301.66" r="1.0" fill="#f58b47" fill-opacity="0.75"/>
<circle cx="619.65" cy="301.66" r="1.0" fill="#f58b47" fill-opacity="0.75"/>
<path d="M347,352.5 L361.35,322.98 L375.7,300.02 L390.05,299.2 L404.4,299.2 L418.75,299.2 L433.1,299.2 L447.45,299.2 L461.8,299.2 L476.15,299.2 L490.5,299.2 L504.85,299.2 L519.2,299.2 L533.55,299.2 L547.9,299.2 L562.25,299.2 L576.6,299.2 L590.95,299.2 L605.3,299.2 L619.65,299.2" fill="none" stroke="#e76e5b" stroke-width="1.35" stroke-opacity="0.6" stroke-linejoin="round"/>
<circle cx="347" cy="352.5" r="1.0" fill="#e76e5b" fill-opacity="0.75"/>
<circle cx="361.35" cy="322.98" r="1.0" fill="#e76e5b" fill-opacity="0.75"/>
<circle cx="375.7" cy="300.02" r="1.0" fill="#e76e5b" fill-opacity="0.75"/>
<circle cx="390.05" cy="299.2" r="1.0" fill="#e76e5b" fill-opacity="0.75"/>
<circle cx="404.4" cy="299.2" r="1.0" fill="#e76e5b" fill-opacity="0.75"/>
<circle cx="418.75" cy="299.2" r="1.0" fill="#e76e5b" fill-opacity="0.75"/>
<circle cx="433.1" cy="299.2" r="1.0" fill="#e76e5b" fill-opacity="0.75"/>
<circle cx="447.45" cy="299.2" r="1.0" fill="#e76e5b" fill-opacity="0.75"/>
<circle cx="461.8" cy="299.2" r="1.0" fill="#e76e5b" fill-opacity="0.75"/>
<circle cx="476.15" cy="299.2" r="1.0" fill="#e76e5b" fill-opacity="0.75"/>
<circle cx="490.5" cy="299.2" r="1.0" fill="#e76e5b" fill-opacity="0.75"/>
<circle cx="504.85" cy="299.2" r="1.0" fill="#e76e5b" fill-opacity="0.75"/>
<circle cx="519.2" cy="299.2" r="1.0" fill="#e76e5b" fill-opacity="0.75"/>
<circle cx="533.55" cy="299.2" r="1.0" fill="#e76e5b" fill-opacity="0.75"/>
<circle cx="547.9" cy="299.2" r="1.0" fill="#e76e5b" fill-opacity="0.75"/>
<circle cx="562.25" cy="299.2" r="1.0" fill="#e76e5b" fill-opacity="0.75"/>
<circle cx="576.6" cy="299.2" r="1.0" fill="#e76e5b" fill-opacity="0.75"/>
<circle cx="590.95" cy="299.2" r="1.0" fill="#e76e5b" fill-opacity="0.75"/>
<circle cx="605.3" cy="299.2" r="1.0" fill="#e76e5b" fill-opacity="0.75"/>
<circle cx="619.65" cy="299.2" r="1.0" fill="#e76e5b" fill-opacity="0.75"/>
<path d="M347,350.86 L361.35,308.22 L375.7,299.2 L390.05,298.71 L404.4,298.71 L418.75,298.71 L433.1,298.71 L447.45,298.71 L461.8,298.71 L476.15,298.71 L490.5,298.71 L504.85,298.71 L519.2,298.71 L533.55,298.71 L547.9,298.71 L562.25,298.71 L576.6,298.71 L590.95,298.71 L605.3,298.71 L619.65,298.71" fill="none" stroke="#d5536f" stroke-width="1.35" stroke-opacity="0.6" stroke-linejoin="round"/>
<circle cx="347" cy="350.86" r="1.0" fill="#d5536f" fill-opacity="0.75"/>
<circle cx="361.35" cy="308.22" r="1.0" fill="#d5536f" fill-opacity="0.75"/>
<circle cx="375.7" cy="299.2" r="1.0" fill="#d5536f" fill-opacity="0.75"/>
<circle cx="390.05" cy="298.71" r="1.0" fill="#d5536f" fill-opacity="0.75"/>
<circle cx="404.4" cy="298.71" r="1.0" fill="#d5536f" fill-opacity="0.75"/>
<circle cx="418.75" cy="298.71" r="1.0" fill="#d5536f" fill-opacity="0.75"/>
<circle cx="433.1" cy="298.71" r="1.0" fill="#d5536f" fill-opacity="0.75"/>
<circle cx="447.45" cy="298.71" r="1.0" fill="#d5536f" fill-opacity="0.75"/>
<circle cx="461.8" cy="298.71" r="1.0" fill="#d5536f" fill-opacity="0.75"/>
<circle cx="476.15" cy="298.71" r="1.0" fill="#d5536f" fill-opacity="0.75"/>
<circle cx="490.5" cy="298.71" r="1.0" fill="#d5536f" fill-opacity="0.75"/>
<circle cx="504.85" cy="298.71" r="1.0" fill="#d5536f" fill-opacity="0.75"/>
<circle cx="519.2" cy="298.71" r="1.0" fill="#d5536f" fill-opacity="0.75"/>
<circle cx="533.55" cy="298.71" r="1.0" fill="#d5536f" fill-opacity="0.75"/>
<circle cx="547.9" cy="298.71" r="1.0" fill="#d5536f" fill-opacity="0.75"/>
<circle cx="562.25" cy="298.71" r="1.0" fill="#d5536f" fill-opacity="0.75"/>
<circle cx="576.6" cy="298.71" r="1.0" fill="#d5536f" fill-opacity="0.75"/>
<circle cx="590.95" cy="298.71" r="1.0" fill="#d5536f" fill-opacity="0.75"/>
<circle cx="605.3" cy="298.71" r="1.0" fill="#d5536f" fill-opacity="0.75"/>
<circle cx="619.65" cy="298.71" r="1.0" fill="#d5536f" fill-opacity="0.75"/>
<path d="M347,349.22 L361.35,304.94 L375.7,297.89 L390.05,297.89 L404.4,297.89 L418.75,297.89 L433.1,297.89 L447.45,297.89 L461.8,297.89 L476.15,297.89 L490.5,297.89 L504.85,297.89 L519.2,297.89 L533.55,297.89 L547.9,297.89 L562.25,297.89 L576.6,297.89 L590.95,297.89 L605.3,297.89 L619.65,297.89" fill="none" stroke="#bf3984" stroke-width="1.35" stroke-opacity="0.6" stroke-linejoin="round"/>
<circle cx="347" cy="349.22" r="1.0" fill="#bf3984" fill-opacity="0.75"/>
<circle cx="361.35" cy="304.94" r="1.0" fill="#bf3984" fill-opacity="0.75"/>
<circle cx="375.7" cy="297.89" r="1.0" fill="#bf3984" fill-opacity="0.75"/>
<circle cx="390.05" cy="297.89" r="1.0" fill="#bf3984" fill-opacity="0.75"/>
<circle cx="404.4" cy="297.89" r="1.0" fill="#bf3984" fill-opacity="0.75"/>
<circle cx="418.75" cy="297.89" r="1.0" fill="#bf3984" fill-opacity="0.75"/>
<circle cx="433.1" cy="297.89" r="1.0" fill="#bf3984" fill-opacity="0.75"/>
<circle cx="447.45" cy="297.89" r="1.0" fill="#bf3984" fill-opacity="0.75"/>
<circle cx="461.8" cy="297.89" r="1.0" fill="#bf3984" fill-opacity="0.75"/>
<circle cx="476.15" cy="297.89" r="1.0" fill="#bf3984" fill-opacity="0.75"/>
<circle cx="490.5" cy="297.89" r="1.0" fill="#bf3984" fill-opacity="0.75"/>
<circle cx="504.85" cy="297.89" r="1.0" fill="#bf3984" fill-opacity="0.75"/>
<circle cx="519.2" cy="297.89" r="1.0" fill="#bf3984" fill-opacity="0.75"/>
<circle cx="533.55" cy="297.89" r="1.0" fill="#bf3984" fill-opacity="0.75"/>
<circle cx="547.9" cy="297.89" r="1.0" fill="#bf3984" fill-opacity="0.75"/>
<circle cx="562.25" cy="297.89" r="1.0" fill="#bf3984" fill-opacity="0.75"/>
<circle cx="576.6" cy="297.89" r="1.0" fill="#bf3984" fill-opacity="0.75"/>
<circle cx="590.95" cy="297.89" r="1.0" fill="#bf3984" fill-opacity="0.75"/>
<circle cx="605.3" cy="297.89" r="1.0" fill="#bf3984" fill-opacity="0.75"/>
<circle cx="619.65" cy="297.89" r="1.0" fill="#bf3984" fill-opacity="0.75"/>
<path d="M347,347.58 L361.35,303.3 L375.7,297.89 L390.05,297.89 L404.4,297.89 L418.75,297.89 L433.1,297.89 L447.45,297.89 L461.8,297.89 L476.15,297.89 L490.5,297.89 L504.85,297.89 L519.2,297.89 L533.55,297.89 L547.9,297.89 L562.25,297.89 L576.6,297.89 L590.95,297.89 L605.3,297.89 L619.65,297.89" fill="none" stroke="#a51f99" stroke-width="1.35" stroke-opacity="0.6" stroke-linejoin="round"/>
<circle cx="347" cy="347.58" r="1.0" fill="#a51f99" fill-opacity="0.75"/>
<circle cx="361.35" cy="303.3" r="1.0" fill="#a51f99" fill-opacity="0.75"/>
<circle cx="375.7" cy="297.89" r="1.0" fill="#a51f99" fill-opacity="0.75"/>
<circle cx="390.05" cy="297.89" r="1.0" fill="#a51f99" fill-opacity="0.75"/>
<circle cx="404.4" cy="297.89" r="1.0" fill="#a51f99" fill-opacity="0.75"/>
<circle cx="418.75" cy="297.89" r="1.0" fill="#a51f99" fill-opacity="0.75"/>
<circle cx="433.1" cy="297.89" r="1.0" fill="#a51f99" fill-opacity="0.75"/>
<circle cx="447.45" cy="297.89" r="1.0" fill="#a51f99" fill-opacity="0.75"/>
<circle cx="461.8" cy="297.89" r="1.0" fill="#a51f99" fill-opacity="0.75"/>
<circle cx="476.15" cy="297.89" r="1.0" fill="#a51f99" fill-opacity="0.75"/>
<circle cx="490.5" cy="297.89" r="1.0" fill="#a51f99" fill-opacity="0.75"/>
<circle cx="504.85" cy="297.89" r="1.0" fill="#a51f99" fill-opacity="0.75"/>
<circle cx="519.2" cy="297.89" r="1.0" fill="#a51f99" fill-opacity="0.75"/>
<circle cx="533.55" cy="297.89" r="1.0" fill="#a51f99" fill-opacity="0.75"/>
<circle cx="547.9" cy="297.89" r="1.0" fill="#a51f99" fill-opacity="0.75"/>
<circle cx="562.25" cy="297.89" r="1.0" fill="#a51f99" fill-opacity="0.75"/>
<circle cx="576.6" cy="297.89" r="1.0" fill="#a51f99" fill-opacity="0.75"/>
<circle cx="590.95" cy="297.89" r="1.0" fill="#a51f99" fill-opacity="0.75"/>
<circle cx="605.3" cy="297.89" r="1.0" fill="#a51f99" fill-opacity="0.75"/>
<circle cx="619.65" cy="297.89" r="1.0" fill="#a51f99" fill-opacity="0.75"/>
<path d="M347,345.94 L361.35,301.66 L375.7,297.89 L390.05,297.89 L404.4,297.89 L418.75,297.89 L433.1,297.89 L447.45,297.89 L461.8,297.89 L476.15,297.89 L490.5,297.89 L504.85,297.89 L519.2,297.89 L533.55,297.89 L547.9,297.89 L562.25,297.89 L576.6,297.89 L590.95,297.89 L605.3,297.89 L619.65,297.89" fill="none" stroke="#8606a6" stroke-width="1.35" stroke-opacity="0.6" stroke-linejoin="round"/>
<circle cx="347" cy="345.94" r="1.0" fill="#8606a6" fill-opacity="0.75"/>
<circle cx="361.35" cy="301.66" r="1.0" fill="#8606a6" fill-opacity="0.75"/>
<circle cx="375.7" cy="297.89" r="1.0" fill="#8606a6" fill-opacity="0.75"/>
<circle cx="390.05" cy="297.89" r="1.0" fill="#8606a6" fill-opacity="0.75"/>
<circle cx="404.4" cy="297.89" r="1.0" fill="#8606a6" fill-opacity="0.75"/>
<circle cx="418.75" cy="297.89" r="1.0" fill="#8606a6" fill-opacity="0.75"/>
<circle cx="433.1" cy="297.89" r="1.0" fill="#8606a6" fill-opacity="0.75"/>
<circle cx="447.45" cy="297.89" r="1.0" fill="#8606a6" fill-opacity="0.75"/>
<circle cx="461.8" cy="297.89" r="1.0" fill="#8606a6" fill-opacity="0.75"/>
<circle cx="476.15" cy="297.89" r="1.0" fill="#8606a6" fill-opacity="0.75"/>
<circle cx="490.5" cy="297.89" r="1.0" fill="#8606a6" fill-opacity="0.75"/>
<circle cx="504.85" cy="297.89" r="1.0" fill="#8606a6" fill-opacity="0.75"/>
<circle cx="519.2" cy="297.89" r="1.0" fill="#8606a6" fill-opacity="0.75"/>
<circle cx="533.55" cy="297.89" r="1.0" fill="#8606a6" fill-opacity="0.75"/>
<circle cx="547.9" cy="297.89" r="1.0" fill="#8606a6" fill-opacity="0.75"/>
<circle cx="562.25" cy="297.89" r="1.0" fill="#8606a6" fill-opacity="0.75"/>
<circle cx="576.6" cy="297.89" r="1.0" fill="#8606a6" fill-opacity="0.75"/>
<circle cx="590.95" cy="297.89" r="1.0" fill="#8606a6" fill-opacity="0.75"/>
<circle cx="605.3" cy="297.89" r="1.0" fill="#8606a6" fill-opacity="0.75"/>
<circle cx="619.65" cy="297.89" r="1.0" fill="#8606a6" fill-opacity="0.75"/>
<path d="M347,344.3 L361.35,300.02 L375.7,297.89 L390.05,297.89 L404.4,297.89 L418.75,297.89 L433.1,297.89 L447.45,297.89 L461.8,297.89 L476.15,297.89 L490.5,297.89 L504.85,297.89 L519.2,297.89 L533.55,297.89 L547.9,297.89 L562.25,297.89 L576.6,297.89 L590.95,297.89 L605.3,297.89 L619.65,297.89" fill="none" stroke="#6300a7" stroke-width="1.35" stroke-opacity="0.6" stroke-linejoin="round"/>
<circle cx="347" cy="344.3" r="1.0" fill="#6300a7" fill-opacity="0.75"/>
<circle cx="361.35" cy="300.02" r="1.0" fill="#6300a7" fill-opacity="0.75"/>
<circle cx="375.7" cy="297.89" r="1.0" fill="#6300a7" fill-opacity="0.75"/>
<circle cx="390.05" cy="297.89" r="1.0" fill="#6300a7" fill-opacity="0.75"/>
<circle cx="404.4" cy="297.89" r="1.0" fill="#6300a7" fill-opacity="0.75"/>
<circle cx="418.75" cy="297.89" r="1.0" fill="#6300a7" fill-opacity="0.75"/>
<circle cx="433.1" cy="297.89" r="1.0" fill="#6300a7" fill-opacity="0.75"/>
<circle cx="447.45" cy="297.89" r="1.0" fill="#6300a7" fill-opacity="0.75"/>
<circle cx="461.8" cy="297.89" r="1.0" fill="#6300a7" fill-opacity="0.75"/>
<circle cx="476.15" cy="297.89" r="1.0" fill="#6300a7" fill-opacity="0.75"/>
<circle cx="490.5" cy="297.89" r="1.0" fill="#6300a7" fill-opacity="0.75"/>
<circle cx="504.85" cy="297.89" r="1.0" fill="#6300a7" fill-opacity="0.75"/>
<circle cx="519.2" cy="297.89" r="1.0" fill="#6300a7" fill-opacity="0.75"/>
<circle cx="533.55" cy="297.89" r="1.0" fill="#6300a7" fill-opacity="0.75"/>
<circle cx="547.9" cy="297.89" r="1.0" fill="#6300a7" fill-opacity="0.75"/>
<circle cx="562.25" cy="297.89" r="1.0" fill="#6300a7" fill-opacity="0.75"/>
<circle cx="576.6" cy="297.89" r="1.0" fill="#6300a7" fill-opacity="0.75"/>
<circle cx="590.95" cy="297.89" r="1.0" fill="#6300a7" fill-opacity="0.75"/>
<circle cx="605.3" cy="297.89" r="1.0" fill="#6300a7" fill-opacity="0.75"/>
<circle cx="619.65" cy="297.89" r="1.0" fill="#6300a7" fill-opacity="0.75"/>
<path d="M347,316.42 L361.35,297.89 L375.7,297.89 L390.05,297.89 L404.4,297.89 L418.75,297.89 L433.1,297.89 L447.45,297.89 L461.8,297.89 L476.15,297.89 L490.5,297.89 L504.85,297.89 L519.2,297.89 L533.55,297.89 L547.9,297.89 L562.25,297.89 L576.6,297.89 L590.95,297.89 L605.3,297.89 L619.65,297.89" fill="none" stroke="#3e049c" stroke-width="1.35" stroke-opacity="0.6" stroke-linejoin="round"/>
<circle cx="347" cy="316.42" r="1.0" fill="#3e049c" fill-opacity="0.75"/>
<circle cx="361.35" cy="297.89" r="1.0" fill="#3e049c" fill-opacity="0.75"/>
<circle cx="375.7" cy="297.89" r="1.0" fill="#3e049c" fill-opacity="0.75"/>
<circle cx="390.05" cy="297.89" r="1.0" fill="#3e049c" fill-opacity="0.75"/>
<circle cx="404.4" cy="297.89" r="1.0" fill="#3e049c" fill-opacity="0.75"/>
<circle cx="418.75" cy="297.89" r="1.0" fill="#3e049c" fill-opacity="0.75"/>
<circle cx="433.1" cy="297.89" r="1.0" fill="#3e049c" fill-opacity="0.75"/>
<circle cx="447.45" cy="297.89" r="1.0" fill="#3e049c" fill-opacity="0.75"/>
<circle cx="461.8" cy="297.89" r="1.0" fill="#3e049c" fill-opacity="0.75"/>
<circle cx="476.15" cy="297.89" r="1.0" fill="#3e049c" fill-opacity="0.75"/>
<circle cx="490.5" cy="297.89" r="1.0" fill="#3e049c" fill-opacity="0.75"/>
<circle cx="504.85" cy="297.89" r="1.0" fill="#3e049c" fill-opacity="0.75"/>
<circle cx="519.2" cy="297.89" r="1.0" fill="#3e049c" fill-opacity="0.75"/>
<circle cx="533.55" cy="297.89" r="1.0" fill="#3e049c" fill-opacity="0.75"/>
<circle cx="547.9" cy="297.89" r="1.0" fill="#3e049c" fill-opacity="0.75"/>
<circle cx="562.25" cy="297.89" r="1.0" fill="#3e049c" fill-opacity="0.75"/>
<circle cx="576.6" cy="297.89" r="1.0" fill="#3e049c" fill-opacity="0.75"/>
<circle cx="590.95" cy="297.89" r="1.0" fill="#3e049c" fill-opacity="0.75"/>
<circle cx="605.3" cy="297.89" r="1.0" fill="#3e049c" fill-opacity="0.75"/>
<circle cx="619.65" cy="297.89" r="1.0" fill="#3e049c" fill-opacity="0.75"/>
<path d="M347,308.22 L361.35,297.89 L375.7,297.89 L390.05,297.89 L404.4,297.89 L418.75,297.89 L433.1,297.89 L447.45,297.89 L461.8,297.89 L476.15,297.89 L490.5,297.89 L504.85,297.89 L519.2,297.89 L533.55,297.89 L547.9,297.89 L562.25,297.89 L576.6,297.89 L590.95,297.89 L605.3,297.89 L619.65,297.89" fill="none" stroke="#0d0887" stroke-width="1.5" stroke-opacity="0.6" stroke-linejoin="round"/>
<circle cx="347" cy="308.22" r="1.0" fill="#0d0887" fill-opacity="0.75"/>
<circle cx="361.35" cy="297.89" r="1.0" fill="#0d0887" fill-opacity="0.75"/>
<circle cx="375.7" cy="297.89" r="1.0" fill="#0d0887" fill-opacity="0.75"/>
<circle cx="390.05" cy="297.89" r="1.0" fill="#0d0887" fill-opacity="0.75"/>
<circle cx="404.4" cy="297.89" r="1.0" fill="#0d0887" fill-opacity="0.75"/>
<circle cx="418.75" cy="297.89" r="1.0" fill="#0d0887" fill-opacity="0.75"/>
<circle cx="433.1" cy="297.89" r="1.0" fill="#0d0887" fill-opacity="0.75"/>
<circle cx="447.45" cy="297.89" r="1.0" fill="#0d0887" fill-opacity="0.75"/>
<circle cx="461.8" cy="297.89" r="1.0" fill="#0d0887" fill-opacity="0.75"/>
<circle cx="476.15" cy="297.89" r="1.0" fill="#0d0887" fill-opacity="0.75"/>
<circle cx="490.5" cy="297.89" r="1.0" fill="#0d0887" fill-opacity="0.75"/>
<circle cx="504.85" cy="297.89" r="1.0" fill="#0d0887" fill-opacity="0.75"/>
<circle cx="519.2" cy="297.89" r="1.0" fill="#0d0887" fill-opacity="0.75"/>
<circle cx="533.55" cy="297.89" r="1.0" fill="#0d0887" fill-opacity="0.75"/>
<circle cx="547.9" cy="297.89" r="1.0" fill="#0d0887" fill-opacity="0.75"/>
<circle cx="562.25" cy="297.89" r="1.0" fill="#0d0887" fill-opacity="0.75"/>
<circle cx="576.6" cy="297.89" r="1.0" fill="#0d0887" fill-opacity="0.75"/>
<circle cx="590.95" cy="297.89" r="1.0" fill="#0d0887" fill-opacity="0.75"/>
<circle cx="605.3" cy="297.89" r="1.0" fill="#0d0887" fill-opacity="0.75"/>
<circle cx="619.65" cy="297.89" r="1.0" fill="#0d0887" fill-opacity="0.75"/>
<path d="M35.2,38.1 L35.5,111" fill="none" stroke="#5a5a5a" stroke-width="0.9" stroke-dasharray="1,1"/>
<path d="M49.5,44V88" fill="none" stroke="#5a5a5a" stroke-width="0.9" stroke-dasharray="1,1"/>
<path d="M54.4,38 L49.5,44.5" fill="none" stroke="#5a5a5a" stroke-width="0.9" stroke-dasharray="1,1"/>
<path d="M63.5,46V65" fill="none" stroke="#5a5a5a" stroke-width="0.9" stroke-dasharray="1,1"/>
<path d="M88.8,39.7 L63.5,46" fill="none" stroke="#5a5a5a" stroke-width="0.9" stroke-dasharray="1,1"/>
<path d="M77.5,48V63" fill="none" stroke="#5a5a5a" stroke-width="0.9" stroke-dasharray="1,1"/>
<path d="M126.2,39.5 L77.5,47.5" fill="none" stroke="#5a5a5a" stroke-width="0.9" stroke-dasharray="1,1"/>
<path d="M298.4,39V48" stroke="#888" stroke-width="0.9"/>
<path d="M344.5,39V113" fill="none" stroke="#5a5a5a" stroke-width="0.9" stroke-dasharray="1,1"/>
<path d="M358.5,46V103" fill="none" stroke="#5a5a5a" stroke-width="0.9" stroke-dasharray="1,1"/>
<path d="M363.7,39.8 L358.5,46.5" fill="none" stroke="#5a5a5a" stroke-width="0.9" stroke-dasharray="1,1"/>
<path d="M373.5,46V94.4" fill="none" stroke="#5a5a5a" stroke-width="0.9" stroke-dasharray="1,1"/>
<path d="M389.4,40.6 L373.5,46.5" fill="none" stroke="#5a5a5a" stroke-width="0.9" stroke-dasharray="1,1"/>
<path d="M387.5,46V74" fill="none" stroke="#5a5a5a" stroke-width="0.9" stroke-dasharray="1,1"/>
<path d="M417.8,41 L387.5,46.5" fill="none" stroke="#5a5a5a" stroke-width="0.9" stroke-dasharray="1,1"/>
<path d="M619.5,40V46.5" stroke="#888" stroke-width="0.9"/>
<path d="M36.5,166V234" fill="none" stroke="#5a5a5a" stroke-width="0.9" stroke-dasharray="1,1"/>
<path d="M21.9,163.1 L36.5,166" fill="none" stroke="#5a5a5a" stroke-width="0.9" stroke-dasharray="1,1"/>
<path d="M50.5,166V236" fill="none" stroke="#5a5a5a" stroke-width="0.9" stroke-dasharray="1,1"/>
<path d="M39.9,163.1 L50.5,166.5" fill="none" stroke="#5a5a5a" stroke-width="0.9" stroke-dasharray="1,1"/>
<path d="M64.5,167V233" fill="none" stroke="#5a5a5a" stroke-width="0.9" stroke-dasharray="1,1"/>
<path d="M63.8,163 L64.5,167" fill="none" stroke="#5a5a5a" stroke-width="0.9" stroke-dasharray="1,1"/>
<path d="M77.5,168V228" fill="none" stroke="#5a5a5a" stroke-width="0.9" stroke-dasharray="1,1"/>
<path d="M82.7,163 L77.5,167.5" fill="none" stroke="#5a5a5a" stroke-width="0.9" stroke-dasharray="1,1"/>
<path d="M91.5,168V217" fill="none" stroke="#5a5a5a" stroke-width="0.9" stroke-dasharray="1,1"/>
<path d="M103.7,163 L91.5,168" fill="none" stroke="#5a5a5a" stroke-width="0.9" stroke-dasharray="1,1"/>
<path d="M105.5,168V210" fill="none" stroke="#5a5a5a" stroke-width="0.9" stroke-dasharray="1,1"/>
<path d="M122.2,162 L105.5,168.5" fill="none" stroke="#5a5a5a" stroke-width="0.9" stroke-dasharray="1,1"/>
<path d="M119.5,169V190" fill="none" stroke="#5a5a5a" stroke-width="0.9" stroke-dasharray="1,1"/>
<path d="M147.5,162 L119.5,169" fill="none" stroke="#5a5a5a" stroke-width="0.9" stroke-dasharray="1,1"/>
<path d="M133.5,170V196" fill="none" stroke="#5a5a5a" stroke-width="0.9" stroke-dasharray="1,1"/>
<path d="M171.2,162 L133.5,169.5" fill="none" stroke="#5a5a5a" stroke-width="0.9" stroke-dasharray="1,1"/>
<path d="M147.5,170V175" fill="none" stroke="#5a5a5a" stroke-width="0.9" stroke-dasharray="1,1"/>
<path d="M199.5,162 L147.5,170" fill="none" stroke="#5a5a5a" stroke-width="0.9" stroke-dasharray="1,1"/>
<path d="M299.4,162.2V172.5" stroke="#888" stroke-width="0.9"/>
<path d="M344.5,165V237" fill="none" stroke="#5a5a5a" stroke-width="0.9" stroke-dasharray="1,1"/>
<path d="M358.5,169V184" fill="none" stroke="#5a5a5a" stroke-width="0.9" stroke-dasharray="1,1"/>
<path d="M371,165.3 L358.5,169" fill="none" stroke="#5a5a5a" stroke-width="0.9" stroke-dasharray="1,1"/>
<path d="M373.5,169V180" fill="none" stroke="#5a5a5a" stroke-width="0.9" stroke-dasharray="1,1"/>
<path d="M397,165.3 L373.5,169" fill="none" stroke="#5a5a5a" stroke-width="0.9" stroke-dasharray="1,1"/>
<path d="M619.1,166V175" stroke="#888" stroke-width="0.9"/>
<path d="M36.5,292V360" fill="none" stroke="#5a5a5a" stroke-width="0.9" stroke-dasharray="1,1"/>
<path d="M49.5,292V354" fill="none" stroke="#5a5a5a" stroke-width="0.9" stroke-dasharray="1,1"/>
<path d="M63.5,299V342" fill="none" stroke="#5a5a5a" stroke-width="0.9" stroke-dasharray="1,1"/>
<path d="M86,291.6 L63.5,299" fill="none" stroke="#5a5a5a" stroke-width="0.9" stroke-dasharray="1,1"/>
<path d="M77.5,300V320" fill="none" stroke="#5a5a5a" stroke-width="0.9" stroke-dasharray="1,1"/>
<path d="M112.7,293 L77.5,300" fill="none" stroke="#5a5a5a" stroke-width="0.9" stroke-dasharray="1,1"/>
<path d="M299,292.8V300.4" stroke="#888" stroke-width="0.9"/>
<path d="M346.5,298V363" fill="none" stroke="#5a5a5a" stroke-width="0.9" stroke-dasharray="1,1"/>
<path d="M361.5,297V347" fill="none" stroke="#5a5a5a" stroke-width="0.9" stroke-dasharray="1,1"/>
<path d="M386.9,292 L361.5,297" fill="none" stroke="#5a5a5a" stroke-width="0.9" stroke-dasharray="1,1"/>
<path d="M425.4,291.8 L361.3,296.5" fill="none" stroke="#5a5a5a" stroke-width="0.9" stroke-dasharray="1,1"/>
<path d="M375.5,297V327" fill="none" stroke="#5a5a5a" stroke-width="0.9" stroke-dasharray="1,1"/>
<path d="M463.7,293 L375.5,297" fill="none" stroke="#5a5a5a" stroke-width="0.9" stroke-dasharray="1,1"/>
<path d="M619.7,291.7V298" stroke="#888" stroke-width="0.9"/>
<g fill="none" stroke-linecap="round" stroke-linejoin="round"><path d="M26,10.5 C25.65,10.56 24.58,10.77 23.91,10.86 C23.25,10.94 22.44,10.9 22,11 C21.56,11.1 21.76,11.27 21.26,11.44 C20.76,11.6 19.46,11.63 19,12 C18.54,12.37 18.68,13.16 18.51,13.66 C18.35,14.16 18.35,14.44 18,15 C17.65,15.56 16.77,16.35 16.43,17.02 C16.1,17.69 15.82,18.42 16,19 C16.18,19.58 17.07,20.19 17.48,20.53 C17.9,20.86 18.58,20.73 18.5,21 C18.42,21.27 17.27,21.65 17.02,22.15 C16.77,22.65 16.88,23.35 17,24 C17.12,24.65 17.26,25.56 17.76,26.06 C18.26,26.56 19.32,26.86 20,27 C20.68,27.14 21.35,26.68 21.85,26.93 C22.35,27.18 22.46,27.89 23,28.5 C23.54,29.11 24.7,30.17 25.12,30.59 C25.53,31 25.22,30.65 25.5,31 C25.78,31.35 26.44,32.21 26.78,32.71 C27.11,33.21 27.36,33.72 27.5,34 C27.64,34.28 27.38,33.96 27.63,34.38 C27.88,34.79 28.64,36.03 29,36.5 C29.36,36.97 29.55,36.71 29.8,37.21 C30.05,37.71 30.38,39.12 30.5,39.5" fill="none" stroke="#e07c2c" stroke-width="1.03"/><path d="M26.5,11 C26.45,11.38 26.29,12.62 26.2,13.28 C26.12,13.95 26.07,14.49 26,15 C25.93,15.51 25.97,15.69 25.8,16.36 C25.63,17.02 25.15,18.26 25,19 C24.85,19.74 24.62,20.11 24.87,20.77 C25.12,21.44 26.25,22.2 26.5,23 C26.75,23.8 26.26,24.89 26.34,25.56 C26.43,26.23 26.71,26.4 27,27 C27.29,27.6 27.84,28.52 28.09,29.18 C28.34,29.85 28.29,30.48 28.5,31 C28.71,31.52 29.1,31.96 29.35,32.29 C29.6,32.62 29.89,32.88 30,33" fill="none" stroke="#e07c2c" stroke-width="0.92"/><path d="M24.5,5 C24.92,4.67 25.92,3.17 27,3 C28.08,2.83 30,4.17 31,4 C32,3.83 32.33,2.17 33,2 C33.67,1.83 34.25,3.08 35,3 C35.75,2.92 36.75,1.33 37.5,1.5 C38.25,1.67 38.83,3.08 39.5,4 C40.17,4.92 41.08,5.67 41.5,7 C41.92,8.33 41.92,9.83 42,12 C42.08,14.17 42.08,17.5 42,20 C41.92,22.5 42.08,25.17 41.5,27 C40.92,28.83 39.5,30.58 38.5,31 C37.5,31.42 36.42,30.17 35.5,29.5 C34.58,28.83 33.42,27.42 33,27" fill="none" stroke="#e2d000" stroke-width="1.03"/><path d="M24.5,5 C24.75,5.5 25.33,7.58 26,8 C26.67,8.42 27.83,7.25 28.5,7.5 C29.17,7.75 29.75,9.17 30,9.5" fill="none" stroke="#e2d000" stroke-width="1.03"/><path d="M31,26 C31.33,26.67 32.17,29 33,30 C33.83,31 34.83,31.83 36,32 C37.17,32.17 39.33,31.17 40,31" fill="none" stroke="#e2d000" stroke-width="0.92"/><path d="M28.5,9 C28.67,9.33 29.25,10.17 29.5,11 C29.75,11.83 29.92,13.5 30,14" fill="none" stroke="#f8f000" stroke-width="2.64"/><path d="M31.2,10 C31.27,11.17 31.47,14.5 31.6,17 C31.73,19.5 31.93,23.67 32,25" fill="none" stroke="#f8f000" stroke-width="3.12"/><path d="M33.4,12 C33.43,13 33.57,16 33.6,18 C33.63,20 33.6,23 33.6,24" fill="none" stroke="#f0e800" stroke-width="1.92"/><path d="M35,8 C35.05,9.5 35.2,14 35.3,17 C35.4,20 35.55,24.5 35.6,26" fill="none" stroke="#f8f000" stroke-width="3.12"/><path d="M37.6,11 C37.63,12.17 37.8,15.83 37.8,18 C37.8,20.17 37.63,23 37.6,24" fill="none" stroke="#f0e800" stroke-width="1.92"/><path d="M40.2,9 C40.27,10.33 40.6,14.33 40.6,17 C40.6,19.67 40.27,23.67 40.2,25" fill="none" stroke="#f8f000" stroke-width="2.88"/><ellipse cx="35.5" cy="6" rx="1.6" ry="2.2" fill="#f8f000" transform="rotate(0,35.5,6)"/><ellipse cx="31.5" cy="25" rx="1.4" ry="1.6" fill="#f8f000" transform="rotate(0,31.5,25)"/><path d="M60,10 C59.59,10.39 58.23,11.67 57.57,12.33 C56.9,13 56.46,13.37 56,14 C55.54,14.63 55.33,15.63 54.83,16.13 C54.33,16.63 53.57,16.73 53,17 C52.43,17.27 51.77,17.35 51.43,17.77 C51.1,18.18 51.22,18.92 51,19.5 C50.78,20.08 50.2,20.51 50.11,21.26 C50.03,22.01 50.12,23.4 50.5,24 C50.88,24.6 51.92,24.33 52.42,24.83 C52.92,25.33 53.1,26.47 53.5,27 C53.9,27.53 54.39,27.49 54.81,27.99 C55.22,28.49 55.65,29.43 56,30 C56.35,30.57 56.46,30.88 56.88,31.38 C57.3,31.88 58.23,32.73 58.5,33" fill="none" stroke="#e2d000" stroke-width="1.03"/><path d="M56,30 C56.09,30.31 56.13,31.36 56.54,31.86 C56.96,32.36 58,32.43 58.5,33 C59,33.57 59.27,34.79 59.52,35.29 C59.77,35.79 59.74,35.75 60,36 C60.26,36.25 60.59,36.39 61.09,36.81 C61.59,37.23 62.4,38.25 63,38.5 C63.6,38.75 64.25,38.45 64.67,38.29 C65.09,38.12 65.36,37.63 65.5,37.5" fill="none" stroke="#e0a040" stroke-width="1.03"/><path d="M57,4.5 C57.83,4.08 60.42,2.17 62,2 C63.58,1.83 65.45,3.67 66.5,3.5 C67.55,3.33 67.72,0.92 68.3,1 C68.88,1.08 69.05,3.17 70,4 C70.95,4.83 72.92,5.17 74,6 C75.08,6.83 76.08,6.67 76.5,9 C76.92,11.33 76.67,16.83 76.5,20 C76.33,23.17 76.08,26 75.5,28 C74.92,30 73.92,31.5 73,32 C72.08,32.5 70.5,31.17 70,31" fill="none" stroke="#e2d000" stroke-width="1.03"/><path d="M62,27 C62.33,27.67 63.17,30 64,31 C64.83,32 66,33 67,33 C68,33 69.5,31.33 70,31" fill="none" stroke="#e2d000" stroke-width="0.92"/><path d="M74.2,9 C74.23,10.5 74.43,15 74.4,18 C74.37,21 74.07,25.5 74,27" fill="none" stroke="#b4d890" stroke-width="2.88"/><path d="M71.2,12 C71.23,13.17 71.4,16.83 71.4,19 C71.4,21.17 71.23,24 71.2,25" fill="none" stroke="#d4ec70" stroke-width="2.16"/><path d="M68.3,6 C68.35,7.83 68.6,13.33 68.6,17 C68.6,20.67 68.35,26.17 68.3,28" fill="none" stroke="#dcec60" stroke-width="3.12"/><path d="M65.2,10 C65.23,11.33 65.4,15.33 65.4,18 C65.4,20.67 65.23,24.67 65.2,26" fill="none" stroke="#e8f050" stroke-width="2.16"/><path d="M61,12 C61.05,13.17 61.3,16.67 61.3,19 C61.3,21.33 61.05,24.83 61,26" fill="none" stroke="#f8f000" stroke-width="3.36"/><ellipse cx="60.5" cy="7.5" rx="1.5" ry="1" fill="#90ccc4" transform="rotate(0,60.5,7.5)"/><ellipse cx="75" cy="9" rx="1.2" ry="1.2" fill="#90ccc4" transform="rotate(0,75,9)"/><ellipse cx="68.5" cy="12" rx="1" ry="1" fill="#90ccc4" transform="rotate(0,68.5,12)"/><path d="M98,9 C97.74,9.01 97.09,8.89 96.42,9.06 C95.75,9.23 94.7,9.81 94,10 C93.3,10.19 92.88,10.03 92.21,10.19 C91.55,10.36 90.63,10.77 90,11 C89.37,11.23 89.1,11.23 88.44,11.57 C87.77,11.9 86.64,12.48 86,13 C85.36,13.52 85.17,14.16 84.59,14.66 C84.01,15.16 82.88,15.41 82.5,16 C82.12,16.59 82.49,17.62 82.32,18.2 C82.15,18.78 81.47,19.02 81.5,19.5 C81.53,19.98 82.1,20.52 82.52,21.1 C82.93,21.69 83.39,22.59 84,23 C84.61,23.41 85.52,23.3 86.19,23.55 C86.85,23.8 87.48,24.42 88,24.5 C88.52,24.58 88.79,24.09 89.29,24.01 C89.79,23.92 90.71,24 91,24" fill="none" stroke="#e8c420" stroke-width="1.15"/><path d="M91,24 C91.25,24.5 91.83,25.67 92.5,27 C93.17,28.33 94.08,30.33 95,32 C95.92,33.67 97.17,35.58 98,37 C98.83,38.42 99.67,39.92 100,40.5" fill="none" stroke="#90ccc4" stroke-width="1.03"/><ellipse cx="91" cy="24.2" rx="1.1" ry="1.1" fill="#f0e000" transform="rotate(0,91,24.2)"/><path d="M92.5,6.7 C93.08,6.08 94.75,3.28 96,3 C97.25,2.72 98.67,4.83 100,5 C101.33,5.17 103,4.58 104,4 C105,3.42 105.17,1 106,1.5 C106.83,2 108.17,5.25 109,7 C109.83,8.75 110.67,9.5 111,12 C111.33,14.5 111.17,19.33 111,22 C110.83,24.67 110.67,26.33 110,28 C109.33,29.67 108,31.17 107,32 C106,32.83 105,33.33 104,33 C103,32.67 101.5,30.5 101,30" fill="none" stroke="#3a66e0" stroke-width="1.03"/><path d="M104.8,0.5 L104.8,6" fill="none" stroke="#90ccc4" stroke-width="1.03"/><path d="M97,30 C97.33,30.67 98.17,33.17 99,34 C99.83,34.83 100.83,35.17 102,35 C103.17,34.83 105.33,33.33 106,33" fill="none" stroke="#3a66e0" stroke-width="0.92"/><path d="M96.4,8 C96.47,9.83 96.8,15.33 96.8,19 C96.8,22.67 96.47,28.17 96.4,30" fill="none" stroke="#5e92ea" stroke-width="3.12"/><path d="M99.5,12 C99.55,13.17 99.8,16.5 99.8,19 C99.8,21.5 99.55,25.67 99.5,27" fill="none" stroke="#4a7ee6" stroke-width="2.4"/><path d="M102.2,10 C102.23,11.5 102.4,16 102.4,19 C102.4,22 102.23,26.5 102.2,28" fill="none" stroke="#5e92ea" stroke-width="2.4"/><path d="M104.8,6 C104.83,8 105.03,14 105,18 C104.97,22 104.67,28 104.6,30" fill="none" stroke="#5e92ea" stroke-width="3.12"/><path d="M107.6,12 C107.63,13.17 107.8,16.67 107.8,19 C107.8,21.33 107.63,24.83 107.6,26" fill="none" stroke="#4a7ee6" stroke-width="2.16"/><path d="M110.4,9 C110.43,10.5 110.63,15 110.6,18 C110.57,21 110.27,25.5 110.2,27" fill="none" stroke="#5e92ea" stroke-width="2.88"/><path d="M94,24 L95,29" fill="none" stroke="#9ccfc0" stroke-width="2.16"/><ellipse cx="104.8" cy="8" rx="1.4" ry="1.6" fill="#8ccab8" transform="rotate(0,104.8,8)"/><path d="M134.7,6.7 C134.45,6.56 133.68,6.12 133.23,5.83 C132.78,5.55 132.55,5.11 132,5 C131.45,4.89 130.59,5.12 129.93,5.2 C129.26,5.29 128.58,5.3 128,5.5 C127.42,5.7 126.92,6.14 126.42,6.39 C125.92,6.64 125.44,6.67 125,7 C124.56,7.33 124.12,7.95 123.78,8.37 C123.45,8.79 123.29,9.09 123,9.5 C122.71,9.91 122.23,10.32 122.06,10.82 C121.89,11.32 122.24,11.98 122,12.5 C121.76,13.02 121.02,13.34 120.6,13.93 C120.18,14.51 119.75,15.47 119.5,16 C119.25,16.53 119.32,16.66 119.12,17.08 C118.92,17.5 118.17,17.9 118.3,18.5 C118.43,19.1 119.46,20.08 119.91,20.66 C120.36,21.24 120.61,21.47 121,22 C121.39,22.53 121.78,23.35 122.28,23.85 C122.78,24.35 123.46,24.7 124,25 C124.54,25.3 125.11,25.48 125.53,25.65 C125.94,25.82 126.34,25.94 126.5,26" fill="none" stroke="#e8c420" stroke-width="1.15"/><path d="M123.5,7.5 L126,6" fill="none" stroke="#f0a020" stroke-width="1.26"/><path d="M128.5,9 C128.92,8.5 129.92,6.25 131,6 C132.08,5.75 133.67,7.5 135,7.5 C136.33,7.5 137.93,6.67 139,6 C140.07,5.33 140.57,3.5 141.4,3.5 C142.23,3.5 143.15,5.25 144,6 C144.85,6.75 145.75,6.83 146.5,8 C147.25,9.17 148.17,10.67 148.5,13 C148.83,15.33 148.75,19.5 148.5,22 C148.25,24.5 147.75,26.33 147,28 C146.25,29.67 145.17,31.17 144,32 C142.83,32.83 141.33,33.33 140,33 C138.67,32.67 136.67,30.5 136,30" fill="none" stroke="#3a66e0" stroke-width="1.03"/><path d="M134,32 C134.5,32.5 135.83,34.33 137,35 C138.17,35.67 139.67,36.17 141,36 C142.33,35.83 144.33,34.33 145,34" fill="none" stroke="#3a66e0" stroke-width="0.92"/><path d="M126.5,26 C126.92,26.5 128.17,27.92 129,29 C129.83,30.08 131.08,31.92 131.5,32.5" fill="none" stroke="#5e92ea" stroke-width="3.12"/><path d="M133.6,10 C133.67,11.83 134,17.33 134,21 C134,24.67 133.67,30.17 133.6,32" fill="none" stroke="#5e92ea" stroke-width="3.12"/><path d="M136.8,13 C136.83,14.17 137,17.5 137,20 C137,22.5 136.83,26.67 136.8,28" fill="none" stroke="#4a7ee6" stroke-width="2.4"/><path d="M139,12 C139.03,13.33 139.2,17.33 139.2,20 C139.2,22.67 139.03,26.67 139,28" fill="none" stroke="#5e92ea" stroke-width="2.16"/><path d="M141.4,6 C141.43,8.17 141.63,14.67 141.6,19 C141.57,23.33 141.27,29.83 141.2,32" fill="none" stroke="#5e92ea" stroke-width="3.12"/><path d="M144.2,12 C144.23,13.17 144.4,16.5 144.4,19 C144.4,21.5 144.23,25.67 144.2,27" fill="none" stroke="#4a7ee6" stroke-width="2.16"/><path d="M147,10 C147.03,11.67 147.23,16.67 147.2,20 C147.17,23.33 146.87,28.33 146.8,30" fill="none" stroke="#5e92ea" stroke-width="2.88"/><ellipse cx="134.5" cy="11" rx="1.6" ry="1" fill="#f0e000" transform="rotate(0,134.5,11)"/><path d="M141.4,0.5 L141.4,6" fill="none" stroke="#90ccc4" stroke-width="1.03"/><ellipse cx="141.4" cy="8" rx="1.4" ry="1.6" fill="#8ccab8" transform="rotate(0,141.4,8)"/><ellipse cx="127" cy="26.5" rx="1.2" ry="1.2" fill="#8ccab8" transform="rotate(0,127,26.5)"/><path d="M286.1,10 C286.17,11.5 286.47,16 286.5,19 C286.53,22 286.33,26.5 286.3,28" fill="none" stroke="#a8a8a8" stroke-width="3.46"/><path d="M286.1,10 C286.17,11.5 286.47,16 286.5,19 C286.53,22 286.33,26.5 286.3,28" fill="none" stroke="#f4f4f4" stroke-width="2.26"/><path d="M292.3,10 C292.35,11.83 292.6,17.33 292.6,21 C292.6,24.67 292.35,30.17 292.3,32" fill="none" stroke="#a8a8a8" stroke-width="3.46"/><path d="M292.3,10 C292.35,11.83 292.6,17.33 292.6,21 C292.6,24.67 292.35,30.17 292.3,32" fill="none" stroke="#f4f4f4" stroke-width="2.26"/><path d="M300.7,5 C300.75,6.83 301,12.17 301,16 C301,19.83 300.75,26 300.7,28" fill="none" stroke="#a8a8a8" stroke-width="3.46"/><path d="M300.7,5 C300.75,6.83 301,12.17 301,16 C301,19.83 300.75,26 300.7,28" fill="none" stroke="#f4f4f4" stroke-width="2.26"/><path d="M288,3.5 C288.33,4.58 289.92,7.92 290,10 C290.08,12.08 288.5,13.5 288.5,16 C288.5,18.5 289.08,22.33 290,25 C290.92,27.67 292.83,30.17 294,32 C295.17,33.83 296.27,35 297,36 C297.73,37 298.17,37.67 298.4,38" fill="none" stroke="#3a66e0" stroke-width="1.03"/><path d="M291,10 C291.83,9.67 294.5,8.67 296,8 C297.5,7.33 298.67,6 300,6 C301.33,6 303,7 304,8 C305,9 305.5,10 306,12 C306.5,14 307,17.5 307,20 C307,22.5 306.5,24.83 306,27 C305.5,29.17 305.17,31.67 304,33 C302.83,34.33 299.83,34.67 299,35" fill="none" stroke="#3a66e0" stroke-width="1.03"/><path d="M287,9 C287.05,8.17 286.88,5.28 287.3,4 C287.72,2.72 288.58,1.72 289.5,1.3 C290.42,0.88 291.97,1.05 292.8,1.5 C293.63,1.95 294.3,3 294.5,4 C294.7,5 294.08,6.92 294,7.5" fill="none" stroke="#dcec60" stroke-width="1.03"/><path d="M296.8,13 C296.87,13.92 297.2,16.67 297.2,18.5 C297.2,20.33 296.87,23.08 296.8,24" fill="none" stroke="#2c50e8" stroke-width="3.36"/><ellipse cx="298.5" cy="19" rx="1.5" ry="2.5" fill="#2c50e8" transform="rotate(0,298.5,19)"/><path d="M306.3,13 C306.33,14.17 306.5,17.67 306.5,20 C306.5,22.33 306.33,25.83 306.3,27" fill="none" stroke="#2c50e8" stroke-width="2.64"/><ellipse cx="304" cy="28" rx="2" ry="1.5" fill="#2c50e8" transform="rotate(0,304,28)"/><path d="M335,8 C335.5,7.33 337,4.83 338,4 C339,3.17 340,3 341,3 C342,3 343,3.5 344,4 C345,4.5 346,5.17 347,6 C348,6.83 349.17,8 350,9 C350.83,10 351.67,10.5 352,12 C352.33,13.5 352.33,16.33 352,18 C351.67,19.67 350.17,20.67 350,22 C349.83,23.33 351.17,24.67 351,26 C350.83,27.33 350,28.83 349,30 C348,31.17 346.17,32.25 345,33 C343.83,33.75 343.17,34.5 342,34.5 C340.83,34.5 339,33.75 338,33 C337,32.25 336.67,31 336,30 C335.33,29 334.33,27.5 334,27" fill="none" stroke="#e2d000" stroke-width="1.03"/><path d="M343,33 C343.17,33.5 343.77,35.17 344,36 C344.23,36.83 344.33,37.67 344.4,38" fill="none" stroke="#e2d000" stroke-width="1.03"/><path d="M346,0 C346.03,0.83 346.37,3.33 346.2,5 C346.03,6.67 345.37,8.33 345,10 C344.63,11.67 344.3,13.33 344,15 C343.7,16.67 343.03,18.5 343.2,20 C343.37,21.5 344.37,22.67 345,24 C345.63,25.33 346.83,26.67 347,28 C347.17,29.33 346.17,31.33 346,32" fill="none" stroke="#e07c2c" stroke-width="1.03"/><path d="M334.1,10 C334.13,11.17 334.3,14.67 334.3,17 C334.3,19.33 334.13,22.83 334.1,24" fill="none" stroke="#f8f000" stroke-width="3"/><path d="M340.3,9 C340.35,10.5 340.6,15 340.6,18 C340.6,21 340.35,25.5 340.3,27" fill="none" stroke="#f4c400" stroke-width="3.12"/><path d="M344,12 C344.5,12.31 347,13.25 347,13.88 C347,14.5 344,15.12 344,15.75 C344,16.38 347,17 347,17.62 C347,18.25 344,18.88 344,19.5 C344,20.12 347,20.75 347,21.38 C347,22 344,22.62 344,23.25 C344,23.88 347,24.5 347,25.12 C347,25.75 344.5,26.69 344,27" fill="none" stroke="#f8f000" stroke-width="1.7"/><path d="M337.2,12 C337.23,13 337.4,16 337.4,18 C337.4,20 337.23,23 337.2,24" fill="none" stroke="#f8f000" stroke-width="2.16"/><ellipse cx="345.5" cy="15" rx="1.8" ry="1.6" fill="#f8f000" transform="rotate(0,345.5,15)"/><ellipse cx="346" cy="21" rx="1.8" ry="1.6" fill="#f8f000" transform="rotate(0,346,21)"/><ellipse cx="347" cy="26.5" rx="1.6" ry="1.4" fill="#f0e020" transform="rotate(0,347,26.5)"/><ellipse cx="334.1" cy="23" rx="1.8" ry="1.4" fill="#f8f000" transform="rotate(0,334.1,23)"/><path d="M363,8 C363.5,7.17 365,4 366,3 C367,2 368,1.83 369,2 C370,2.17 371,3.17 372,4 C373,4.83 374,6 375,7 C376,8 377.25,8.5 378,10 C378.75,11.5 379.42,13.67 379.5,16 C379.58,18.33 378.92,21.67 378.5,24 C378.08,26.33 377.92,28.67 377,30 C376.08,31.33 374.33,31.5 373,32 C371.67,32.5 370.17,32.67 369,33 C367.83,33.33 366.67,33.17 366,34 C365.33,34.83 365.17,37.33 365,38" fill="none" stroke="#e2d000" stroke-width="1.03"/><path d="M379,0.5 C378.75,1.25 377.97,3.42 377.5,5 C377.03,6.58 376.58,8.33 376.2,10 C375.82,11.67 375.4,13 375.2,15 C375,17 375.03,20.83 375,22" fill="none" stroke="#e07c2c" stroke-width="1.03"/><path d="M379,0.5 L381,-1" fill="none" stroke="#e2d000" stroke-width="1.03"/><path d="M362.6,9 C362.65,10.67 362.9,15.67 362.9,19 C362.9,22.33 362.65,27.33 362.6,29" fill="none" stroke="#f8f000" stroke-width="3"/><path d="M367.7,8 C367.75,9.83 368,15.33 368,19 C368,22.67 367.75,28.17 367.7,30" fill="none" stroke="#f8f000" stroke-width="3.12"/><path d="M373.4,20 C373.93,20.33 376.6,21.33 376.6,22 C376.6,22.67 373.4,23.33 373.4,24 C373.4,24.67 376.6,25.33 376.6,26 C376.6,26.67 373.93,27.67 373.4,28" fill="none" stroke="#f8f000" stroke-width="1.8"/><path d="M365.2,12 C365.23,13.17 365.4,16.67 365.4,19 C365.4,21.33 365.23,24.83 365.2,26" fill="none" stroke="#f8f000" stroke-width="2.16"/><ellipse cx="374.5" cy="21.5" rx="1.8" ry="1.6" fill="#f8f000" transform="rotate(0,374.5,21.5)"/><ellipse cx="376" cy="26" rx="1.8" ry="1.6" fill="#f8f000" transform="rotate(0,376,26)"/><path d="M371,14 C371.03,15 371.2,18 371.2,20 C371.2,22 371.03,25 371,26" fill="none" stroke="#f0e020" stroke-width="1.92"/><ellipse cx="365.3" cy="10.5" rx="1" ry="1" fill="#90ccc4" transform="rotate(0,365.3,10.5)"/><path d="M386,8 C386.5,7.17 388.17,4 389,3 C389.83,2 390.33,1.5 391,2 C391.67,2.5 392.17,5 393,6 C393.83,7 395,7.83 396,8 C397,8.17 398.17,7.5 399,7 C399.83,6.5 400.5,4.5 401,5 C401.5,5.5 402,8.33 402,10 C402,11.67 401,13.33 401,15 C401,16.67 402,17.83 402,20 C402,22.17 401.67,25.83 401,28 C400.33,30.17 399.17,31.67 398,33 C396.83,34.33 395.33,35.33 394,36 C392.67,36.67 390.77,36.33 390,37 C389.23,37.67 389.5,39.5 389.4,40" fill="none" stroke="#e2d000" stroke-width="1.03"/><path d="M399,10 C398.58,11 396.83,14 396.5,16 C396.17,18 396.92,21 397,22" fill="none" stroke="#e07c2c" stroke-width="1.03"/><path d="M387,8 C387.05,10 387.3,16 387.3,20 C387.3,24 387.05,30 387,32" fill="none" stroke="#f8f000" stroke-width="3"/><path d="M392,7 C392.05,9.17 392.3,15.67 392.3,20 C392.3,24.33 392.05,30.83 392,33" fill="none" stroke="#f8f000" stroke-width="3.12"/><path d="M396,15 C396.05,16 396.3,18.83 396.3,21 C396.3,23.17 396.05,26.83 396,28" fill="none" stroke="#dcec60" stroke-width="2.4"/><path d="M398.1,18 C398.57,18.33 400.9,19.33 400.9,20 C400.9,20.67 398.1,21.33 398.1,22 C398.1,22.67 400.9,23.33 400.9,24 C400.9,24.67 398.57,25.67 398.1,26" fill="none" stroke="#f59800" stroke-width="1.8"/><path d="M389.6,10 C389.63,11.67 389.8,16.67 389.8,20 C389.8,23.33 389.63,28.33 389.6,30" fill="none" stroke="#f8f000" stroke-width="2.16"/><ellipse cx="400" cy="21" rx="1.8" ry="2.4" fill="#f4a800" transform="rotate(0,400,21)"/><ellipse cx="396" cy="12" rx="1.4" ry="1.4" fill="#dcec60" transform="rotate(0,396,12)"/><ellipse cx="389.5" cy="14" rx="0.9" ry="1.2" fill="#88b6e0" transform="rotate(0,389.5,14)"/><path d="M413,5 C413.33,4.5 414.17,2 415,2 C415.83,2 417.17,3.67 418,5 C418.83,6.33 419.67,9.17 420,10" fill="none" stroke="#88b6e0" stroke-width="1.03"/><path d="M416,35 C416.67,35.33 418.67,37 420,37 C421.33,37 423.33,35.33 424,35" fill="none" stroke="#88b6e0" stroke-width="1.03"/><path d="M424,3 L424,10" fill="none" stroke="#e2d000" stroke-width="1.03"/><path d="M426,10 C426.67,10.17 429.08,10.17 430,11 C430.92,11.83 431.25,12.67 431.5,15 C431.75,17.33 431.92,22.5 431.5,25 C431.08,27.5 430.25,28.83 429,30 C427.75,31.17 425.5,31.83 424,32 C422.5,32.17 420.67,31.17 420,31" fill="none" stroke="#e2d000" stroke-width="1.03"/><path d="M412.7,8 C412.75,10 413,16 413,20 C413,24 412.75,30 412.7,32" fill="none" stroke="#88b6e0" stroke-width="2.88"/><path d="M416.6,4 C416.65,6.67 416.9,14.83 416.9,20 C416.9,25.17 416.65,32.5 416.6,35" fill="none" stroke="#a8ccb0" stroke-width="2.88"/><ellipse cx="414" cy="14" rx="1.2" ry="1.6" fill="#4c82e8" transform="rotate(0,414,14)"/><ellipse cx="416.5" cy="22" rx="1.2" ry="1.6" fill="#4c82e8" transform="rotate(0,416.5,22)"/><ellipse cx="418" cy="28" rx="1.2" ry="1.4" fill="#4c82e8" transform="rotate(0,418,28)"/><path d="M423.9,10 C423.93,11.5 424.1,16.17 424.1,19 C424.1,21.83 423.93,25.67 423.9,27" fill="none" stroke="#f8f000" stroke-width="3.24"/><path d="M428.1,17 C428.57,17.33 430.9,18.33 430.9,19 C430.9,19.67 428.1,20.33 428.1,21 C428.1,21.67 430.9,22.33 430.9,23 C430.9,23.67 428.57,24.67 428.1,25" fill="none" stroke="#f8f000" stroke-width="1.8"/><path d="M414.7,10 C414.73,11.67 414.9,16.67 414.9,20 C414.9,23.33 414.73,28.33 414.7,30" fill="none" stroke="#88b6e0" stroke-width="1.92"/><ellipse cx="429.5" cy="21" rx="1.8" ry="3" fill="#f8f000" transform="rotate(0,429.5,21)"/><ellipse cx="424" cy="12" rx="2" ry="2.2" fill="#f8f000" transform="rotate(0,424,12)"/><path d="M612,4 C612.67,4.5 614.67,6.67 616,7 C617.33,7.33 618.67,5.83 620,6 C621.33,6.17 622.83,7.33 624,8 C625.17,8.67 626.25,8.67 627,10 C627.75,11.33 628.25,15 628.5,16" fill="none" stroke="#3a66e0" stroke-width="0.92"/><path d="M620,6 L620.3,1.5" fill="none" stroke="#a8a8a8" stroke-width="0.92"/><path d="M616,30 C616.67,30.33 618.67,31.83 620,32 C621.33,32.17 622.92,31.67 624,31 C625.08,30.33 626.08,28.5 626.5,28" fill="none" stroke="#a8a8a8" stroke-width="0.92"/><path d="M613,2.5 C612.42,3.42 610.37,5.75 609.5,8 C608.63,10.25 607.97,13.33 607.8,16 C607.63,18.67 607.97,21.67 608.5,24 C609.03,26.33 610.58,29 611,30" fill="none" stroke="#2c50e8" stroke-width="3.36"/><path d="M612.3,8 C612.15,9.5 611.37,13.83 611.4,17 C611.43,20.17 612.32,25.33 612.5,27" fill="none" stroke="#a8a8a8" stroke-width="2.9799999999999995"/><path d="M612.3,8 C612.15,9.5 611.37,13.83 611.4,17 C611.43,20.17 612.32,25.33 612.5,27" fill="none" stroke="#f4f4f4" stroke-width="1.7799999999999998"/><path d="M618.5,8 C618.55,9.17 618.72,12.67 618.8,15 C618.88,17.33 618.97,20.83 619,22" fill="none" stroke="#a8a8a8" stroke-width="3.0999999999999996"/><path d="M618.5,8 C618.55,9.17 618.72,12.67 618.8,15 C618.88,17.33 618.97,20.83 619,22" fill="none" stroke="#f4f4f4" stroke-width="1.9"/><path d="M622.3,6 C622.33,7.33 622.43,11 622.5,14 C622.57,17 622.67,22.33 622.7,24" fill="none" stroke="#a8a8a8" stroke-width="3.0999999999999996"/><path d="M622.3,6 C622.33,7.33 622.43,11 622.5,14 C622.57,17 622.67,22.33 622.7,24" fill="none" stroke="#f4f4f4" stroke-width="1.9"/><path d="M626.2,10 C626.27,11.33 626.6,15 626.6,18 C626.6,21 626.27,26.33 626.2,28" fill="none" stroke="#a8a8a8" stroke-width="3.0999999999999996"/><path d="M626.2,10 C626.27,11.33 626.6,15 626.6,18 C626.6,21 626.27,26.33 626.2,28" fill="none" stroke="#f4f4f4" stroke-width="1.9"/><path d="M614.8,14 C614.83,15.33 615,19 615,22 C615,25 614.83,30.33 614.8,32" fill="none" stroke="#2c50e8" stroke-width="2.88"/><ellipse cx="618.2" cy="20.5" rx="1.8" ry="3.4" fill="#2c50e8" transform="rotate(0,618.2,20.5)"/><ellipse cx="621.2" cy="25.5" rx="1.6" ry="2" fill="#2c50e8" transform="rotate(0,621.2,25.5)"/><path d="M627.2,17 C627.25,17.83 627.5,20.33 627.5,22 C627.5,23.67 627.25,26.17 627.2,27" fill="none" stroke="#2c50e8" stroke-width="2.64"/><ellipse cx="624.5" cy="27" rx="1.6" ry="1.2" fill="#2c50e8" transform="rotate(0,624.5,27)"/><ellipse cx="612" cy="5" rx="1.6" ry="1.4" fill="#6a9ae8" transform="rotate(0,612,5)"/><path d="M611,30 C611.33,30.5 612.17,32.17 613,33 C613.83,33.83 614.92,34.17 616,35 C617.08,35.83 618.92,37.5 619.5,38" fill="none" stroke="#3a66e0" stroke-width="0.92"/><path d="M3,125 C3.25,124.58 3.92,123 4.5,122.5 C5.08,122 6,121.75 6.5,122 C7,122.25 7.32,123.17 7.5,124 C7.68,124.83 7.58,126.5 7.6,127" fill="none" stroke="#e2d000" stroke-width="1.03"/><path d="M3.5,153 C3.75,153.58 4.5,155.58 5,156.5 C5.5,157.42 6,157.92 6.5,158.5 C7,159.08 7.75,159.75 8,160" fill="none" stroke="#e2d000" stroke-width="1.03"/><path d="M4.3,130 C4.03,131.75 2.75,136.83 2.7,140.5 C2.65,144.17 3.78,150.08 4,152" fill="none" stroke="#f8f000" stroke-width="2.76"/><path d="M7.9,128 C7.77,130.08 7.1,136 7.1,140.5 C7.1,145 7.77,152.58 7.9,155" fill="none" stroke="#f8f000" stroke-width="2.76"/><path d="M9,133 C9.5,132.5 11,130.67 12,130 C13,129.33 14.17,128.5 15,129 C15.83,129.5 16.83,131.67 17,133 C17.17,134.33 15.83,135.67 16,137 C16.17,138.33 17,140 18,141 C19,142 20.83,142.17 22,143 C23.17,143.83 24.67,144.83 25,146 C25.33,147.17 24.83,149.33 24,150 C23.17,150.67 21.17,149.5 20,150 C18.83,150.5 17.83,151.83 17,153 C16.17,154.17 15.83,156.5 15,157 C14.17,157.5 13,156.67 12,156 C11,155.33 9.5,153.5 9,153" fill="none" stroke="#e07c2c" stroke-width="1.03"/><path d="M0,130 L2,133" fill="none" stroke="#e07c2c" stroke-width="1.15"/><path d="M10,140 C10.5,140.25 12,141 13,141.5 C14,142 15.5,142.75 16,143" fill="none" stroke="#f59800" stroke-width="2.64"/><path d="M14,137 C14.33,137.25 15.33,138 16,138.5 C16.67,139 17.67,139.75 18,140" fill="none" stroke="#f59800" stroke-width="2.64"/><path d="M29.3,125 C29.55,124.58 30.22,123 30.8,122.5 C31.38,122 32.3,121.75 32.8,122 C33.3,122.25 33.62,123.17 33.8,124 C33.98,124.83 33.88,126.5 33.9,127" fill="none" stroke="#e2d000" stroke-width="1.03"/><path d="M29.8,153 C30.05,153.58 30.8,155.58 31.3,156.5 C31.8,157.42 32.3,157.92 32.8,158.5 C33.3,159.08 34.05,159.75 34.3,160" fill="none" stroke="#e2d000" stroke-width="1.03"/><path d="M30.6,130 C30.33,131.75 29.05,136.83 29,140.5 C28.95,144.17 30.08,150.08 30.3,152" fill="none" stroke="#f8f000" stroke-width="2.76"/><path d="M34.2,128 C34.07,130.08 33.4,136 33.4,140.5 C33.4,145 34.07,152.58 34.2,155" fill="none" stroke="#f8f000" stroke-width="2.76"/><path d="M35,135 C35.5,135.17 37,135.67 38,136 C39,136.33 40,137.5 41,137 C42,136.5 43,133.83 44,133 C45,132.17 46,132.5 47,132 C48,131.5 49.5,129.5 50,130 C50.5,130.5 50.33,133.33 50,135 C49.67,136.67 48.67,138.67 48,140 C47.33,141.33 46.5,141.83 46,143 C45.5,144.17 44.83,145.67 45,147 C45.17,148.33 47.33,149.67 47,151 C46.67,152.33 44.17,154.17 43,155 C41.83,155.83 41,156 40,156 C39,156 37.83,155.5 37,155 C36.17,154.5 35.33,153.33 35,153" fill="none" stroke="#e07c2c" stroke-width="1.03"/><path d="M43,143 C43.33,143.42 44.33,144.67 45,145.5 C45.67,146.33 46.67,147.58 47,148" fill="none" stroke="#f59800" stroke-width="2.88"/><path d="M38,136 L41,137.5" fill="none" stroke="#f59800" stroke-width="2.16"/><path d="M54.8,125 C55.05,124.58 55.72,123 56.3,122.5 C56.88,122 57.8,121.75 58.3,122 C58.8,122.25 59.12,123.17 59.3,124 C59.48,124.83 59.38,126.5 59.4,127" fill="none" stroke="#e2d000" stroke-width="1.03"/><path d="M55.3,153 C55.55,153.58 56.3,155.58 56.8,156.5 C57.3,157.42 57.8,157.92 58.3,158.5 C58.8,159.08 59.55,159.75 59.8,160" fill="none" stroke="#e2d000" stroke-width="1.03"/><path d="M56.1,130 C55.83,131.75 54.55,136.83 54.5,140.5 C54.45,144.17 55.58,150.08 55.8,152" fill="none" stroke="#f8f000" stroke-width="2.76"/><path d="M59.7,128 C59.57,130.08 58.9,136 58.9,140.5 C58.9,145 59.57,152.58 59.7,155" fill="none" stroke="#f8f000" stroke-width="2.76"/><path d="M61,123 C61.33,123.17 62.5,123.17 63,124 C63.5,124.83 63.92,126.67 64,128 C64.08,129.33 63.58,131.33 63.5,132" fill="none" stroke="#e07c2c" stroke-width="1.03"/><path d="M63.5,130 C63.58,130.67 63.88,132.67 64,134 C64.12,135.33 64.17,137.33 64.2,138" fill="none" stroke="#f59800" stroke-width="2.64"/><path d="M64,138 C64,138.67 63.67,140.67 64,142 C64.33,143.33 65,145 66,146 C67,147 68.83,147.5 70,148 C71.17,148.5 72.33,148.33 73,149 C73.67,149.67 74.5,151 74,152 C73.5,153 71.5,154.5 70,155 C68.5,155.5 66.33,155.33 65,155 C63.67,154.67 62.83,153.5 62,153 C61.17,152.5 60.33,152.17 60,152" fill="none" stroke="#e07c2c" stroke-width="1.03"/><path d="M68,128 C68.33,128.17 69.75,128.33 70,129 C70.25,129.67 69.58,131.5 69.5,132" fill="none" stroke="#e07c2c" stroke-width="1.03"/><path d="M68.9,131 C69.43,131.32 72.1,132.27 72.1,132.9 C72.1,133.53 68.9,134.17 68.9,134.8 C68.9,135.43 72.1,136.07 72.1,136.7 C72.1,137.33 68.9,137.97 68.9,138.6 C68.9,139.23 72.1,139.87 72.1,140.5 C72.1,141.13 68.9,141.77 68.9,142.4 C68.9,143.03 72.1,143.67 72.1,144.3 C72.1,144.93 68.9,145.57 68.9,146.2 C68.9,146.83 72.1,147.47 72.1,148.1 C72.1,148.73 69.43,149.68 68.9,150" fill="none" stroke="#f59800" stroke-width="1.7"/><path d="M79.3,125 C79.55,124.58 80.22,123 80.8,122.5 C81.38,122 82.3,121.75 82.8,122 C83.3,122.25 83.62,123.17 83.8,124 C83.98,124.83 83.88,126.5 83.9,127" fill="none" stroke="#e2d000" stroke-width="1.03"/><path d="M79.8,153 C80.05,153.58 80.8,155.58 81.3,156.5 C81.8,157.42 82.3,157.92 82.8,158.5 C83.3,159.08 84.05,159.75 84.3,160" fill="none" stroke="#e2d000" stroke-width="1.03"/><path d="M80.6,130 C80.33,131.75 79.05,136.83 79,140.5 C78.95,144.17 80.08,150.08 80.3,152" fill="none" stroke="#f8f000" stroke-width="2.76"/><path d="M84.2,128 C84.07,130.08 83.4,136 83.4,140.5 C83.4,145 84.07,152.58 84.2,155" fill="none" stroke="#f8f000" stroke-width="2.76"/><path d="M86,123 C86.33,123.33 87.58,123.83 88,125 C88.42,126.17 88.42,129.17 88.5,130" fill="none" stroke="#e07c2c" stroke-width="1.03"/><path d="M88.6,131 C88.63,132 88.8,135 88.8,137 C88.8,139 88.63,142 88.6,143" fill="none" stroke="#f59800" stroke-width="2.76"/><path d="M90.9,130 C91.5,130.3 94.5,131.21 94.5,131.82 C94.5,132.42 90.9,133.03 90.9,133.64 C90.9,134.24 94.5,134.85 94.5,135.45 C94.5,136.06 90.9,136.67 90.9,137.27 C90.9,137.88 94.5,138.48 94.5,139.09 C94.5,139.7 90.9,140.3 90.9,140.91 C90.9,141.52 94.5,142.12 94.5,142.73 C94.5,143.33 90.9,143.94 90.9,144.55 C90.9,145.15 94.5,145.76 94.5,146.36 C94.5,146.97 90.9,147.58 90.9,148.18 C90.9,148.79 93.9,149.7 94.5,150" fill="none" stroke="#f59800" stroke-width="1.7"/><path d="M88.6,143 C88.5,143.83 87.77,146.5 88,148 C88.23,149.5 89,151.17 90,152 C91,152.83 92.92,153.33 94,153 C95.08,152.67 96.17,152.17 96.5,150 C96.83,147.83 96.17,143.33 96,140 C95.83,136.67 96,132.17 95.5,130 C95,127.83 93.92,127.33 93,127 C92.08,126.67 90.5,127.83 90,128" fill="none" stroke="#e07c2c" stroke-width="0.92"/><path d="M101.3,125 C101.55,124.58 102.22,123 102.8,122.5 C103.38,122 104.3,121.75 104.8,122 C105.3,122.25 105.52,123.17 105.8,124 C106.08,124.83 106.38,126.5 106.5,127" fill="none" stroke="#e2d000" stroke-width="1.03"/><path d="M101.8,153 C102.05,153.58 102.8,155.58 103.3,156.5 C103.8,157.42 104.3,157.92 104.8,158.5 C105.3,159.08 106.05,159.75 106.3,160" fill="none" stroke="#e2d000" stroke-width="1.03"/><path d="M102.6,130 C102.33,131.75 101.05,136.83 101,140.5 C100.95,144.17 102.08,150.08 102.3,152" fill="none" stroke="#f8f000" stroke-width="2.76"/><path d="M106.8,128 C106.67,130.08 106,136 106,140.5 C106,145 106.67,152.58 106.8,155" fill="none" stroke="#f8f000" stroke-width="2.76"/><path d="M109,123 C109.5,123.17 111.17,123.17 112,124 C112.83,124.83 113.67,127.33 114,128" fill="none" stroke="#e07c2c" stroke-width="1.03"/><path d="M111.2,131 C111.23,132.5 111.4,137.17 111.4,140 C111.4,142.83 111.23,146.67 111.2,148" fill="none" stroke="#f6a810" stroke-width="2.64"/><path d="M116.5,132 C116.53,133.17 116.7,136.67 116.7,139 C116.7,141.33 116.53,144.83 116.5,146" fill="none" stroke="#f4a000" stroke-width="2.4"/><path d="M112.4,132 C112.93,132.31 115.6,133.25 115.6,133.88 C115.6,134.5 112.4,135.12 112.4,135.75 C112.4,136.38 115.6,137 115.6,137.62 C115.6,138.25 112.4,138.88 112.4,139.5 C112.4,140.12 115.6,140.75 115.6,141.38 C115.6,142 112.4,142.62 112.4,143.25 C112.4,143.88 115.6,144.5 115.6,145.12 C115.6,145.75 112.93,146.69 112.4,147" fill="none" stroke="#f0c040" stroke-width="1.7"/><path d="M110,148 C110.33,148.67 111.17,151.17 112,152 C112.83,152.83 114,153.33 115,153 C116,152.67 117.5,151.33 118,150 C118.5,148.67 118,145.83 118,145" fill="none" stroke="#e07c2c" stroke-width="0.92"/><path d="M124.7,125 C124.95,124.58 125.62,123 126.2,122.5 C126.78,122 127.7,121.75 128.2,122 C128.7,122.25 128.92,123.17 129.2,124 C129.48,124.83 129.78,126.5 129.9,127" fill="none" stroke="#e2d000" stroke-width="1.03"/><path d="M125.2,153 C125.45,153.58 126.2,155.58 126.7,156.5 C127.2,157.42 127.7,157.92 128.2,158.5 C128.7,159.08 129.45,159.75 129.7,160" fill="none" stroke="#e2d000" stroke-width="1.03"/><path d="M126,130 C125.73,131.75 124.45,136.83 124.4,140.5 C124.35,144.17 125.48,150.08 125.7,152" fill="none" stroke="#b4d890" stroke-width="2.76"/><path d="M130.2,128 C130.07,130.08 129.4,136 129.4,140.5 C129.4,145 130.07,152.58 130.2,155" fill="none" stroke="#f8f000" stroke-width="2.76"/><path d="M125.2,141 C125.17,141.83 125,144.33 125,146 C125,147.67 125.17,150.17 125.2,151" fill="none" stroke="#f8f000" stroke-width="2.76"/><path d="M134,132 C134.03,133.33 134.2,137.33 134.2,140 C134.2,142.67 134.03,146.67 134,148" fill="none" stroke="#f8f000" stroke-width="2.76"/><path d="M139.3,135 C139.33,136 139.5,138.83 139.5,141 C139.5,143.17 139.33,146.83 139.3,148" fill="none" stroke="#f59800" stroke-width="2.76"/><path d="M135.4,133 C135.87,133.33 138.2,134.33 138.2,135 C138.2,135.67 135.4,136.33 135.4,137 C135.4,137.67 138.2,138.33 138.2,139 C138.2,139.67 135.4,140.33 135.4,141 C135.4,141.67 138.2,142.33 138.2,143 C138.2,143.67 135.4,144.33 135.4,145 C135.4,145.67 137.73,146.67 138.2,147" fill="none" stroke="#f0c020" stroke-width="1.7"/><path d="M131,125 C131.67,124.83 133.83,123.67 135,124 C136.17,124.33 137.17,125.83 138,127 C138.83,128.17 139.67,130.33 140,131" fill="none" stroke="#e07c2c" stroke-width="0.92"/><path d="M133,150 C133.5,150.33 134.83,152 136,152 C137.17,152 139.17,151 140,150 C140.83,149 140.83,146.67 141,146" fill="none" stroke="#e07c2c" stroke-width="0.92"/><path d="M152,123 C152.5,123.17 154,123.67 155,124 C156,124.33 157,124.33 158,125 C159,125.67 160.08,127 161,128 C161.92,129 163.08,130.5 163.5,131" fill="none" stroke="#e2d000" stroke-width="1.03"/><path d="M152,152 C152.5,152.83 154.17,155.83 155,157 C155.83,158.17 156.67,158.67 157,159" fill="none" stroke="#88b6e0" stroke-width="1.03"/><path d="M149.3,131 C149.25,132.67 149,137.5 149,141 C149,144.5 149.25,150.17 149.3,152" fill="none" stroke="#88b6e0" stroke-width="2.76"/><path d="M154,128 C153.95,130.17 153.7,136.5 153.7,141 C153.7,145.5 153.95,152.67 154,155" fill="none" stroke="#98c4c0" stroke-width="2.76"/><path d="M158,128 C158.03,129.67 158.2,134.67 158.2,138 C158.2,141.33 158.03,146.33 158,148" fill="none" stroke="#f8f000" stroke-width="2.88"/><path d="M162.1,131 C162.13,132.17 162.3,135.5 162.3,138 C162.3,140.5 162.13,144.67 162.1,146" fill="none" stroke="#f8f000" stroke-width="2.76"/><path d="M158,148 C158.33,148.5 159.17,150.67 160,151 C160.83,151.33 162.25,150.83 163,150 C163.75,149.17 164.25,146.67 164.5,146" fill="none" stroke="#e2d000" stroke-width="0.92"/><path d="M173,124 C173.67,123.83 175.83,122.83 177,123 C178.17,123.17 179,124.17 180,125 C181,125.83 182.17,126.67 183,128 C183.83,129.33 184.67,132.17 185,133" fill="none" stroke="#e2d000" stroke-width="1.03"/><path d="M171.5,131 C171.45,132.67 171.2,137.5 171.2,141 C171.2,144.5 171.45,150.17 171.5,152" fill="none" stroke="#a8d0b8" stroke-width="2.76"/><path d="M175.6,130 C175.57,131.83 175.4,137.17 175.4,141 C175.4,144.83 175.57,151 175.6,153" fill="none" stroke="#b4d890" stroke-width="2.76"/><path d="M179.1,128 C179.13,129.17 179.3,132.5 179.3,135 C179.3,137.5 179.13,141.67 179.1,143" fill="none" stroke="#f8f000" stroke-width="2.76"/><path d="M184.5,138 C184.53,138.5 184.7,139.83 184.7,141 C184.7,142.17 184.53,144.33 184.5,145" fill="none" stroke="#f8f000" stroke-width="2.88"/><path d="M184.5,147 C183.92,147.5 182.08,149.17 181,150 C179.92,150.83 178.5,151.67 178,152" fill="none" stroke="#e07c2c" stroke-width="0.92"/><path d="M175.6,153 C175.83,153.67 176.6,156 177,157 C177.4,158 177.83,158.67 178,159" fill="none" stroke="#e2d000" stroke-width="0.92"/><path d="M195,124 C195.5,123.83 197,122.83 198,123 C199,123.17 200.17,124.5 201,125 C201.83,125.5 202.67,125.83 203,126" fill="none" stroke="#3a66e0" stroke-width="1.03"/><path d="M203,126 C203.67,126.17 206,125.83 207,127 C208,128.17 208.83,130.83 209,133 C209.17,135.17 208,137.67 208,140 C208,142.33 209.5,145.33 209,147 C208.5,148.67 206.33,149.5 205,150 C203.67,150.5 201.67,150 201,150" fill="none" stroke="#e2d000" stroke-width="1.03"/><path d="M193.8,131 C193.75,132.67 193.5,137.5 193.5,141 C193.5,144.5 193.75,150.17 193.8,152" fill="none" stroke="#4c82e8" stroke-width="2.88"/><path d="M197.9,128 C197.85,130.17 197.6,136.5 197.6,141 C197.6,145.5 197.85,152.67 197.9,155" fill="none" stroke="#4c82e8" stroke-width="2.88"/><path d="M202,128 C202.03,129.83 202.2,135.33 202.2,139 C202.2,142.67 202.03,148.17 202,150" fill="none" stroke="#4c82e8" stroke-width="2.88"/><path d="M206.6,132 C206.63,132.83 206.8,135.33 206.8,137 C206.8,138.67 206.63,141.17 206.6,142" fill="none" stroke="#88b6e0" stroke-width="2.4"/><path d="M196,155 C196.33,155.5 197.42,157.17 198,158 C198.58,158.83 199.25,159.67 199.5,160" fill="none" stroke="#3a66e0" stroke-width="0.92"/><path d="M102.5,128 C102.46,127.57 102.1,126.09 102.27,125.42 C102.44,124.75 103.11,124.32 103.5,124 C103.89,123.68 104.17,123.78 104.59,123.53 C105.01,123.28 105.69,122.6 106,122.5 C106.31,122.4 106.12,122.59 106.46,122.92 C106.79,123.25 107.64,124.38 108,124.5 C108.36,124.62 108.26,124.05 108.6,123.64 C108.93,123.22 109.65,122.09 110,122 C110.35,121.91 110.3,122.86 110.72,123.11 C111.14,123.36 111.95,123.4 112.5,123.5 C113.05,123.6 113.58,123.45 113.99,123.7 C114.41,123.95 114.66,124.46 115,125 C115.34,125.54 115.72,126.25 116.05,126.92 C116.39,127.59 116.84,128.65 117,129" fill="none" stroke="#e2d000" stroke-width="0.98"/><path d="M117,129 C117.13,129.49 117.51,130.93 117.76,131.93 C118.01,132.93 118.4,133.93 118.5,135 C118.6,136.07 118.42,137.16 118.34,138.33 C118.25,139.49 117.93,140.97 118,142 C118.07,143.03 118.67,143.49 118.75,144.49 C118.84,145.49 118.8,147.02 118.5,148 C118.2,148.98 117.43,149.73 116.93,150.39 C116.43,151.06 116,151.51 115.5,152 C115,152.49 114.49,153.11 113.91,153.36 C113.33,153.61 112.79,153.47 112,153.5 C111.21,153.53 110.02,153.45 109.18,153.54 C108.35,153.62 107.36,153.92 107,154" fill="none" stroke="#e07c2c" stroke-width="0.92"/><path d="M125.5,128 C125.48,127.6 125.2,126.24 125.37,125.57 C125.53,124.9 126.15,124.29 126.5,124 C126.85,123.71 127.04,124.1 127.45,123.85 C127.87,123.6 128.58,122.5 129,122.5 C129.42,122.5 129.66,123.5 129.99,123.83 C130.33,124.16 130.77,124.59 131,124.5 C131.23,124.41 131.07,123.68 131.4,123.26 C131.73,122.85 132.44,122.08 133,122 C133.56,121.92 134.35,122.53 134.76,122.78 C135.18,123.03 135.06,123.16 135.5,123.5 C135.94,123.84 137,124.57 137.42,124.82 C137.83,125.07 137.77,124.76 138,125 C138.23,125.24 138.47,125.58 138.81,126.25 C139.14,126.92 139.8,128.54 140,129" fill="none" stroke="#e2d000" stroke-width="0.98"/><path d="M140,129 C140.04,129.5 139.97,130.98 140.22,131.98 C140.47,132.98 141.33,133.8 141.5,135 C141.67,136.2 141.34,138.04 141.26,139.2 C141.17,140.37 140.92,140.96 141,142 C141.08,143.04 141.63,144.44 141.72,145.44 C141.8,146.44 141.74,147.33 141.5,148 C141.26,148.67 140.77,148.82 140.27,149.48 C139.77,150.15 138.98,151.47 138.5,152 C138.02,152.53 137.95,152.4 137.37,152.65 C136.79,152.9 135.79,153.42 135,153.5 C134.21,153.58 133.46,153.07 132.62,153.15 C131.79,153.23 130.44,153.86 130,154" fill="none" stroke="#e07c2c" stroke-width="0.92"/><path d="M149.5,128 C149.6,127.7 149.94,126.87 150.11,126.2 C150.27,125.53 150.15,124.55 150.5,124 C150.85,123.45 151.81,123.17 152.23,122.92 C152.64,122.67 152.67,122.3 153,122.5 C153.33,122.7 153.89,123.75 154.23,124.09 C154.56,124.42 154.6,124.72 155,124.5 C155.4,124.28 156.28,123.2 156.61,122.78 C156.95,122.36 156.69,121.98 157,122 C157.31,122.02 158.06,122.68 158.48,122.93 C158.89,123.18 159.2,123.16 159.5,123.5 C159.8,123.84 160.01,124.7 160.26,124.95 C160.51,125.2 160.7,124.67 161,125 C161.3,125.33 161.71,126.25 162.04,126.92 C162.38,127.58 162.84,128.65 163,129" fill="none" stroke="#e2d000" stroke-width="0.98"/><path d="M163,129 C163.12,129.59 163.49,131.54 163.74,132.54 C163.99,133.54 164.52,134.04 164.5,135 C164.48,135.96 163.72,137.15 163.63,138.32 C163.55,139.48 164.01,140.85 164,142 C163.99,143.15 163.49,144.22 163.57,145.22 C163.66,146.22 164.67,147.25 164.5,148 C164.33,148.75 163.03,149.05 162.53,149.71 C162.03,150.38 161.88,151.61 161.5,152 C161.12,152.39 160.81,151.83 160.23,152.08 C159.64,152.33 158.79,153.27 158,153.5 C157.21,153.73 156.15,153.37 155.48,153.45 C154.81,153.54 154.25,153.91 154,154" fill="none" stroke="#e2d000" stroke-width="0.92"/><path d="M172.5,128 C172.59,127.69 172.88,126.8 173.04,126.13 C173.21,125.46 173.13,124.38 173.5,124 C173.87,123.62 174.85,124.1 175.26,123.85 C175.68,123.6 175.62,122.59 176,122.5 C176.38,122.41 177.24,122.96 177.57,123.3 C177.91,123.63 177.65,124.53 178,124.5 C178.35,124.47 179.34,123.55 179.67,123.14 C180.01,122.72 179.79,122.17 180,122 C180.21,121.83 180.54,121.89 180.96,122.14 C181.38,122.39 182.12,123.23 182.5,123.5 C182.88,123.77 183.02,123.48 183.27,123.73 C183.52,123.98 183.77,124.43 184,125 C184.23,125.57 184.33,126.5 184.66,127.17 C184.99,127.83 185.78,128.69 186,129" fill="none" stroke="#e2d000" stroke-width="0.98"/><path d="M186,129 C186.18,129.6 186.85,131.62 187.1,132.62 C187.35,133.62 187.59,134.14 187.5,135 C187.41,135.86 186.64,136.59 186.56,137.76 C186.47,138.92 186.76,140.84 187,142 C187.24,143.16 187.91,143.73 187.99,144.73 C188.07,145.73 187.91,147.12 187.5,148 C187.09,148.88 186.04,149.33 185.54,150 C185.04,150.66 184.95,151.48 184.5,152 C184.05,152.52 183.41,152.86 182.83,153.11 C182.24,153.36 181.61,153.38 181,153.5 C180.39,153.62 179.83,153.73 179.16,153.82 C178.5,153.9 177.36,153.97 177,154" fill="none" stroke="#e2d000" stroke-width="0.92"/><path d="M194.5,128 C194.6,127.73 194.91,127.04 195.07,126.38 C195.24,125.71 195.16,124.43 195.5,124 C195.84,123.57 196.7,124.05 197.12,123.8 C197.54,123.55 197.74,122.43 198,122.5 C198.26,122.57 198.35,123.87 198.68,124.2 C199.01,124.53 199.6,124.6 200,124.5 C200.4,124.4 200.77,124.04 201.1,123.62 C201.43,123.2 201.58,122.04 202,122 C202.42,121.96 203.22,123.14 203.63,123.39 C204.05,123.64 204.29,123.39 204.5,123.5 C204.71,123.61 204.66,123.8 204.91,124.05 C205.16,124.3 205.6,124.49 206,125 C206.4,125.51 206.99,126.46 207.33,127.13 C207.66,127.79 207.89,128.69 208,129" fill="none" stroke="#3a66e0" stroke-width="0.98"/><path d="M208,129 C208.05,129.53 208.05,131.17 208.3,132.17 C208.55,133.17 209.44,133.84 209.5,135 C209.56,136.16 208.74,137.94 208.66,139.11 C208.58,140.27 208.98,141.03 209,142 C209.02,142.97 208.7,143.94 208.79,144.94 C208.87,145.94 209.56,147.05 209.5,148 C209.44,148.95 208.91,149.95 208.41,150.61 C207.91,151.28 207.09,151.6 206.5,152 C205.91,152.4 205.46,152.77 204.87,153.02 C204.29,153.27 203.64,153.29 203,153.5 C202.36,153.71 201.72,154.19 201.05,154.27 C200.39,154.35 199.34,154.04 199,154" fill="none" stroke="#e2d000" stroke-width="0.92"/><path d="M290,131 C290.17,130.33 290.33,128.08 291,127 C291.67,125.92 292.83,124.92 294,124.5 C295.17,124.08 296.75,124.17 298,124.5 C299.25,124.83 300.5,125.75 301.5,126.5 C302.5,127.25 303.33,127.92 304,129 C304.67,130.08 305.25,132.33 305.5,133" fill="none" stroke="#3a66e0" stroke-width="1.03"/><path d="M291.2,131 C291.17,132.67 291,137.83 291,141 C291,144.17 291.17,148.5 291.2,150" fill="none" stroke="#a8a8a8" stroke-width="3.0999999999999996"/><path d="M291.2,131 C291.17,132.67 291,137.83 291,141 C291,144.17 291.17,148.5 291.2,150" fill="none" stroke="#f4f4f4" stroke-width="1.9"/><path d="M294.8,129 C294.77,131 294.6,137 294.6,141 C294.6,145 294.77,151 294.8,153" fill="none" stroke="#a8a8a8" stroke-width="3.2199999999999998"/><path d="M294.8,129 C294.77,131 294.6,137 294.6,141 C294.6,145 294.77,151 294.8,153" fill="none" stroke="#f4f4f4" stroke-width="2.02"/><path d="M298.4,128 C298.37,130 298.2,136 298.2,140 C298.2,144 298.37,150 298.4,152" fill="none" stroke="#a8a8a8" stroke-width="3.2199999999999998"/><path d="M298.4,128 C298.37,130 298.2,136 298.2,140 C298.2,144 298.37,150 298.4,152" fill="none" stroke="#f4f4f4" stroke-width="2.02"/><path d="M301.9,129 C301.88,130.83 301.8,136.5 301.8,140 C301.8,143.5 301.88,148.33 301.9,150" fill="none" stroke="#a8a8a8" stroke-width="3.0999999999999996"/><path d="M301.9,129 C301.88,130.83 301.8,136.5 301.8,140 C301.8,143.5 301.88,148.33 301.9,150" fill="none" stroke="#f4f4f4" stroke-width="1.9"/><path d="M305.2,133 C305.23,134.17 305.4,137.67 305.4,140 C305.4,142.33 305.23,145.83 305.2,147" fill="none" stroke="#a8a8a8" stroke-width="2.9799999999999995"/><path d="M305.2,133 C305.23,134.17 305.4,137.67 305.4,140 C305.4,142.33 305.23,145.83 305.2,147" fill="none" stroke="#f4f4f4" stroke-width="1.7799999999999998"/><path d="M289.8,133 C289.73,134.17 289.4,137.5 289.4,140 C289.4,142.5 289.73,146.67 289.8,148" fill="none" stroke="#4c82e8" stroke-width="2.16"/><path d="M289.5,148 C289.75,148.83 290.25,151.67 291,153 C291.75,154.33 293.17,155.33 294,156 C294.83,156.67 295.33,156.5 296,157 C296.67,157.5 297.43,158.33 298,159 C298.57,159.67 299.17,160.67 299.4,161" fill="none" stroke="#3a66e0" stroke-width="1.03"/><path d="M293,131 C293.5,131.5 295.17,132.83 296,134 C296.83,135.17 297.67,137.33 298,138" fill="none" stroke="#3a66e0" stroke-width="0.92"/><path d="M300,135 C300.5,135.5 302,136.83 303,138 C304,139.17 305.67,140 306,142 C306.33,144 305.67,148 305,150 C304.33,152 302.5,153.33 302,154" fill="none" stroke="#3a66e0" stroke-width="0.92"/><ellipse cx="296.5" cy="146" rx="1.4" ry="3" fill="#4c82e8" transform="rotate(0,296.5,146)"/><ellipse cx="300.5" cy="139" rx="1" ry="2.2" fill="#4c82e8" transform="rotate(0,300.5,139)"/><ellipse cx="293" cy="137" rx="1" ry="2" fill="#6aa0e0" transform="rotate(0,293,137)"/><ellipse cx="303" cy="149.5" rx="1.5" ry="1.4" fill="#f8f000" transform="rotate(0,303,149.5)"/><path d="M301,146 C301.5,146.83 303.17,149.83 304,151 C304.83,152.17 305.67,152.67 306,153" fill="none" stroke="#dcec60" stroke-width="0.92"/><path d="M297,124.5 L299,122.5" fill="none" stroke="#e2d000" stroke-width="1.03"/><path d="M336.7,130 C336.33,132.08 334.45,138.17 334.5,142.5 C334.55,146.83 336.58,153.75 337,156" fill="none" stroke="#80b0e0" stroke-width="2.76"/><path d="M350.3,130 C350.67,132.08 352.55,138.17 352.5,142.5 C352.45,146.83 350.42,153.75 350,156" fill="none" stroke="#d8ec70" stroke-width="2.76"/><path d="M340.04,129 C339.93,131.25 339.41,137.67 339.41,142.5 C339.41,147.33 339.93,155.42 340.04,158" fill="none" stroke="#a0c8c8" stroke-width="2.76"/><path d="M346.31,127 C346.34,129.58 346.5,137.17 346.5,142.5 C346.5,147.83 346.34,156.25 346.31,159" fill="none" stroke="#f8f000" stroke-width="2.88"/><path d="M341.07,134 C341.51,134.3 343.68,135.2 343.68,135.8 C343.68,136.4 341.07,137 341.07,137.6 C341.07,138.2 343.68,138.8 343.68,139.4 C343.68,140 341.07,140.6 341.07,141.2 C341.07,141.8 343.68,142.4 343.68,143 C343.68,143.6 341.07,144.2 341.07,144.8 C341.07,145.4 343.68,146 343.68,146.6 C343.68,147.2 341.07,147.8 341.07,148.4 C341.07,149 343.68,149.6 343.68,150.2 C343.68,150.8 341.51,151.7 341.07,152" fill="none" stroke="#6a9ae0" stroke-width="1.7"/><path d="M336.7,130 C337.08,129.42 337.87,127.33 339,126.5 C340.13,125.67 342,125 343.5,125 C345,125 346.87,125.67 348,126.5 C349.13,127.33 349.92,129.42 350.3,130" fill="none" stroke="#dcec60" stroke-width="1.03"/><path d="M337,156 C337.33,156.5 337.92,158.17 339,159 C340.08,159.83 342.5,160.33 343.5,161 C344.5,161.67 344.75,162.67 345,163" fill="none" stroke="#dcec60" stroke-width="0.92"/><path d="M344,123.5 C344.42,123.67 345.92,124.08 346.5,124.5 C347.08,124.92 347.33,125.75 347.5,126" fill="none" stroke="#e2d000" stroke-width="1.03"/><path d="M335.5,146 C335.45,146.67 335.17,148.5 335.2,150 C335.23,151.5 335.62,154.17 335.7,155" fill="none" stroke="#4c82e8" stroke-width="2.76"/><ellipse cx="339.5" cy="130.5" rx="1.8" ry="2.4" fill="#f8f000" transform="rotate(0,339.5,130.5)"/><path d="M340,126 C340.5,125.67 342,123.83 343,124 C344,124.17 345.25,126 346,127 C346.75,128 347.25,129.5 347.5,130" fill="none" stroke="#e2d000" stroke-width="1.03"/><path d="M364.2,131 C363.83,132.83 361.95,138.17 362,142 C362.05,145.83 364.08,152 364.5,154" fill="none" stroke="#2c50e8" stroke-width="2.76"/><path d="M377.8,131 C378.17,132.83 380.05,138.17 380,142 C379.95,145.83 377.92,152 377.5,154" fill="none" stroke="#2c50e8" stroke-width="2.76"/><path d="M367.54,130 C367.43,132 366.91,137.67 366.91,142 C366.91,146.33 367.43,153.67 367.54,156" fill="none" stroke="#2c50e8" stroke-width="2.76"/><path d="M373.81,128 C373.84,130.33 374,137.17 374,142 C374,146.83 373.84,154.5 373.81,157" fill="none" stroke="#2c50e8" stroke-width="2.88"/><path d="M368.57,135 C369.01,135.31 371.18,136.25 371.18,136.88 C371.18,137.5 368.57,138.12 368.57,138.75 C368.57,139.38 371.18,140 371.18,140.62 C371.18,141.25 368.57,141.88 368.57,142.5 C368.57,143.12 371.18,143.75 371.18,144.38 C371.18,145 368.57,145.62 368.57,146.25 C368.57,146.88 371.18,147.5 371.18,148.12 C371.18,148.75 369.01,149.69 368.57,150" fill="none" stroke="#2c50e8" stroke-width="1.7"/><path d="M364.2,131 C364.58,130.42 365.37,128.33 366.5,127.5 C367.63,126.67 369.5,126 371,126 C372.5,126 374.37,126.67 375.5,127.5 C376.63,128.33 377.42,130.42 377.8,131" fill="none" stroke="#3a66e0" stroke-width="1.03"/><path d="M364.5,154 C364.83,154.5 365.42,156.17 366.5,157 C367.58,157.83 370,158.33 371,159 C372,159.67 372.25,160.67 372.5,161" fill="none" stroke="#3a66e0" stroke-width="0.92"/><path d="M371.5,124.5 C371.92,124.67 373.42,125.08 374,125.5 C374.58,125.92 374.83,126.75 375,127" fill="none" stroke="#e2d000" stroke-width="1.03"/><ellipse cx="367.5" cy="127" rx="1.5" ry="1.4" fill="#88b6e0" transform="rotate(0,367.5,127)"/><path d="M390.9,131 C390.53,132.83 388.65,138.17 388.7,142 C388.75,145.83 390.78,152 391.2,154" fill="none" stroke="#2c50e8" stroke-width="2.76"/><path d="M404.1,131 C404.47,132.83 406.35,138.17 406.3,142 C406.25,145.83 404.22,152 403.8,154" fill="none" stroke="#2c50e8" stroke-width="2.76"/><path d="M394.12,130 C394.01,132 393.5,137.67 393.5,142 C393.5,146.33 394.01,153.67 394.12,156" fill="none" stroke="#2c50e8" stroke-width="2.76"/><path d="M400.25,128 C400.28,130.33 400.43,137.17 400.43,142 C400.43,146.83 400.28,154.5 400.25,157" fill="none" stroke="#2c50e8" stroke-width="2.88"/><path d="M395.1,135 C395.53,135.31 397.7,136.25 397.7,136.88 C397.7,137.5 395.1,138.12 395.1,138.75 C395.1,139.38 397.7,140 397.7,140.62 C397.7,141.25 395.1,141.88 395.1,142.5 C395.1,143.12 397.7,143.75 397.7,144.38 C397.7,145 395.1,145.62 395.1,146.25 C395.1,146.88 397.7,147.5 397.7,148.12 C397.7,148.75 395.53,149.69 395.1,150" fill="none" stroke="#2c50e8" stroke-width="1.7"/><path d="M390.9,131 C391.27,130.42 392,128.33 393.1,127.5 C394.2,126.67 396.03,126 397.5,126 C398.97,126 400.8,126.67 401.9,127.5 C403,128.33 403.73,130.42 404.1,131" fill="none" stroke="#3a66e0" stroke-width="1.03"/><path d="M391.2,154 C391.52,154.5 392.05,156.17 393.1,157 C394.15,157.83 396.52,158.33 397.5,159 C398.48,159.67 398.75,160.67 399,161" fill="none" stroke="#3a66e0" stroke-width="0.92"/><path d="M398,124.5 C398.42,124.67 399.92,125.08 400.5,125.5 C401.08,125.92 401.33,126.75 401.5,127" fill="none" stroke="#e2d000" stroke-width="1.03"/><ellipse cx="394" cy="127" rx="1.5" ry="1.4" fill="#88b6e0" transform="rotate(0,394,127)"/><path d="M611,132 C610.77,133.67 609.6,138.67 609.6,142 C609.6,145.33 610.77,150.33 611,152" fill="none" stroke="#a8a8a8" stroke-width="3.34"/><path d="M611,132 C610.77,133.67 609.6,138.67 609.6,142 C609.6,145.33 610.77,150.33 611,152" fill="none" stroke="#f4f4f4" stroke-width="2.14"/><path d="M614,128 C613.9,130.33 613.4,137.33 613.4,142 C613.4,146.67 613.9,153.67 614,156" fill="none" stroke="#a8a8a8" stroke-width="3.46"/><path d="M614,128 C613.9,130.33 613.4,137.33 613.4,142 C613.4,146.67 613.9,153.67 614,156" fill="none" stroke="#f4f4f4" stroke-width="2.26"/><path d="M619.4,130 C619.5,132 620,138 620,142 C620,146 619.5,152 619.4,154" fill="none" stroke="#2c50e8" stroke-width="2.76"/><path d="M623.5,132 C623.83,133.67 625.5,138.67 625.5,142 C625.5,145.33 623.83,150.33 623.5,152" fill="none" stroke="#2c50e8" stroke-width="2.76"/><path d="M615.7,138 C616.07,138.33 617.9,139.33 617.9,140 C617.9,140.67 615.7,141.33 615.7,142 C615.7,142.67 617.9,143.33 617.9,144 C617.9,144.67 615.7,145.33 615.7,146 C615.7,146.67 617.9,147.33 617.9,148 C617.9,148.67 616.07,149.67 615.7,150" fill="none" stroke="#2c50e8" stroke-width="1.7"/><path d="M609,135 C609.08,133.83 609,129.67 609.5,128 C610,126.33 610.92,125.58 612,125 C613.08,124.42 614.67,124.42 616,124.5 C617.33,124.58 618.67,124.92 620,125.5 C621.33,126.08 622.95,126.58 624,128 C625.05,129.42 625.88,131.33 626.3,134 C626.72,136.67 626.72,141 626.5,144 C626.28,147 625.92,149.83 625,152 C624.08,154.17 622.33,155.83 621,157 C619.67,158.17 617.67,158.67 617,159" fill="none" stroke="#3a66e0" stroke-width="0.92"/><path d="M612,156 C612.5,156.5 613.83,158.17 615,159 C616.17,159.83 618.33,160.67 619,161" fill="none" stroke="#a8a8a8" stroke-width="0.8"/><path d="M28,253 C28.25,253.07 29.01,253.24 29.51,253.4 C30.01,253.57 30.57,253.86 31,254 C31.43,254.14 31.79,254.09 32.12,254.26 C32.46,254.42 32.49,254.95 33,255 C33.51,255.05 34.7,254.45 35.2,254.53 C35.7,254.62 35.72,255.04 36,255.5 C36.28,255.96 36.56,256.89 36.9,257.3 C37.23,257.72 37.86,257.41 38,258 C38.14,258.59 37.89,260.19 37.72,260.85 C37.56,261.52 37.11,261.53 37,262 C36.89,262.47 36.89,263.03 37.06,263.7 C37.22,264.37 37.74,265.25 38,266 C38.26,266.75 38.26,267.23 38.59,268.23 C38.92,269.23 39.75,271.03 40,272 C40.25,272.97 39.77,273.36 40.11,274.03 C40.44,274.7 41.59,275.31 42,276 C42.41,276.69 42.24,277.5 42.58,278.17 C42.91,278.83 43.64,279.19 44,280 C44.36,280.81 44.8,282.37 44.72,283.04 C44.63,283.71 43.52,283.48 43.5,284 C43.48,284.52 44.42,285.31 44.59,286.15 C44.75,286.98 44.51,288.52 44.5,289" fill="none" stroke="#e07c2c" stroke-width="1.03"/><path d="M31,256 C30.83,256.33 30.13,257.32 29.97,257.98 C29.8,258.65 30.08,259.21 30,260 C29.92,260.79 29.67,262.04 29.51,262.7 C29.34,263.37 28.96,263.38 29,264 C29.04,264.62 29.63,265.77 29.72,266.44 C29.8,267.1 29.62,267.49 29.5,268 C29.38,268.51 29.27,268.82 29.02,269.48 C28.77,270.15 28.15,271.18 28,272 C27.85,272.82 28.29,273.57 28.12,274.4 C27.95,275.23 27.25,276.25 27,277 C26.75,277.75 26.79,278.07 26.62,278.9 C26.46,279.73 26.24,281.06 26,282 C25.76,282.94 25.38,283.85 25.21,284.51 C25.04,285.18 25.21,285.52 25,286 C24.79,286.48 24.1,286.71 23.94,287.38 C23.77,288.04 24.12,289.1 24,290 C23.88,290.9 23.41,291.77 23.24,292.77 C23.07,293.77 23.13,294.97 23,296 C22.87,297.03 22.65,297.98 22.49,298.98 C22.32,299.98 22.08,301.5 22,302" fill="none" stroke="#e07c2c" stroke-width="1.03"/><path d="M15,258 C15.17,257.5 15.5,255.75 16,255 C16.5,254.25 17.17,253.83 18,253.5 C18.83,253.17 20,253.17 21,253 C22,252.83 23.17,252.67 24,252.5 C24.83,252.33 25.33,251.92 26,252 C26.67,252.08 27.67,252.83 28,253" fill="none" stroke="#e8b820" stroke-width="1.03"/><path d="M16,274 C16.17,274.83 16.5,277.67 17,279 C17.5,280.33 18.17,281.33 19,282 C19.83,282.67 21,283 22,283 C23,283 24.33,282.67 25,282 C25.67,281.33 25.83,279.5 26,279" fill="none" stroke="#e2d000" stroke-width="1.03"/><path d="M26,266 C26.5,266.67 28.33,268.67 29,270 C29.67,271.33 30.17,272.67 30,274 C29.83,275.33 28.33,277.33 28,278" fill="none" stroke="#e2d000" stroke-width="0.92"/><path d="M17,258 C16.83,258.67 16.2,260.67 16,262 C15.8,263.33 15.63,264.67 15.8,266 C15.97,267.33 16.55,268.67 17,270 C17.45,271.33 18.25,273.33 18.5,274" fill="none" stroke="#f8f000" stroke-width="3.12"/><path d="M19,260 C19.5,259.92 21,259.33 22,259.5 C23,259.67 24.5,260.75 25,261" fill="none" stroke="#f8f000" stroke-width="2.88"/><path d="M22,263 C21.83,263.83 21.42,266.17 21,268 C20.58,269.83 19.92,272.33 19.5,274 C19.08,275.67 18.67,277.33 18.5,278" fill="none" stroke="#f4c800" stroke-width="3.12"/><path d="M24,265 C24.33,265.17 25.42,265.42 26,266 C26.58,266.58 27,267.67 27.5,268.5 C28,269.33 28.75,270.58 29,271" fill="none" stroke="#f8f000" stroke-width="2.88"/><path d="M62,258 C62.33,258.02 63.33,258.31 63.99,258.14 C64.66,257.98 65.46,257.23 66,257 C66.54,256.77 66.59,256.78 67.26,256.78 C67.93,256.78 69.43,256.84 70,257 C70.57,257.16 70.19,257.6 70.69,257.77 C71.19,257.94 72.37,257.77 73,258 C73.63,258.23 73.77,258.66 74.44,259.16 C75.11,259.66 76.31,260.49 77,261 C77.69,261.51 78.24,261.53 78.57,262.2 C78.91,262.86 79.12,264.34 79,265 C78.88,265.66 78.04,265.64 77.88,266.14 C77.71,266.64 78.05,267.36 78,268 C77.95,268.64 77.89,269.29 77.56,269.96 C77.23,270.62 76.31,271.29 76,272 C75.69,272.71 75.89,273.72 75.73,274.22 C75.56,274.72 75.12,274.47 75,275 C74.88,275.53 74.85,276.57 75.01,277.4 C75.18,278.24 76.19,279.15 76,280 C75.81,280.85 74.4,281.84 73.9,282.51 C73.4,283.17 73.54,283.42 73,284 C72.46,284.58 71.14,285.46 70.64,285.96 C70.14,286.46 70.48,286.55 70,287 C69.52,287.45 68.4,288.13 67.73,288.63 C67.06,289.13 66.72,289.56 66,290 C65.28,290.44 64.1,291.11 63.44,291.28 C62.77,291.44 62.38,291.48 62,291 C61.62,290.52 61.34,289.25 61.17,288.42 C61,287.59 60.81,286.62 61,286 C61.19,285.38 62.12,285.17 62.29,284.67 C62.46,284.17 62.02,283.61 62,283 C61.98,282.39 62.01,281.51 62.18,281.01 C62.35,280.51 62.91,280.44 63,280 C63.09,279.56 63.07,279.06 62.74,278.39 C62.41,277.72 61.17,276.88 61,276 C60.83,275.12 61.56,274.1 61.73,273.1 C61.9,272.1 61.91,270.96 62,270 C62.09,269.04 62.43,268 62.26,267.33 C62.09,266.66 61.21,266.22 61,266" fill="none" stroke="#e07c2c" stroke-width="1.03"/><path d="M55,282 C54.67,282.5 53.67,284.17 53,285 C52.33,285.83 51.58,286.17 51,287 C50.42,287.83 49.7,289.08 49.5,290 C49.3,290.92 49.75,292.08 49.8,292.5" fill="none" stroke="#e07c2c" stroke-width="1.03"/><path d="M70,279.5 C70.33,279.42 71.33,279.17 72,279 C72.67,278.83 73.67,278.58 74,278.5" fill="none" stroke="#f59800" stroke-width="2.16"/><path d="M49,258 C49.5,257.33 50.83,254.83 52,254 C53.17,253.17 54.83,252.83 56,253 C57.17,253.17 58,254.5 59,255 C60,255.5 61.5,255.83 62,256" fill="none" stroke="#e8b820" stroke-width="1.03"/><path d="M50,276 C50.33,276.5 51.17,278.17 52,279 C52.83,279.83 54,281.17 55,281 C56,280.83 57,279 58,278 C59,277 60.5,275.5 61,275" fill="none" stroke="#e2d000" stroke-width="1.03"/><path d="M50,258 C49.92,258.83 49.5,261.33 49.5,263 C49.5,264.67 49.75,266.33 50,268 C50.25,269.67 50.83,272.17 51,273" fill="none" stroke="#f8f000" stroke-width="3.12"/><path d="M53,260 C53.33,260 54.33,259.67 55,260 C55.67,260.33 56.67,261.67 57,262" fill="none" stroke="#f8f000" stroke-width="2.76"/><path d="M55,264 C54.83,264.83 54.33,267.17 54,269 C53.67,270.83 53.17,274 53,275" fill="none" stroke="#f4c800" stroke-width="3.12"/><path d="M57,266 C57.33,266.33 58.42,267.17 59,268 C59.58,268.83 60.25,270.5 60.5,271" fill="none" stroke="#f8f000" stroke-width="2.76"/><ellipse cx="51" cy="261" rx="1" ry="1" fill="#90ccc4" transform="rotate(0,51,261)"/><path d="M86,258 C86.67,257.5 88.5,255.67 90,255 C91.5,254.33 93.5,253.67 95,254 C96.5,254.33 97.67,256.33 99,257 C100.33,257.67 102,257.17 103,258 C104,258.83 104.17,260 105,262 C105.83,264 107.5,268.67 108,270" fill="none" stroke="#e2d000" stroke-width="1.03"/><path d="M106,274 C105.67,275 105,278.5 104,280 C103,281.5 101.17,282.67 100,283 C98.83,283.33 97.5,282.17 97,282" fill="none" stroke="#e2d000" stroke-width="1.03"/><path d="M87,279 C87.5,279.67 88.83,282 90,283 C91.17,284 93.33,284.67 94,285" fill="none" stroke="#e2d000" stroke-width="1.03"/><path d="M104,244 C104.33,244.67 106.17,246.17 106,248 C105.83,249.83 104,252.67 103,255 C102,257.33 100.83,259.5 100,262 C99.17,264.5 98.67,267.33 98,270 C97.33,272.67 96.83,275.83 96,278 C95.17,280.17 93.67,281.33 93,283 C92.33,284.67 91.83,286.83 92,288 C92.17,289.17 93.17,289.83 94,290 C94.83,290.17 96.5,289.17 97,289" fill="none" stroke="#e07c2c" stroke-width="1.03"/><path d="M87,262 C86.92,263 86.33,266 86.5,268 C86.67,270 87.75,273 88,274" fill="none" stroke="#f8f000" stroke-width="2.88"/><path d="M93,265 C92.75,266 92,268.83 91.5,271 C91,273.17 90.25,276.83 90,278" fill="none" stroke="#f8f000" stroke-width="3.12"/><path d="M88,261 L89.5,263.5" fill="none" stroke="#b4d890" stroke-width="2.64"/><path d="M95,263 C95.5,263.17 97.17,263.5 98,264 C98.83,264.5 99.67,265.67 100,266" fill="none" stroke="#f8f000" stroke-width="2.4"/><path d="M102.3,281 C102.7,281.42 104.7,282.67 104.7,283.5 C104.7,284.33 102.7,285.58 102.3,286" fill="none" stroke="#f8f000" stroke-width="1.7"/><ellipse cx="106" cy="271" rx="1.2" ry="1.5" fill="#f8f000" transform="rotate(0,106,271)"/><path d="M95,262 C95.32,262.34 96.43,263.35 96.93,264.02 C97.43,264.69 97.65,265.41 98,266 C98.35,266.59 98.54,266.88 99.04,267.54 C99.54,268.21 100.54,269.1 101,270 C101.46,270.9 101.44,272.12 101.77,272.95 C102.1,273.78 102.88,274.35 103,275 C103.12,275.65 102.85,276.16 102.52,276.82 C102.19,277.49 101.25,278.64 101,279" fill="none" stroke="#e2d000" stroke-width="0.92"/><path d="M85,266 C85.07,266.49 85.27,267.92 85.44,268.92 C85.61,269.92 85.83,270.93 86,272 C86.17,273.07 86.12,274.32 86.45,275.32 C86.78,276.32 87.37,277.27 88,278 C88.63,278.73 89.54,279.21 90.21,279.71 C90.87,280.21 91.7,280.78 92,281" fill="none" stroke="#e2d000" stroke-width="0.92"/><ellipse cx="89.5" cy="259.5" rx="1.3" ry="1.1" fill="#b4d890" transform="rotate(0,89.5,259.5)"/><ellipse cx="103" cy="259" rx="1.6" ry="1.2" fill="#f8f000" transform="rotate(0,103,259)"/><path d="M118,258 C118.67,257.67 120.67,256.5 122,256 C123.33,255.5 124.83,255 126,255 C127.17,255 128.17,255.5 129,256 C129.83,256.5 130.33,257.33 131,258 C131.67,258.67 132.17,258.67 133,260 C133.83,261.33 135.17,264.33 136,266 C136.83,267.67 137.67,269.33 138,270" fill="none" stroke="#e2d000" stroke-width="1.03"/><path d="M131,258 C131.5,257.67 133.17,256.83 134,256 C134.83,255.17 135.33,254 136,253 C136.67,252 137.5,250.83 138,250 C138.5,249.17 138.83,248.33 139,248" fill="none" stroke="#e2d000" stroke-width="1.03"/><path d="M139,248 C138.83,247.5 138.25,245.83 138,245 C137.75,244.17 137.58,243.33 137.5,243" fill="none" stroke="#e07c2c" stroke-width="1.03"/><path d="M128,264 C127.67,265 126.67,268 126,270 C125.33,272 124.83,274 124,276 C123.17,278 121.67,280.17 121,282 C120.33,283.83 119.5,285.83 120,287 C120.5,288.17 122.67,288.83 124,289 C125.33,289.17 126.67,288.5 128,288 C129.33,287.5 131.33,286.33 132,286" fill="none" stroke="#e2d000" stroke-width="1.03"/><path d="M137,272 C137.5,272.17 139.5,272.33 140,273 C140.5,273.67 140.5,275.5 140,276 C139.5,276.5 137.5,276 137,276" fill="none" stroke="#88b6e0" stroke-width="1.03"/><path d="M116,282 C116.5,282.67 117.83,285.17 119,286 C120.17,286.83 122.33,286.83 123,287" fill="none" stroke="#88b6e0" stroke-width="0.92"/><path d="M115.3,264.6 C115.08,265.6 113.88,268.6 114,270.6 C114.12,272.6 115.67,275.6 116,276.6" fill="none" stroke="#a8d098" stroke-width="2.88"/><path d="M123.3,266.6 C122.75,267.82 121.12,271.57 120,273.9 C118.88,276.23 117.17,279.48 116.6,280.6" fill="none" stroke="#c8e060" stroke-width="3.36"/><path d="M118,262 L120.5,264" fill="none" stroke="#4c82e8" stroke-width="2.88"/><path d="M124.6,267.3 C125.38,268.08 128.18,270.9 129.3,272 C130.42,273.1 130.97,273.58 131.3,273.9" fill="none" stroke="#4c82e8" stroke-width="3.12"/><path d="M133,283 L135.5,285" fill="none" stroke="#6a9ae0" stroke-width="2.88"/><ellipse cx="119" cy="260" rx="1.4" ry="1.2" fill="#88b6e0" transform="rotate(0,119,260)"/><path d="M114,262 C113.88,262.52 113.46,264.14 113.29,265.14 C113.12,266.14 112.98,266.93 113,268 C113.02,269.07 113.08,270.58 113.41,271.58 C113.74,272.58 114.75,273 115,274 C115.25,275 115.05,276.6 114.89,277.6 C114.72,278.6 113.95,279.24 114,280 C114.05,280.76 114.72,281.31 115.22,282.14 C115.72,282.97 116.7,284.52 117,285" fill="none" stroke="#e2d000" stroke-width="0.92"/><path d="M125,258 C125.16,258.27 125.49,259.11 125.99,259.61 C126.49,260.11 127.32,260.55 128,261 C128.68,261.45 129.59,261.81 130.09,262.31 C130.59,262.81 130.67,263.41 131,264 C131.33,264.59 131.72,265.18 132.05,265.85 C132.39,266.52 132.88,267.1 133,268 C133.12,268.9 132.95,270.22 132.79,271.22 C132.62,272.22 132.36,272.94 132,274 C131.64,275.06 131.12,276.57 130.62,277.57 C130.12,278.57 129.48,279.29 129,280 C128.52,280.71 128.24,281.14 127.74,281.81 C127.24,282.48 126.29,283.64 126,284" fill="none" stroke="#e2d000" stroke-width="0.92"/><path d="M121,276 C121.29,276.25 122.07,277 122.74,277.5 C123.4,278 124.28,278.59 125,279 C125.72,279.41 126.41,279.62 127.08,279.95 C127.74,280.29 128.33,280.83 129,281 C129.67,281.17 130.44,280.98 131.1,280.98 C131.77,280.98 132.35,281.22 133,281 C133.65,280.78 134.35,279.98 135.02,279.64 C135.69,279.31 136.67,279.11 137,279" fill="none" stroke="#88b6e0" stroke-width="0.92"/><path d="M126,262 L129,264" fill="none" stroke="#7aa8e0" stroke-width="2.4"/><path d="M134,258 L136.5,260" fill="none" stroke="#a0d0a0" stroke-width="2.4"/><ellipse cx="132" cy="279" rx="1.6" ry="1.2" fill="#4c82e8" transform="rotate(0,132,279)"/><ellipse cx="139" cy="276" rx="1.2" ry="1.6" fill="#6a9ae0" transform="rotate(0,139,276)"/><path d="M310,245 L311.5,248" fill="none" stroke="#e07c2c" stroke-width="1.03"/><path d="M311.5,248 C311.42,248.67 311.42,250.83 311,252 C310.58,253.17 309.58,254 309,255 C308.42,256 307.92,257 307.5,258 C307.08,259 306.67,260.5 306.5,261" fill="none" stroke="#e2d000" stroke-width="1.03"/><path d="M288,263 C288.67,262.5 290.67,260.67 292,260 C293.33,259.33 294.83,258.83 296,259 C297.17,259.17 298.17,260.5 299,261 C299.83,261.5 300.67,261.83 301,262" fill="none" stroke="#3a66e0" stroke-width="1.03"/><path d="M287,268 C287,269.67 286.67,275.17 287,278 C287.33,280.83 288,283.33 289,285 C290,286.67 291.5,287.5 293,288 C294.5,288.5 296.5,288.33 298,288 C299.5,287.67 301.33,286.33 302,286" fill="none" stroke="#3a66e0" stroke-width="1.03"/><path d="M306,262 C306.5,262.67 308.17,264.33 309,266 C309.83,267.67 310.83,270 311,272 C311.17,274 310.67,276.5 310,278 C309.33,279.5 307.5,280.5 307,281" fill="none" stroke="#3a66e0" stroke-width="1.03"/><path d="M291,266 C291.5,267.5 293,272 294,275 C295,278 296.5,282.5 297,284" fill="none" stroke="#a8a8a8" stroke-width="3.0999999999999996"/><path d="M291,266 C291.5,267.5 293,272 294,275 C295,278 296.5,282.5 297,284" fill="none" stroke="#f4f4f4" stroke-width="1.9"/><path d="M289.5,281 C290,279.67 291.45,275.75 292.5,273 C293.55,270.25 295.25,265.92 295.8,264.5" fill="none" stroke="#a8a8a8" stroke-width="3.34"/><path d="M289.5,281 C290,279.67 291.45,275.75 292.5,273 C293.55,270.25 295.25,265.92 295.8,264.5" fill="none" stroke="#f4f4f4" stroke-width="2.14"/><path d="M294.8,283 C295.5,281.33 297.52,276.33 299,273 C300.48,269.67 302.92,264.67 303.7,263" fill="none" stroke="#a8a8a8" stroke-width="3.34"/><path d="M294.8,283 C295.5,281.33 297.52,276.33 299,273 C300.48,269.67 302.92,264.67 303.7,263" fill="none" stroke="#f4f4f4" stroke-width="2.14"/><path d="M300.7,280 C301.08,278.67 302.17,274.53 303,272 C303.83,269.47 305.25,266 305.7,264.8" fill="none" stroke="#a8a8a8" stroke-width="3.2199999999999998"/><path d="M300.7,280 C301.08,278.67 302.17,274.53 303,272 C303.83,269.47 305.25,266 305.7,264.8" fill="none" stroke="#f4f4f4" stroke-width="2.02"/><ellipse cx="289.5" cy="270" rx="1.5" ry="3.5" fill="#2c50e8" transform="rotate(15,289.5,270)"/><ellipse cx="297.5" cy="276" rx="1.4" ry="3.5" fill="#2c50e8" transform="rotate(20,297.5,276)"/><ellipse cx="303.5" cy="276.5" rx="1.2" ry="1.8" fill="#2c50e8" transform="rotate(0,303.5,276.5)"/><ellipse cx="305" cy="287" rx="2.2" ry="1.5" fill="#4c82e8" transform="rotate(0,305,287)"/><path d="M330,255 C330.33,255.17 331.83,255.17 332,256 C332.17,256.83 330.67,259 331,260 C331.33,261 333,261.5 334,262 C335,262.5 336.5,262.83 337,263" fill="none" stroke="#e2d000" stroke-width="1.03"/><path d="M341,259 C341.67,258.5 343.83,256.83 345,256 C346.17,255.17 347.17,254 348,254 C348.83,254 349.83,255.33 350,256 C350.17,256.67 348.67,257.67 349,258 C349.33,258.33 351,258.17 352,258 C353,257.83 354.17,257.08 355,257 C355.83,256.92 356.67,257.42 357,257.5" fill="none" stroke="#e2d000" stroke-width="1.03"/><path d="M357,257.5 C357.33,257.67 358.42,258 359,258.5 C359.58,259 360.42,259.83 360.5,260.5 C360.58,261.17 359.67,262.17 359.5,262.5" fill="none" stroke="#e07c2c" stroke-width="1.26"/><path d="M356,266 C356.33,266.5 357.67,267.83 358,269 C358.33,270.17 357.5,271.67 358,273 C358.5,274.33 360.67,275.5 361,277 C361.33,278.5 360.83,281 360,282 C359.17,283 357.33,282.67 356,283 C354.67,283.33 352.67,283.83 352,284" fill="none" stroke="#e2d000" stroke-width="1.03"/><path d="M337,276 C337.17,276.83 337.33,279.67 338,281 C338.67,282.33 339.67,283.17 341,284 C342.33,284.83 344.17,285.33 346,286 C347.83,286.67 350.33,288 352,288 C353.67,288 355.33,286.33 356,286" fill="none" stroke="#e2d000" stroke-width="1.03"/><path d="M345,272 C345.67,272.67 347.83,274.83 349,276 C350.17,277.17 351.5,278.5 352,279" fill="none" stroke="#e2d000" stroke-width="0.92"/><path d="M338,280 C337.5,280.67 335.83,282.67 335,284 C334.17,285.33 333.5,286.83 333,288 C332.5,289.17 332.5,290 332,291 C331.5,292 330.58,292.83 330,294 C329.42,295.17 328.75,297.33 328.5,298" fill="none" stroke="#e07c2c" stroke-width="1.03"/><path d="M353,278 C352.67,278.67 351.58,280.83 351,282 C350.42,283.17 349.75,284.5 349.5,285" fill="none" stroke="#e07c2c" stroke-width="1.26"/><path d="M339,264 C340.33,264.67 344.17,266.5 347,268 C349.83,269.5 354.5,272.17 356,273" fill="none" stroke="#f8f000" stroke-width="3.6"/><path d="M338,271 C339.5,271.75 344,274.08 347,275.5 C350,276.92 354.5,278.83 356,279.5" fill="none" stroke="#f8f000" stroke-width="3.24"/><path d="M337.5,263.5 C337.42,264.25 337,266.58 337,268 C337,269.42 337.42,271.33 337.5,272" fill="none" stroke="#f8f000" stroke-width="2.64"/><path d="M339,278 C339.67,277.33 341.58,275.5 343,274 C344.42,272.5 346.75,269.83 347.5,269" fill="none" stroke="#f59800" stroke-width="3.12"/><ellipse cx="348.5" cy="268.5" rx="1.8" ry="1.3" fill="#f59800" transform="rotate(-40,348.5,268.5)"/><path d="M375,257 C374.83,257.83 373.83,261.17 374,262 C374.17,262.83 375,262.67 376,262 C377,261.33 378.67,259 380,258 C381.33,257 382.67,256.17 384,256 C385.33,255.83 387.33,256.83 388,257" fill="none" stroke="#e2d000" stroke-width="1.03"/><path d="M386,256 C386.5,255.5 387.83,253.5 389,253 C390.17,252.5 391.83,252.83 393,253 C394.17,253.17 395,254 396,254 C397,254 398.5,253.17 399,253" fill="none" stroke="#e2d000" stroke-width="1.03"/><path d="M399,253 C399.5,253.33 401,254 402,255 C403,256 404.67,257.83 405,259 C405.33,260.17 404.67,261.33 404,262 C403.33,262.67 401,262.33 401,263 C401,263.67 403.5,265.5 404,266" fill="none" stroke="#e07c2c" stroke-width="1.03"/><path d="M392,272 C392.5,272.5 394,274.17 395,275 C396,275.83 397.33,276.17 398,277 C398.67,277.83 399.33,279.33 399,280 C398.67,280.67 397,281.17 396,281 C395,280.83 393.5,279.33 393,279" fill="none" stroke="#e2d000" stroke-width="1.03"/><path d="M383,277 C383.5,277.5 384.83,279.33 386,280 C387.17,280.67 388.67,281.17 390,281 C391.33,280.83 393.33,279.33 394,279" fill="none" stroke="#e2d000" stroke-width="1.03"/><path d="M380,268 C379.67,268.5 378.33,270 378,271 C377.67,272 378,273.5 378,274" fill="none" stroke="#e2d000" stroke-width="0.92"/><path d="M369,286 C369.33,285.33 370.17,283 371,282 C371.83,281 373,280.67 374,280 C375,279.33 376.5,278.33 377,278" fill="none" stroke="#e07c2c" stroke-width="1.03"/><path d="M383,282 C382.67,282.67 381.58,284.67 381,286 C380.42,287.33 379.75,289.33 379.5,290" fill="none" stroke="#e07c2c" stroke-width="1.03"/><path d="M379,264 C380,264.5 382.92,265.83 385,267 C387.08,268.17 390.42,270.33 391.5,271" fill="none" stroke="#c8e090" stroke-width="3.36"/><path d="M382.6,260.8 C383.45,261.12 386,261.65 387.7,262.7 C389.4,263.75 391.95,266.37 392.8,267.1" fill="none" stroke="#e4f040" stroke-width="2.64"/><path d="M377.5,275.4 L382,276.7" fill="none" stroke="#f8f000" stroke-width="3.6"/><path d="M416,260 C415.67,259.33 413.83,257.17 414,256 C414.17,254.83 416.17,253 417,253 C417.83,253 418.17,255.17 419,256 C419.83,256.83 420.83,257.67 422,258 C423.17,258.33 424.67,257.33 426,258 C427.33,258.67 429.33,261.33 430,262" fill="none" stroke="#88b6e0" stroke-width="1.03"/><path d="M431,250 C431.33,249.83 432.5,248.67 433,249 C433.5,249.33 434.17,251 434,252 C433.83,253 432,254 432,255 C432,256 433.17,257.17 434,258 C434.83,258.83 436.33,259.33 437,260 C437.67,260.67 437.83,261.67 438,262" fill="none" stroke="#e2d000" stroke-width="1.03"/><path d="M436.5,276 C437,276 438.75,275.5 439.5,276 C440.25,276.5 441.17,278.17 441,279 C440.83,279.83 439.33,281 438.5,281 C437.67,281 436.42,279.33 436,279" fill="none" stroke="#dcec60" stroke-width="1.15"/><path d="M408,286 C408.33,285.5 409.17,283.83 410,283 C410.83,282.17 412.17,281.17 413,281 C413.83,280.83 414.33,281.5 415,282 C415.67,282.5 416.67,283.67 417,284" fill="none" stroke="#e2d000" stroke-width="1.03"/><path d="M419,282 C419.5,282.5 420.83,284.17 422,285 C423.17,285.83 425.33,286.67 426,287" fill="none" stroke="#e0a040" stroke-width="1.03"/><path d="M438,262 C438.08,263 438.53,265.77 438.5,268 C438.47,270.23 437.92,274.17 437.8,275.4" fill="none" stroke="#88b6e0" stroke-width="0.92"/><path d="M419.5,260 C420.52,260.32 423.47,261.07 425.6,261.9 C427.73,262.73 430.47,263.77 432.3,265 C434.13,266.23 435.88,268.58 436.6,269.3" fill="none" stroke="#90bcd8" stroke-width="3.96"/><path d="M420.7,265.6 C421.72,266.22 424.55,268.08 426.8,269.3 C429.05,270.52 432.37,271.88 434.2,272.9 C436.03,273.92 437.2,274.98 437.8,275.4" fill="none" stroke="#90bcd8" stroke-width="3.72"/><path d="M419.5,275.4 C420.32,274.88 422.77,273.32 424.4,272.3 C426.03,271.28 428.48,269.8 429.3,269.3" fill="none" stroke="#84b0d8" stroke-width="3.72"/><path d="M421,263 L422.5,269" fill="none" stroke="#5a8ee0" stroke-width="2.16"/><path d="M428,285 C428.5,284.67 429.92,283.83 431,283 C432.08,282.17 433.92,280.5 434.5,280" fill="none" stroke="#f8f000" stroke-width="3.84"/><path d="M456,262 C455.5,261.83 453.17,261.83 453,261 C452.83,260.17 454.83,258.17 455,257 C455.17,255.83 453.67,254.17 454,254 C454.33,253.83 455.83,255.33 457,256 C458.17,256.67 460.33,257.67 461,258" fill="none" stroke="#3a66e0" stroke-width="1.03"/><path d="M470,248 C469.83,248.67 468.83,250.67 469,252 C469.17,253.33 470.33,255 471,256 C471.67,257 472.17,257.67 473,258 C473.83,258.33 475.17,257.33 476,258 C476.83,258.67 477.83,260.33 478,262 C478.17,263.67 477.17,267 477,268" fill="none" stroke="#3a66e0" stroke-width="1.03"/><path d="M472,251 L474,254" fill="none" stroke="#dcec60" stroke-width="1.03"/><path d="M478,274 C478.5,274.5 480.58,275.83 481,277 C481.42,278.17 481.17,280.17 480.5,281 C479.83,281.83 477.58,281.83 477,282" fill="none" stroke="#3a66e0" stroke-width="1.03"/><path d="M445,288 C445.33,287.17 446.17,284.17 447,283 C447.83,281.83 449,281 450,281 C451,281 452.17,282.83 453,283 C453.83,283.17 454.67,282.17 455,282" fill="none" stroke="#e2d000" stroke-width="1.03"/><path d="M458,280 C458.67,280.67 460.83,283 462,284 C463.17,285 464.5,285.67 465,286" fill="none" stroke="#88b6e0" stroke-width="0.92"/><path d="M472,280 C472.67,280.5 474.83,282.5 476,283 C477.17,283.5 478.5,283 479,283" fill="none" stroke="#88b6e0" stroke-width="0.92"/><path d="M457.9,259.5 C458.82,259.8 461.35,260.48 463.4,261.3 C465.45,262.12 468.15,263.18 470.2,264.4 C472.25,265.62 474.78,267.9 475.7,268.6" fill="none" stroke="#4c82e8" stroke-width="4.08"/><path d="M459.1,266.2 C460.13,266.82 463.05,268.68 465.3,269.9 C467.55,271.12 470.57,272.68 472.6,273.5 C474.63,274.32 476.68,274.58 477.5,274.8" fill="none" stroke="#4c82e8" stroke-width="3.84"/><path d="M456.1,278.4 C457.02,278 459.67,277.02 461.6,276 C463.53,274.98 466.68,272.92 467.7,272.3" fill="none" stroke="#2c50e8" stroke-width="4.2"/><path d="M464.6,285.2 C465.22,284.78 466.97,283.52 468.3,282.7 C469.63,281.88 471.88,280.7 472.6,280.3" fill="none" stroke="#3a64e4" stroke-width="3.96"/><path d="M462,263 C462.67,263.5 464.67,265.17 466,266 C467.33,266.83 469.33,267.67 470,268" fill="none" stroke="#2c50e8" stroke-width="2.16"/><path d="M466,275 C466.67,275.33 468.67,276.5 470,277 C471.33,277.5 473.33,277.83 474,278" fill="none" stroke="#2c50e8" stroke-width="1.92"/><path d="M606,257 C606.17,256.25 606.33,252.67 607,252.5 C607.67,252.33 608.83,254.92 610,256 C611.17,257.08 612.67,258 614,259 C615.33,260 617.33,261.5 618,262" fill="none" stroke="#3a66e0" stroke-width="1.03"/><path d="M619,251 C619.17,251.67 619.5,253.83 620,255 C620.5,256.17 621.33,257 622,258 C622.67,259 623.67,260.5 624,261" fill="none" stroke="#3a66e0" stroke-width="1.03"/><path d="M620.5,249.5 L622,252.5" fill="none" stroke="#dcec60" stroke-width="1.03"/><path d="M621,256 C621.67,255.92 623.83,255.33 625,255.5 C626.17,255.67 626.92,256.42 628,257 C629.08,257.58 630.83,258 631.5,259 C632.17,260 632.25,261.67 632,263 C631.75,264.33 630.33,266.33 630,267" fill="none" stroke="#a8a8a8" stroke-width="1.03"/><path d="M598,289 C598.33,288.33 599.33,286.17 600,285 C600.67,283.83 601.17,282.33 602,282 C602.83,281.67 604.5,282.83 605,283" fill="none" stroke="#e2d000" stroke-width="1.03"/><path d="M605,283 C605.67,283.5 607.5,285.17 609,286 C610.5,286.83 612.22,287.42 614,288 C615.78,288.58 618.75,289.25 619.7,289.5" fill="none" stroke="#3a66e0" stroke-width="0.92"/><path d="M612,281 C612.67,280.67 614.5,279 616,279 C617.5,279 619.33,280.17 621,281 C622.67,281.83 624.67,283.83 626,284 C627.33,284.17 628.5,282.33 629,282" fill="none" stroke="#a8a8a8" stroke-width="0.92"/><path d="M628,270 C628.5,270.67 630.25,272.5 631,274 C631.75,275.5 632.67,277.5 632.5,279 C632.33,280.5 631.08,282.17 630,283 C628.92,283.83 626.67,283.83 626,284" fill="none" stroke="#3a66e0" stroke-width="0.92"/><path d="M621,258 C622,258.33 625.33,259.17 627,260 C628.67,260.83 630.33,262.5 631,263" fill="none" stroke="#a8a8a8" stroke-width="3.0999999999999996"/><path d="M621,258 C622,258.33 625.33,259.17 627,260 C628.67,260.83 630.33,262.5 631,263" fill="none" stroke="#f4f4f4" stroke-width="1.9"/><path d="M610.8,262.4 C611.67,262.67 614.13,263.33 616,264 C617.87,264.67 620.08,265.6 622,266.4 C623.92,267.2 626.58,268.4 627.5,268.8" fill="none" stroke="#2c50e8" stroke-width="3.36"/><path d="M610.5,268 C611.42,268.33 614.25,269.33 616,270 C617.75,270.67 619,271.25 621,272 C623,272.75 626.83,274.08 628,274.5" fill="none" stroke="#a8a8a8" stroke-width="3.34"/><path d="M610.5,268 C611.42,268.33 614.25,269.33 616,270 C617.75,270.67 619,271.25 621,272 C623,272.75 626.83,274.08 628,274.5" fill="none" stroke="#f4f4f4" stroke-width="2.14"/><path d="M609.2,279.1 C609.75,278.95 611.43,278.47 612.5,278.2 C613.57,277.93 614.35,278.12 615.6,277.5 C616.85,276.88 619.27,275 620,274.5" fill="none" stroke="#2c50e8" stroke-width="3.36"/><path d="M611,272.5 L615,274" fill="none" stroke="#4c82e8" stroke-width="2.4"/><ellipse cx="619.5" cy="285.8" rx="3" ry="1.8" fill="#2c50e8" transform="rotate(0,619.5,285.8)"/><ellipse cx="631" cy="278.5" rx="1.8" ry="2.2" fill="#2c50e8" transform="rotate(0,631,278.5)"/></g>
<circle cx="35.2" cy="38.1" r="2.0" fill="#6e6e6e"/>
<circle cx="54.4" cy="38" r="2.0" fill="#6e6e6e"/>
<circle cx="88.8" cy="39.7" r="2.0" fill="#6e6e6e"/>
<circle cx="126.2" cy="39.5" r="2.0" fill="#6e6e6e"/>
<circle cx="298.4" cy="39" r="2.0" fill="#6e6e6e"/>
<circle cx="344.4" cy="39" r="2.0" fill="#6e6e6e"/>
<circle cx="363.7" cy="39.8" r="2.0" fill="#6e6e6e"/>
<circle cx="389.4" cy="40.6" r="2.0" fill="#6e6e6e"/>
<circle cx="417.8" cy="41" r="2.0" fill="#6e6e6e"/>
<circle cx="619.5" cy="40" r="2.0" fill="#6e6e6e"/>
<circle cx="21.9" cy="163.1" r="2.0" fill="#6e6e6e"/>
<circle cx="39.9" cy="163.1" r="2.0" fill="#6e6e6e"/>
<circle cx="63.8" cy="163" r="2.0" fill="#6e6e6e"/>
<circle cx="82.7" cy="163" r="2.0" fill="#6e6e6e"/>
<circle cx="103.7" cy="163" r="2.0" fill="#6e6e6e"/>
<circle cx="122.2" cy="162" r="2.0" fill="#6e6e6e"/>
<circle cx="147.5" cy="162" r="2.0" fill="#6e6e6e"/>
<circle cx="171.2" cy="162" r="2.0" fill="#6e6e6e"/>
<circle cx="199.5" cy="162" r="2.0" fill="#6e6e6e"/>
<circle cx="299.4" cy="162.2" r="2.0" fill="#6e6e6e"/>
<circle cx="344" cy="165.3" r="2.0" fill="#6e6e6e"/>
<circle cx="371" cy="165.3" r="2.0" fill="#6e6e6e"/>
<circle cx="397" cy="165.3" r="2.0" fill="#6e6e6e"/>
<circle cx="619.1" cy="166" r="2.0" fill="#6e6e6e"/>
<circle cx="36" cy="292.5" r="2.0" fill="#6e6e6e"/>
<circle cx="49.9" cy="292.5" r="2.0" fill="#6e6e6e"/>
<circle cx="86" cy="291.6" r="2.0" fill="#6e6e6e"/>
<circle cx="112.7" cy="293" r="2.0" fill="#6e6e6e"/>
<circle cx="299" cy="292.8" r="2.0" fill="#6e6e6e"/>
<circle cx="346.8" cy="297.9" r="2.0" fill="#6e6e6e"/>
<circle cx="386.9" cy="292" r="2.0" fill="#6e6e6e"/>
<circle cx="425.4" cy="291.8" r="2.0" fill="#6e6e6e"/>
<circle cx="463.7" cy="293" r="2.0" fill="#6e6e6e"/>
<circle cx="619.7" cy="291.7" r="2.0" fill="#6e6e6e"/>
<circle cx="147.5" cy="244.8" r="0.8" fill="#111"/><circle cx="288" cy="244.6" r="0.8" fill="#111"/>
<text transform="translate(303.96,113.87) scale(1.077,1.268)" font-size="10" fill="#111" stroke="#111" stroke-width="0.35">G</text>
<text transform="translate(608.46,112.87) scale(1.077,1.268)" font-size="10" fill="#111" stroke="#111" stroke-width="0.35">G</text>
<text transform="translate(617.5,115.52) scale(0.855,0.818)" font-size="10" fill="#111" stroke="#111" stroke-width="0.2">mut</text>
<text transform="translate(306.18,239) scale(1.023,1.304)" font-size="10" fill="#111" stroke="#111" stroke-width="0.35">L</text>
<text transform="translate(611.24,235.6) scale(0.955,1.246)" font-size="10" fill="#111" stroke="#111" stroke-width="0.35">L</text>
<text transform="translate(616.4,238.52) scale(0.855,0.818)" font-size="10" fill="#111" stroke="#111" stroke-width="0.2">mut</text>
<text transform="translate(272.19,363.97) scale(1.016,0.968)" font-size="10" fill="#111" stroke="#111" stroke-width="0.3">Ubiquitin</text>
<text transform="translate(616.57,364.39) scale(0.865,1.056)" font-size="10" fill="#111" stroke="#111" stroke-width="0.3">SH3</text>
<text transform="translate(8.05,98.44) rotate(-90) scale(1.074,1.022)" font-size="10" fill="#111" stroke="#111" stroke-width="0.3">pLDDT</text>
<text transform="translate(8.05,218.44) rotate(-90) scale(1.061,1.022)" font-size="10" fill="#111" stroke="#111" stroke-width="0.3">pLDDT</text>
<text transform="translate(8.05,345.34) rotate(-90) scale(1.074,1.022)" font-size="10" fill="#111" stroke="#111" stroke-width="0.3">pLDDT</text>
<rect x="641.1" y="176.39" width="11.8" height="10.96" fill="#fcce25"/>
<path d="M652.9,181.85h1.5" stroke="#444" stroke-width="0.6"/>
<text x="655.3" y="181.85" font-size="7" dominant-baseline="central" fill="#111">0</text>
<rect x="641.1" y="165.48" width="11.8" height="10.96" fill="#fdab33"/>
<path d="M652.9,170.94h1.5" stroke="#444" stroke-width="0.6"/>
<text x="655.3" y="170.94" font-size="7" dominant-baseline="central" fill="#111">1</text>
<rect x="641.1" y="154.57" width="11.8" height="10.96" fill="#f58b47"/>
<path d="M652.9,160.03h1.5" stroke="#444" stroke-width="0.6"/>
<text x="655.3" y="160.03" font-size="7" dominant-baseline="central" fill="#111">2</text>
<rect x="641.1" y="143.66" width="11.8" height="10.96" fill="#e76e5b"/>
<path d="M652.9,149.12h1.5" stroke="#444" stroke-width="0.6"/>
<text x="655.3" y="149.12" font-size="7" dominant-baseline="central" fill="#111">3</text>
<rect x="641.1" y="132.75" width="11.8" height="10.96" fill="#d5536f"/>
<path d="M652.9,138.21h1.5" stroke="#444" stroke-width="0.6"/>
<text x="655.3" y="138.21" font-size="7" dominant-baseline="central" fill="#111">4</text>
<rect x="641.1" y="121.85" width="11.8" height="10.96" fill="#bf3984"/>
<path d="M652.9,127.3h1.5" stroke="#444" stroke-width="0.6"/>
<text x="655.3" y="127.3" font-size="7" dominant-baseline="central" fill="#111">5</text>
<rect x="641.1" y="110.94" width="11.8" height="10.96" fill="#a51f99"/>
<path d="M652.9,116.39h1.5" stroke="#444" stroke-width="0.6"/>
<text x="655.3" y="116.39" font-size="7" dominant-baseline="central" fill="#111">6</text>
<rect x="641.1" y="100.03" width="11.8" height="10.96" fill="#8606a6"/>
<path d="M652.9,105.48h1.5" stroke="#444" stroke-width="0.6"/>
<text x="655.3" y="105.48" font-size="7" dominant-baseline="central" fill="#111">7</text>
<rect x="641.1" y="89.12" width="11.8" height="10.96" fill="#6300a7"/>
<path d="M652.9,94.57h1.5" stroke="#444" stroke-width="0.6"/>
<text x="655.3" y="94.57" font-size="7" dominant-baseline="central" fill="#111">8</text>
<rect x="641.1" y="78.21" width="11.8" height="10.96" fill="#3e049c"/>
<path d="M652.9,83.66h1.5" stroke="#444" stroke-width="0.6"/>
<text x="655.3" y="83.66" font-size="7" dominant-baseline="central" fill="#111">9</text>
<rect x="641.1" y="67.3" width="11.8" height="10.96" fill="#0d0887"/>
<path d="M652.9,72.75h1.5" stroke="#444" stroke-width="0.6"/>
<text x="655.3" y="72.75" font-size="7" dominant-baseline="central" fill="#111">10</text>
<text transform="translate(669.31,166.68) rotate(-90) scale(0.969,0.806)" font-size="10" fill="#111" stroke="#111" stroke-width="0.2">recycling number</text>
<defs><linearGradient id="pl" x1="0" y1="1" x2="0" y2="0"><stop offset="0" stop-color="#ee1a0c"/><stop offset="0.3" stop-color="#f0260c"/><stop offset="0.4" stop-color="#f0340a"/><stop offset="0.47" stop-color="#f46a04"/><stop offset="0.55" stop-color="#f89000"/><stop offset="0.62" stop-color="#fcbc00"/><stop offset="0.68" stop-color="#fdea00"/><stop offset="0.78" stop-color="#fcf800"/><stop offset="0.82" stop-color="#c8d040"/><stop offset="0.86" stop-color="#8aa890"/><stop offset="0.9" stop-color="#5a80d8"/><stop offset="0.94" stop-color="#4050e0"/><stop offset="1" stop-color="#3030e0"/></linearGradient></defs>
<rect x="645" y="206.6" width="7" height="132.4" fill="url(#pl)"/>
<path d="M652,339h1.6" stroke="#444" stroke-width="0.6"/>
<text x="655.8" y="339" font-size="9.4" dominant-baseline="central" fill="#111" transform="translate(-65.58,0) scale(1.1,1)">0</text>
<path d="M652,312.68h1.6" stroke="#444" stroke-width="0.6"/>
<text x="655.8" y="312.68" font-size="9.4" dominant-baseline="central" fill="#111" transform="translate(-65.58,0) scale(1.1,1)">20</text>
<path d="M652,286.36h1.6" stroke="#444" stroke-width="0.6"/>
<text x="655.8" y="286.36" font-size="9.4" dominant-baseline="central" fill="#111" transform="translate(-65.58,0) scale(1.1,1)">40</text>
<path d="M652,260.04h1.6" stroke="#444" stroke-width="0.6"/>
<text x="655.8" y="260.04" font-size="9.4" dominant-baseline="central" fill="#111" transform="translate(-65.58,0) scale(1.1,1)">60</text>
<path d="M652,233.72h1.6" stroke="#444" stroke-width="0.6"/>
<text x="655.8" y="233.72" font-size="9.4" dominant-baseline="central" fill="#111" transform="translate(-65.58,0) scale(1.1,1)">80</text>
<path d="M652,207.4h1.6" stroke="#444" stroke-width="0.6"/>
<text x="655.8" y="207.4" font-size="9.4" dominant-baseline="central" fill="#111" transform="translate(-65.58,0) scale(1.1,1)">100</text>
<text transform="translate(684.55,288.6) rotate(-90) scale(1.003,1.167)" font-size="10" fill="#111" stroke="#111" stroke-width="0.2">pLDDT</text>
</svg></body></html>
